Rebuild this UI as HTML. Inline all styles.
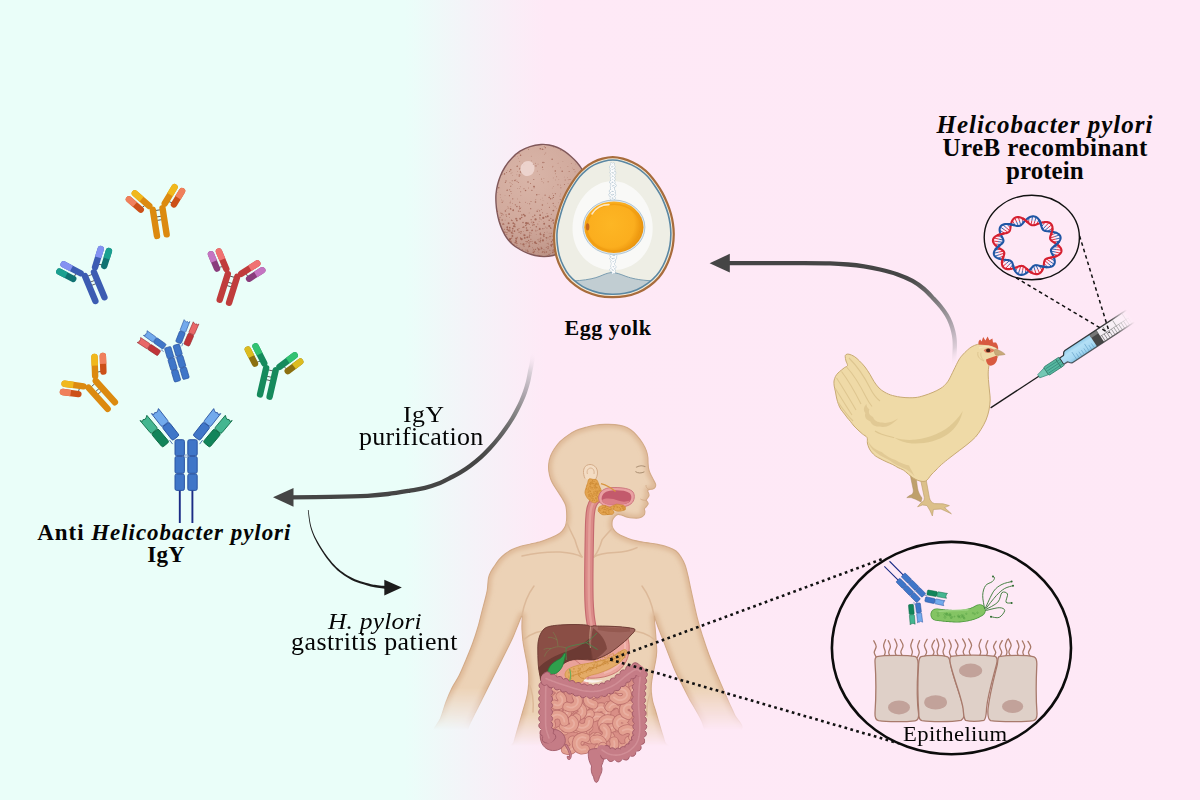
<!DOCTYPE html>
<html><head><meta charset="utf-8"><title>IgY diagram</title>
<style>
html,body{margin:0;padding:0;}
body{width:1200px;height:800px;overflow:hidden;position:relative;font-family:"Liberation Serif",serif;color:#050505;
background:linear-gradient(90deg,#eafef9 0px,#eafef9 405px,#f4f3f8 470px,#fee9f6 545px,#fee8f6 1200px);}
.t{position:absolute;white-space:nowrap;line-height:1;transform-origin:0 0;}
.b{font-weight:bold;}
.i{font-style:italic;}
svg{position:absolute;left:0;top:0;}
</style></head><body>
<svg id="art" width="1200" height="800" viewBox="0 0 1200 800">
<!-- arrows -->
<defs>
<linearGradient id="ga1" gradientUnits="userSpaceOnUse" x1="900" y1="275" x2="955" y2="365">
<stop offset="0" stop-color="#454545"/><stop offset="0.11" stop-color="#4c4c4c"/><stop offset="0.36" stop-color="#787678"/><stop offset="0.55" stop-color="#9a959a"/><stop offset="0.72" stop-color="#bcb1bb"/><stop offset="0.86" stop-color="#dccdd8"/><stop offset="1" stop-color="#fee8f6" stop-opacity="0"/></linearGradient>
<linearGradient id="ga2" gradientUnits="userSpaceOnUse" x1="533" y1="352" x2="480" y2="460">
<stop offset="0" stop-color="#fee8f6" stop-opacity="0"/><stop offset="0.16" stop-color="#d9d0d8"/><stop offset="0.33" stop-color="#b1a9b1"/><stop offset="0.49" stop-color="#8b8a8b"/><stop offset="0.67" stop-color="#6a6a6a"/><stop offset="0.87" stop-color="#505050"/><stop offset="1" stop-color="#454545"/></linearGradient>
</defs>
<path d="M727,263.1C733.33,263.1 752.83,263.1 765,263.1C777.17,263.1 789.17,263.05 800,263.1C810.83,263.15 822,263.17 830,263.4C838,263.63 842.33,264 848,264.5C853.67,265 858.67,265.57 864,266.4C869.33,267.23 874.5,268.2 880,269.5C885.5,270.8 891.58,272.3 897,274.2C902.42,276.1 908,278.43 912.5,280.9C917,283.37 920.47,286.02 924,289C927.53,291.98 930.87,295.8 933.7,298.8C936.53,301.8 938.83,304.3 941,307C943.17,309.7 945.1,312.33 946.7,315C948.3,317.67 949.52,320.28 950.6,323C951.68,325.72 952.53,328.55 953.2,331.3C953.87,334.05 954.33,336.78 954.6,339.5C954.87,342.22 954.83,344.85 954.8,347.6C954.77,350.35 954.53,353.1 954.4,356C954.27,358.9 954.07,363.5 954,365" fill="none" stroke="url(#ga1)" stroke-width="4.3"/>
<path d="M709.6,263.2 L729.8,253.8 L729.8,272.5 Z" fill="#454545"/>
<path d="M533.4,351C533.17,352.83 532.57,358.5 532,362C531.43,365.5 530.67,368.67 530,372C529.33,375.33 528.83,378.67 528,382C527.17,385.33 526.1,388.83 525,392C523.9,395.17 522.73,398 521.4,401C520.07,404 518.57,407 517,410C515.43,413 513.83,416 512,419C510.17,422 508.23,424.83 506,428C503.77,431.17 501.27,434.67 498.6,438C495.93,441.33 493,444.77 490,448C487,451.23 483.93,454.4 480.6,457.4C477.27,460.4 473.37,463.5 470,466C466.63,468.5 463.73,470.4 460.4,472.4C457.07,474.4 453.4,476.23 450,478C446.6,479.77 444.17,481.37 440,483C435.83,484.63 430,486.53 425,487.8C420,489.07 416.17,489.57 410,490.6C403.83,491.63 395.08,493.13 388,494C380.92,494.87 377.17,495.32 367.5,495.8C357.83,496.28 342.75,496.65 330,496.9C317.25,497.15 297.5,497.23 291,497.3" fill="none" stroke="url(#ga2)" stroke-width="4.3"/>
<path d="M273,497.3 L293.5,487.9 L293.5,506.7 Z" fill="#454545"/>
<path d="M307.85,510.04L308.06,511.81L308.32,514.28L308.65,517.19L309.06,520.3L309.55,523.36L310.13,526.12L310.79,528.54L311.51,530.85L312.32,533.09L313.23,535.33L314.27,537.64L315.46,540.08L316.82,542.7L318.36,545.45L320.02,548.27L321.78,551.09L323.58,553.84L325.4,556.44L327.23,558.92L329.1,561.34L331.02,563.7L333.01,565.96L335.08,568.12L337.22,570.15L339.45,572.06L341.77,573.86L344.15,575.54L346.58,577.11L349.05,578.56L351.56,579.9L354.19,581.13L356.97,582.22L359.78,583.19L362.49,584.06L364.99,584.82L367.18,585.49L368.99,586.04L370.51,586.47L371.84,586.8L373.1,587.06L374.37,587.3L375.81,587.55L377.53,587.82L379.45,588.07L381.4,588.3L383.22,588.49L384.76,588.66L385.86,588.79L386.14,586.01L385.03,585.92L383.48,585.79L381.66,585.64L379.74,585.46L377.86,585.26L376.19,585.05L374.78,584.84L373.53,584.65L372.34,584.44L371.08,584.18L369.62,583.81L367.82,583.31L365.62,582.68L363.12,581.96L360.44,581.16L357.69,580.25L354.99,579.23L352.44,578.1L350.01,576.84L347.58,575.46L345.19,573.97L342.85,572.37L340.57,570.66L338.38,568.85L336.27,566.9L334.23,564.83L332.25,562.64L330.32,560.35L328.44,557.99L326.6,555.56L324.77,553.02L322.95,550.33L321.18,547.56L319.49,544.79L317.94,542.09L316.54,539.52L315.33,537.13L314.27,534.88L313.33,532.69L312.5,530.5L311.75,528.25L311.07,525.88L310.45,523.19L309.92,520.17L309.47,517.08L309.1,514.18L308.8,511.72L308.55,509.96Z" fill="#1c1c1c"/>
<path d="M401.8,587.6 L384.3,579.8 L384.3,595.4 Z" fill="#1c1c1c"/>
<!-- antibodies -->
<g transform="translate(157.4,207.2) rotate(-9) scale(1)">
<g transform="translate(-6.4,-0.8) rotate(-40)">
<path d="M0,-5.5 L-8.4,-7" stroke="#555" stroke-width="0.9" fill="none"/>
<rect x="-11.6" y="-25" width="6.4" height="22" rx="3.2" fill="#cc5018"/>
<path d="M-11.6,-14 V-21.8 a3.2,3.2 0 0 1 6.4,0 V-14 Z" fill="#f0805c"/>
<rect x="-3.2" y="-24.5" width="6.4" height="25.5" rx="3.2" fill="#dc8a10"/>
<path d="M-3.2,-12.5 V-21.3 a3.2,3.2 0 0 1 6.4,0 V-12.5 Z" fill="#f0b81c"/>
</g>
<g transform="translate(6.4,-0.8) rotate(40)">
<path d="M0,-5.5 L8.4,-7" stroke="#555" stroke-width="0.9" fill="none"/>
<rect x="5.2" y="-25" width="6.4" height="22" rx="3.2" fill="#cc5018"/>
<path d="M5.2,-14 V-21.8 a3.2,3.2 0 0 1 6.4,0 V-14 Z" fill="#f0805c"/>
<rect x="-3.2" y="-24.5" width="6.4" height="25.5" rx="3.2" fill="#dc8a10"/>
<path d="M-3.2,-12.5 V-21.3 a3.2,3.2 0 0 1 6.4,0 V-12.5 Z" fill="#f0b81c"/>
</g>
<path d="M-2.4,3 H2.4 M-2.4,9.5 H2.4 M-2.4,13 H2.4" stroke="#555" stroke-width="0.9"/>
<rect x="-8.1" y="-1.5" width="6.4" height="33.0" rx="3.2" fill="#dc8a10"/>
<rect x="1.7" y="-1.5" width="6.4" height="33.0" rx="3.2" fill="#dc8a10"/>
</g>
<g transform="translate(88.8,272.5) rotate(-22.7) scale(1)">
<g transform="translate(-6.4,-0.8) rotate(-40)">
<path d="M0,-5.5 L-8.4,-7" stroke="#555" stroke-width="0.9" fill="none"/>
<rect x="-11.6" y="-25" width="6.4" height="22" rx="3.2" fill="#107272"/>
<path d="M-11.6,-14 V-21.8 a3.2,3.2 0 0 1 6.4,0 V-14 Z" fill="#1aa090"/>
<rect x="-3.2" y="-24.5" width="6.4" height="25.5" rx="3.2" fill="#3c5cb2"/>
<path d="M-3.2,-12.5 V-21.3 a3.2,3.2 0 0 1 6.4,0 V-12.5 Z" fill="#8492f2"/>
</g>
<g transform="translate(6.4,-0.8) rotate(40)">
<path d="M0,-5.5 L8.4,-7" stroke="#555" stroke-width="0.9" fill="none"/>
<rect x="5.2" y="-25" width="6.4" height="22" rx="3.2" fill="#107272"/>
<path d="M5.2,-14 V-21.8 a3.2,3.2 0 0 1 6.4,0 V-14 Z" fill="#1aa090"/>
<rect x="-3.2" y="-24.5" width="6.4" height="25.5" rx="3.2" fill="#3c5cb2"/>
<path d="M-3.2,-12.5 V-21.3 a3.2,3.2 0 0 1 6.4,0 V-12.5 Z" fill="#8492f2"/>
</g>
<path d="M-2.4,3 H2.4 M-2.4,9.5 H2.4 M-2.4,13 H2.4" stroke="#555" stroke-width="0.9"/>
<rect x="-8.1" y="-1.5" width="6.4" height="33.5" rx="3.2" fill="#3c5cb2"/>
<rect x="1.7" y="-1.5" width="6.4" height="33.5" rx="3.2" fill="#3c5cb2"/>
</g>
<g transform="translate(233,273.8) rotate(17.4) scale(1)">
<g transform="translate(-6.4,-0.8) rotate(-40)">
<path d="M0,-5.5 L-8.4,-7" stroke="#555" stroke-width="0.9" fill="none"/>
<rect x="-11.6" y="-25" width="6.4" height="22" rx="3.2" fill="#8a3c7c"/>
<path d="M-11.6,-14 V-21.8 a3.2,3.2 0 0 1 6.4,0 V-14 Z" fill="#c474c2"/>
<rect x="-3.2" y="-24.5" width="6.4" height="25.5" rx="3.2" fill="#c03c3c"/>
<path d="M-3.2,-12.5 V-21.3 a3.2,3.2 0 0 1 6.4,0 V-12.5 Z" fill="#f07272"/>
</g>
<g transform="translate(6.4,-0.8) rotate(40)">
<path d="M0,-5.5 L8.4,-7" stroke="#555" stroke-width="0.9" fill="none"/>
<rect x="5.2" y="-25" width="6.4" height="22" rx="3.2" fill="#8a3c7c"/>
<path d="M5.2,-14 V-21.8 a3.2,3.2 0 0 1 6.4,0 V-14 Z" fill="#c474c2"/>
<rect x="-3.2" y="-24.5" width="6.4" height="25.5" rx="3.2" fill="#c03c3c"/>
<path d="M-3.2,-12.5 V-21.3 a3.2,3.2 0 0 1 6.4,0 V-12.5 Z" fill="#f07272"/>
</g>
<path d="M-2.4,3 H2.4 M-2.4,9.5 H2.4 M-2.4,13 H2.4" stroke="#555" stroke-width="0.9"/>
<rect x="-8.1" y="-1.5" width="6.4" height="33.5" rx="3.2" fill="#c03c3c"/>
<rect x="1.7" y="-1.5" width="6.4" height="33.5" rx="3.2" fill="#c03c3c"/>
</g>
<g transform="translate(91,383) rotate(-42) scale(1)">
<g transform="translate(-6.4,-0.8) rotate(-40)">
<path d="M0,-5.5 L-8.4,-7" stroke="#555" stroke-width="0.9" fill="none"/>
<rect x="-11.6" y="-25" width="6.4" height="22" rx="3.2" fill="#cc5018"/>
<path d="M-11.6,-14 V-21.8 a3.2,3.2 0 0 1 6.4,0 V-14 Z" fill="#f0805c"/>
<rect x="-3.2" y="-24.5" width="6.4" height="25.5" rx="3.2" fill="#dc8a10"/>
<path d="M-3.2,-12.5 V-21.3 a3.2,3.2 0 0 1 6.4,0 V-12.5 Z" fill="#f0b81c"/>
</g>
<g transform="translate(6.4,-0.8) rotate(40)">
<path d="M0,-5.5 L8.4,-7" stroke="#555" stroke-width="0.9" fill="none"/>
<rect x="5.2" y="-25" width="6.4" height="22" rx="3.2" fill="#cc5018"/>
<path d="M5.2,-14 V-21.8 a3.2,3.2 0 0 1 6.4,0 V-14 Z" fill="#f0805c"/>
<rect x="-3.2" y="-24.5" width="6.4" height="25.5" rx="3.2" fill="#dc8a10"/>
<path d="M-3.2,-12.5 V-21.3 a3.2,3.2 0 0 1 6.4,0 V-12.5 Z" fill="#f0b81c"/>
</g>
<path d="M-2.4,3 H2.4 M-2.4,9.5 H2.4 M-2.4,13 H2.4" stroke="#555" stroke-width="0.9"/>
<rect x="-8.1" y="-1.5" width="6.4" height="35.0" rx="3.2" fill="#dc8a10"/>
<rect x="1.7" y="-1.5" width="6.4" height="35.0" rx="3.2" fill="#dc8a10"/>
</g>
<g transform="translate(271.3,367.5) rotate(13) scale(1)">
<g transform="translate(-6.4,-0.8) rotate(-40)">
<path d="M0,-5.5 L-8.4,-7" stroke="#555" stroke-width="0.9" fill="none"/>
<rect x="-11.6" y="-25" width="6.4" height="22" rx="3.2" fill="#8c7010"/>
<path d="M-11.6,-14 V-21.8 a3.2,3.2 0 0 1 6.4,0 V-14 Z" fill="#dcbc20"/>
<rect x="-3.2" y="-24.5" width="6.4" height="25.5" rx="3.2" fill="#158a5c"/>
<path d="M-3.2,-12.5 V-21.3 a3.2,3.2 0 0 1 6.4,0 V-12.5 Z" fill="#32c272"/>
</g>
<g transform="translate(6.4,-0.8) rotate(40)">
<path d="M0,-5.5 L8.4,-7" stroke="#555" stroke-width="0.9" fill="none"/>
<rect x="5.2" y="-25" width="6.4" height="22" rx="3.2" fill="#8c7010"/>
<path d="M5.2,-14 V-21.8 a3.2,3.2 0 0 1 6.4,0 V-14 Z" fill="#dcbc20"/>
<rect x="-3.2" y="-24.5" width="6.4" height="25.5" rx="3.2" fill="#158a5c"/>
<path d="M-3.2,-12.5 V-21.3 a3.2,3.2 0 0 1 6.4,0 V-12.5 Z" fill="#32c272"/>
</g>
<path d="M-2.4,3 H2.4 M-2.4,9.5 H2.4 M-2.4,13 H2.4" stroke="#555" stroke-width="0.9"/>
<rect x="-8.1" y="-1.5" width="6.4" height="33.5" rx="3.2" fill="#158a5c"/>
<rect x="1.7" y="-1.5" width="6.4" height="33.5" rx="3.2" fill="#158a5c"/>
</g>
<g transform="translate(171.7,345.6) rotate(-16.6) scale(0.7)">
<g transform="translate(-20.3,5.5) rotate(-40) scale(-1,1)">
<rect x="-4.3" y="-17.2" width="8.6" height="17.2" rx="1.7" fill="#c03438" stroke="#9a2c30" stroke-width="0.9"/>
<path d="M-4.3,-19.2 Q-4.3,-17.7 -2.8,-17.7 H2.8 Q4.3,-17.7 4.3,-19.2 V-35 L3.01,-32.8 L1.29,-33.8 L-0.43,-32.6 L-2.37,-33.4 L-4.3,-34.6 Z" fill="#e86868" stroke="#9a2c30" stroke-width="0.8"/>
</g>
<path d="M-16.5,1 L-13.5,5" stroke="#27509e" stroke-width="0.8"/>
<g transform="translate(-10.2,-1.2) rotate(-38) scale(-1,1)">
<rect x="-4.3" y="-16.8" width="8.6" height="16.8" rx="1.7" fill="#3f76c8" stroke="#27509e" stroke-width="0.9"/>
<path d="M-4.3,-18.8 Q-4.3,-17.3 -2.8,-17.3 H2.8 Q4.3,-17.3 4.3,-18.8 V-34.2 L3.01,-32 L1.29,-33 L-0.43,-31.8 L-2.37,-32.6 L-4.3,-33.8 Z" fill="#72aaec" stroke="#27509e" stroke-width="0.8"/>
</g>
<g transform="translate(20.3,5.5) rotate(40) scale(1,1)">
<rect x="-4.3" y="-17.2" width="8.6" height="17.2" rx="1.7" fill="#c03438" stroke="#9a2c30" stroke-width="0.9"/>
<path d="M-4.3,-19.2 Q-4.3,-17.7 -2.8,-17.7 H2.8 Q4.3,-17.7 4.3,-19.2 V-35 L3.01,-32.8 L1.29,-33.8 L-0.43,-32.6 L-2.37,-33.4 L-4.3,-34.6 Z" fill="#e86868" stroke="#9a2c30" stroke-width="0.8"/>
</g>
<path d="M16.5,1 L13.5,5" stroke="#27509e" stroke-width="0.8"/>
<g transform="translate(10.2,-1.2) rotate(38) scale(1,1)">
<rect x="-4.3" y="-16.8" width="8.6" height="16.8" rx="1.7" fill="#3f76c8" stroke="#27509e" stroke-width="0.9"/>
<path d="M-4.3,-18.8 Q-4.3,-17.3 -2.8,-17.3 H2.8 Q4.3,-17.3 4.3,-18.8 V-34.2 L3.01,-32 L1.29,-33 L-0.43,-31.8 L-2.37,-32.6 L-4.3,-33.8 Z" fill="#72aaec" stroke="#27509e" stroke-width="0.8"/>
</g>
<rect x="-11.1" y="0.6" width="9.4" height="16" rx="1.7" fill="#3f76c8" stroke="#27509e" stroke-width="0.95"/>
<rect x="-11.1" y="17.3" width="9.4" height="16.9" rx="1.7" fill="#3f76c8" stroke="#27509e" stroke-width="0.95"/>
<rect x="-11.1" y="34.9" width="9.4" height="16.4" rx="1.7" fill="#3f76c8" stroke="#27509e" stroke-width="0.95"/>
<rect x="1.7" y="0.6" width="9.4" height="16" rx="1.7" fill="#3f76c8" stroke="#27509e" stroke-width="0.95"/>
<rect x="1.7" y="17.3" width="9.4" height="16.9" rx="1.7" fill="#3f76c8" stroke="#27509e" stroke-width="0.95"/>
<rect x="1.7" y="34.9" width="9.4" height="16.4" rx="1.7" fill="#3f76c8" stroke="#27509e" stroke-width="0.95"/>
<ellipse cx="0" cy="17" rx="1.7" ry="1.2" fill="#f4fbfa" stroke="#27509e" stroke-width="0.5"/>
</g>
<g transform="translate(186.1,439.1) rotate(0) scale(1)">
<path d="M-6.3,50 V83.8 M6.3,50 V83.8" stroke="#1c2c86" stroke-width="1.9" fill="none"/>
<g transform="translate(-20.3,5.5) rotate(-40) scale(-1,1)">
<rect x="-4.3" y="-17.2" width="8.6" height="17.2" rx="1.7" fill="#12845a" stroke="#0c6a44" stroke-width="0.9"/>
<path d="M-4.3,-19.2 Q-4.3,-17.7 -2.8,-17.7 H2.8 Q4.3,-17.7 4.3,-19.2 V-35 L3.01,-32.8 L1.29,-33.8 L-0.43,-32.6 L-2.37,-33.4 L-4.3,-34.6 Z" fill="#44b690" stroke="#0c6a44" stroke-width="0.8"/>
</g>
<path d="M-16.5,1 L-13.5,5" stroke="#27509e" stroke-width="0.8"/>
<g transform="translate(-10.2,-1.2) rotate(-38) scale(-1,1)">
<rect x="-4.3" y="-16.8" width="8.6" height="16.8" rx="1.7" fill="#3f76c8" stroke="#27509e" stroke-width="0.9"/>
<path d="M-4.3,-18.8 Q-4.3,-17.3 -2.8,-17.3 H2.8 Q4.3,-17.3 4.3,-18.8 V-34.2 L3.01,-32 L1.29,-33 L-0.43,-31.8 L-2.37,-32.6 L-4.3,-33.8 Z" fill="#72aaec" stroke="#27509e" stroke-width="0.8"/>
</g>
<g transform="translate(20.3,5.5) rotate(40) scale(1,1)">
<rect x="-4.3" y="-17.2" width="8.6" height="17.2" rx="1.7" fill="#12845a" stroke="#0c6a44" stroke-width="0.9"/>
<path d="M-4.3,-19.2 Q-4.3,-17.7 -2.8,-17.7 H2.8 Q4.3,-17.7 4.3,-19.2 V-35 L3.01,-32.8 L1.29,-33.8 L-0.43,-32.6 L-2.37,-33.4 L-4.3,-34.6 Z" fill="#44b690" stroke="#0c6a44" stroke-width="0.8"/>
</g>
<path d="M16.5,1 L13.5,5" stroke="#27509e" stroke-width="0.8"/>
<g transform="translate(10.2,-1.2) rotate(38) scale(1,1)">
<rect x="-4.3" y="-16.8" width="8.6" height="16.8" rx="1.7" fill="#3f76c8" stroke="#27509e" stroke-width="0.9"/>
<path d="M-4.3,-18.8 Q-4.3,-17.3 -2.8,-17.3 H2.8 Q4.3,-17.3 4.3,-18.8 V-34.2 L3.01,-32 L1.29,-33 L-0.43,-31.8 L-2.37,-32.6 L-4.3,-33.8 Z" fill="#72aaec" stroke="#27509e" stroke-width="0.8"/>
</g>
<rect x="-11.1" y="0.6" width="9.4" height="16" rx="1.7" fill="#3f76c8" stroke="#27509e" stroke-width="0.95"/>
<rect x="-11.1" y="17.3" width="9.4" height="16.9" rx="1.7" fill="#3f76c8" stroke="#27509e" stroke-width="0.95"/>
<rect x="-11.1" y="34.9" width="9.4" height="16.4" rx="1.7" fill="#3f76c8" stroke="#27509e" stroke-width="0.95"/>
<rect x="1.7" y="0.6" width="9.4" height="16" rx="1.7" fill="#3f76c8" stroke="#27509e" stroke-width="0.95"/>
<rect x="1.7" y="17.3" width="9.4" height="16.9" rx="1.7" fill="#3f76c8" stroke="#27509e" stroke-width="0.95"/>
<rect x="1.7" y="34.9" width="9.4" height="16.4" rx="1.7" fill="#3f76c8" stroke="#27509e" stroke-width="0.95"/>
<ellipse cx="0" cy="17" rx="1.7" ry="1.2" fill="#f4fbfa" stroke="#27509e" stroke-width="0.5"/>
</g>
<!-- eggs -->
<defs>
<radialGradient id="gEggB" gradientUnits="userSpaceOnUse" cx="530" cy="176" r="88">
<stop offset="0" stop-color="#d9b5a8"/><stop offset="0.5" stop-color="#d2ab9e"/><stop offset="0.8" stop-color="#c59c8f"/><stop offset="1" stop-color="#b68c80"/></radialGradient>
<clipPath id="cEggB"><path d="M541,144.5C537.83,144.77 533.5,145.48 530,146.6C526.5,147.72 523.07,149.23 520,151.2C516.93,153.17 514.1,155.77 511.6,158.4C509.1,161.03 506.87,164.07 505,167C503.13,169.93 501.65,173 500.4,176C499.15,179 498.23,182 497.5,185C496.77,188 496.25,191 496,194C495.75,197 495.83,200 496,203C496.17,206 496.5,209 497,212C497.5,215 498.13,218.07 499,221C499.87,223.93 500.95,226.85 502.2,229.6C503.45,232.35 504.77,235.03 506.5,237.5C508.23,239.97 510.35,242.4 512.6,244.4C514.85,246.4 517.53,248.03 520,249.5C522.47,250.97 524.9,252.2 527.4,253.2C529.9,254.2 532.23,254.93 535,255.5C537.77,256.07 541,256.6 544,256.6C547,256.6 549.83,256.33 553,255.5C556.17,254.67 559.83,253.18 563,251.6C566.17,250.02 569.17,248.33 572,246C574.83,243.67 577.73,240.6 580,237.6C582.27,234.6 584.03,231.5 585.6,228C587.17,224.5 588.57,220.43 589.4,216.6C590.23,212.77 590.57,208.77 590.6,205C590.63,201.23 590.1,197.5 589.6,194C589.1,190.5 588.43,187.1 587.6,184C586.77,180.9 585.62,177.98 584.6,175.4C583.58,172.82 582.83,170.73 581.5,168.5C580.17,166.27 578.35,164 576.6,162C574.85,160 573,158.27 571,156.5C569,154.73 566.85,152.9 564.6,151.4C562.35,149.9 560.1,148.57 557.5,147.5C554.9,146.43 551.75,145.5 549,145C546.25,144.5 544.17,144.23 541,144.5Z"/></clipPath>
<radialGradient id="gYolk" gradientUnits="userSpaceOnUse" cx="611" cy="224" r="31">
<stop offset="0" stop-color="#fdb624"/><stop offset="0.75" stop-color="#fbae1e"/><stop offset="0.93" stop-color="#f09c12"/><stop offset="1" stop-color="#e89410"/></radialGradient>
</defs>
<path d="M541,144.5C537.83,144.77 533.5,145.48 530,146.6C526.5,147.72 523.07,149.23 520,151.2C516.93,153.17 514.1,155.77 511.6,158.4C509.1,161.03 506.87,164.07 505,167C503.13,169.93 501.65,173 500.4,176C499.15,179 498.23,182 497.5,185C496.77,188 496.25,191 496,194C495.75,197 495.83,200 496,203C496.17,206 496.5,209 497,212C497.5,215 498.13,218.07 499,221C499.87,223.93 500.95,226.85 502.2,229.6C503.45,232.35 504.77,235.03 506.5,237.5C508.23,239.97 510.35,242.4 512.6,244.4C514.85,246.4 517.53,248.03 520,249.5C522.47,250.97 524.9,252.2 527.4,253.2C529.9,254.2 532.23,254.93 535,255.5C537.77,256.07 541,256.6 544,256.6C547,256.6 549.83,256.33 553,255.5C556.17,254.67 559.83,253.18 563,251.6C566.17,250.02 569.17,248.33 572,246C574.83,243.67 577.73,240.6 580,237.6C582.27,234.6 584.03,231.5 585.6,228C587.17,224.5 588.57,220.43 589.4,216.6C590.23,212.77 590.57,208.77 590.6,205C590.63,201.23 590.1,197.5 589.6,194C589.1,190.5 588.43,187.1 587.6,184C586.77,180.9 585.62,177.98 584.6,175.4C583.58,172.82 582.83,170.73 581.5,168.5C580.17,166.27 578.35,164 576.6,162C574.85,160 573,158.27 571,156.5C569,154.73 566.85,152.9 564.6,151.4C562.35,149.9 560.1,148.57 557.5,147.5C554.9,146.43 551.75,145.5 549,145C546.25,144.5 544.17,144.23 541,144.5Z" fill="url(#gEggB)" stroke="#80585a" stroke-width="1.4"/>
<g clip-path="url(#cEggB)" fill="#9c5c4c" opacity="0.8"><circle cx="502.16" cy="202.33" r="0.6"/><circle cx="553.13" cy="210.71" r="0.6"/><circle cx="506.17" cy="209.4" r="0.35"/><circle cx="545.75" cy="152.97" r="0.45"/><circle cx="538.44" cy="248.5" r="0.45"/><circle cx="522.63" cy="254.8" r="0.95"/><circle cx="527.44" cy="249.59" r="0.35"/><circle cx="548" cy="243.18" r="0.55"/><circle cx="585.39" cy="237.23" r="0.6"/><circle cx="527.88" cy="250.41" r="0.35"/><circle cx="532.41" cy="247.77" r="0.4"/><circle cx="531.92" cy="190.29" r="0.6"/><circle cx="511.44" cy="183.75" r="0.3"/><circle cx="550.6" cy="198.63" r="0.75"/><circle cx="520.56" cy="238" r="0.65"/><circle cx="578.36" cy="230.15" r="0.35"/><circle cx="520.24" cy="186.7" r="0.45"/><circle cx="544.4" cy="232.48" r="0.45"/><circle cx="567.17" cy="230.17" r="0.45"/><circle cx="528.65" cy="149.22" r="0.5"/><circle cx="528.11" cy="254.17" r="0.7"/><circle cx="577.13" cy="239.29" r="0.55"/><circle cx="512.89" cy="233.59" r="0.6"/><circle cx="510.88" cy="206.86" r="0.35"/><circle cx="543.87" cy="249.63" r="0.45"/><circle cx="518.41" cy="211.09" r="0.6"/><circle cx="552.1" cy="159.36" r="0.75"/><circle cx="580.95" cy="239.24" r="0.35"/><circle cx="515.93" cy="179.61" r="0.4"/><circle cx="511.49" cy="220.13" r="0.6"/><circle cx="537.82" cy="224.05" r="0.5"/><circle cx="500.52" cy="232.47" r="0.4"/><circle cx="520.93" cy="147.87" r="0.5"/><circle cx="504.45" cy="241.04" r="0.35"/><circle cx="518.22" cy="158.15" r="0.3"/><circle cx="585.51" cy="150.1" r="0.45"/><circle cx="575.31" cy="193.81" r="0.6"/><circle cx="574.48" cy="220.43" r="0.45"/><circle cx="584.66" cy="181.91" r="0.5"/><circle cx="519.09" cy="232.16" r="0.7"/><circle cx="517.9" cy="229.96" r="0.75"/><circle cx="515.68" cy="250.96" r="0.7"/><circle cx="543.64" cy="251.75" r="0.5"/><circle cx="540.27" cy="148.76" r="0.75"/><circle cx="534.04" cy="187.75" r="0.55"/><circle cx="531.97" cy="256.87" r="0.55"/><circle cx="564.25" cy="240.82" r="0.3"/><circle cx="522.42" cy="249.85" r="0.5"/><circle cx="532.6" cy="243.21" r="0.45"/><circle cx="501.4" cy="227.29" r="0.4"/><circle cx="520.16" cy="218.82" r="0.95"/><circle cx="526.62" cy="230.28" r="0.8"/><circle cx="529.78" cy="235.84" r="0.3"/><circle cx="530.54" cy="183.54" r="0.5"/><circle cx="505.24" cy="245.54" r="0.75"/><circle cx="568.58" cy="253.48" r="0.35"/><circle cx="583.53" cy="173.58" r="0.4"/><circle cx="510.53" cy="253.88" r="1.1"/><circle cx="535.93" cy="230.79" r="0.5"/><circle cx="556.39" cy="248.69" r="0.3"/><circle cx="503" cy="201.02" r="0.45"/><circle cx="523.25" cy="251.66" r="0.4"/><circle cx="540.17" cy="247.05" r="0.4"/><circle cx="533.97" cy="224.79" r="0.75"/><circle cx="580.29" cy="228.84" r="0.6"/><circle cx="584.66" cy="195.11" r="0.35"/><circle cx="508.01" cy="253.03" r="0.55"/><circle cx="524.47" cy="235.24" r="1.1"/><circle cx="502.52" cy="167.64" r="0.55"/><circle cx="502.81" cy="237.69" r="0.75"/><circle cx="540.92" cy="249.02" r="0.5"/><circle cx="519.01" cy="153.19" r="0.55"/><circle cx="511.3" cy="193.35" r="0.35"/><circle cx="520.58" cy="155.33" r="0.75"/><circle cx="584.97" cy="253.9" r="0.4"/><circle cx="572.38" cy="219.75" r="0.85"/><circle cx="510.65" cy="244.14" r="0.9"/><circle cx="575.04" cy="171.85" r="0.45"/><circle cx="550.35" cy="218.33" r="0.3"/><circle cx="533.04" cy="250.56" r="0.4"/><circle cx="538.02" cy="164.04" r="0.4"/><circle cx="554.02" cy="246.99" r="0.55"/><circle cx="512.28" cy="184.62" r="0.4"/><circle cx="568.63" cy="253.32" r="0.4"/><circle cx="500.87" cy="247.32" r="0.95"/><circle cx="510.93" cy="185.87" r="0.45"/><circle cx="500.39" cy="239.04" r="0.75"/><circle cx="536.76" cy="194.66" r="0.75"/><circle cx="529.51" cy="235.05" r="0.65"/><circle cx="508.59" cy="248.36" r="0.7"/><circle cx="562.16" cy="236.46" r="1.1"/><circle cx="551.6" cy="246.46" r="0.5"/><circle cx="542.03" cy="181.42" r="0.4"/><circle cx="532.91" cy="216.66" r="0.55"/><circle cx="512.02" cy="233.12" r="0.3"/><circle cx="529.02" cy="242.9" r="0.7"/><circle cx="510.01" cy="182.72" r="0.45"/><circle cx="512.73" cy="228.54" r="0.85"/><circle cx="534.17" cy="186.41" r="0.75"/><circle cx="517.23" cy="218.5" r="0.3"/><circle cx="533.78" cy="179.43" r="0.55"/><circle cx="552.53" cy="198.71" r="0.45"/><circle cx="559.97" cy="196.04" r="0.4"/><circle cx="574.54" cy="232.82" r="0.5"/><circle cx="543.06" cy="200.71" r="0.3"/><circle cx="537.27" cy="171.08" r="0.45"/><circle cx="579.34" cy="250.66" r="0.65"/><circle cx="526.09" cy="243.7" r="0.45"/><circle cx="544.23" cy="146.71" r="0.45"/><circle cx="509.87" cy="148.99" r="0.4"/><circle cx="527.69" cy="161.74" r="0.3"/><circle cx="509.32" cy="217.43" r="0.35"/><circle cx="553.21" cy="177.9" r="0.35"/><circle cx="567.49" cy="217.74" r="0.55"/><circle cx="535.84" cy="231.81" r="0.3"/><circle cx="516.28" cy="241.71" r="0.85"/><circle cx="540.74" cy="234.44" r="0.75"/><circle cx="553.14" cy="250.78" r="0.65"/><circle cx="555.93" cy="228.36" r="0.75"/><circle cx="518.02" cy="252.09" r="0.7"/><circle cx="521.99" cy="244.26" r="0.3"/><circle cx="553.28" cy="197.42" r="0.6"/><circle cx="517.35" cy="166.15" r="0.6"/><circle cx="524.86" cy="215.74" r="0.95"/><circle cx="532.61" cy="225.1" r="0.6"/><circle cx="498.75" cy="241.3" r="0.4"/><circle cx="498.43" cy="233.97" r="0.55"/><circle cx="531.93" cy="230.66" r="0.55"/><circle cx="519.47" cy="188.38" r="0.35"/><circle cx="562.99" cy="250.33" r="0.45"/><circle cx="582.52" cy="197.29" r="0.35"/><circle cx="528.57" cy="240.42" r="0.6"/><circle cx="568.68" cy="234.68" r="0.85"/><circle cx="540.16" cy="215.19" r="0.9"/><circle cx="523.98" cy="188.75" r="0.55"/><circle cx="553.35" cy="147.66" r="0.35"/><circle cx="555.38" cy="173.75" r="0.4"/><circle cx="545.82" cy="216.66" r="0.75"/><circle cx="544.24" cy="228.35" r="0.35"/><circle cx="520.54" cy="171.99" r="0.75"/><circle cx="550.36" cy="227.54" r="0.55"/><circle cx="527.14" cy="241.65" r="0.75"/><circle cx="546.32" cy="247.27" r="0.55"/><circle cx="546.31" cy="237.77" r="0.75"/><circle cx="537.75" cy="230.66" r="0.4"/><circle cx="498.19" cy="242.78" r="0.5"/><circle cx="548.2" cy="247.97" r="0.3"/><circle cx="552.79" cy="193.4" r="0.35"/><circle cx="584.81" cy="241.29" r="0.7"/><circle cx="498.58" cy="225.85" r="0.4"/><circle cx="509.89" cy="230.29" r="0.75"/><circle cx="560.83" cy="147.27" r="0.35"/><circle cx="507.39" cy="251.88" r="0.6"/><circle cx="549.04" cy="254.38" r="0.6"/><circle cx="569.25" cy="242.26" r="0.5"/><circle cx="561.27" cy="255.03" r="0.3"/><circle cx="563.85" cy="233.87" r="0.35"/><circle cx="525.57" cy="202.18" r="0.45"/><circle cx="543.03" cy="162.54" r="0.75"/><circle cx="527.7" cy="203.66" r="0.3"/><circle cx="515.21" cy="242.66" r="0.8"/><circle cx="513.09" cy="155.29" r="0.55"/><circle cx="585.26" cy="170.61" r="0.5"/><circle cx="499.47" cy="248.02" r="1.1"/><circle cx="512" cy="172.47" r="0.3"/><circle cx="510.97" cy="238.44" r="0.55"/><circle cx="509.44" cy="195.64" r="0.6"/><circle cx="527.24" cy="237.36" r="0.9"/><circle cx="520.71" cy="191.71" r="0.5"/><circle cx="546.83" cy="238.72" r="0.45"/><circle cx="567.27" cy="250.74" r="0.55"/><circle cx="560.33" cy="167.83" r="0.35"/><circle cx="571.86" cy="247.7" r="0.9"/><circle cx="571.93" cy="241.96" r="0.3"/><circle cx="566.34" cy="242.36" r="0.65"/><circle cx="506.58" cy="227.13" r="0.3"/><circle cx="516.91" cy="166.25" r="0.5"/><circle cx="546.43" cy="252.04" r="0.8"/><circle cx="500.22" cy="253.72" r="0.9"/><circle cx="569.54" cy="240.09" r="0.4"/><circle cx="500.06" cy="217.21" r="0.5"/><circle cx="568.76" cy="149.97" r="0.35"/><circle cx="544.51" cy="162.47" r="0.4"/><circle cx="575.78" cy="247.63" r="0.85"/><circle cx="514.91" cy="224.85" r="0.5"/><circle cx="523.3" cy="231.71" r="0.35"/><circle cx="521.63" cy="239.13" r="1.1"/><circle cx="521.86" cy="214.98" r="0.75"/><circle cx="517.64" cy="237.2" r="0.45"/><circle cx="544.93" cy="256.81" r="0.6"/><circle cx="552.59" cy="256.57" r="0.7"/><circle cx="549.17" cy="220.16" r="0.75"/><circle cx="542.34" cy="149.22" r="0.75"/><circle cx="525.73" cy="225.42" r="0.75"/><circle cx="565" cy="150.88" r="0.45"/><circle cx="540.11" cy="234" r="0.75"/><circle cx="499.25" cy="235.34" r="0.75"/><circle cx="521" cy="238.69" r="0.75"/><circle cx="580.85" cy="256.77" r="0.75"/><circle cx="515.92" cy="242.84" r="0.35"/><circle cx="521.07" cy="231.66" r="0.75"/><circle cx="541.53" cy="178.96" r="0.5"/><circle cx="573.82" cy="249.98" r="0.55"/><circle cx="555.66" cy="223.62" r="0.6"/><circle cx="552.97" cy="166.16" r="0.45"/><circle cx="560.42" cy="150.49" r="0.4"/><circle cx="535.33" cy="230.02" r="0.3"/><circle cx="553.02" cy="250.51" r="0.45"/><circle cx="557.91" cy="184.74" r="0.5"/><circle cx="577.2" cy="243.14" r="0.3"/><circle cx="528.06" cy="251.41" r="0.55"/><circle cx="508.36" cy="230.57" r="0.85"/><circle cx="511.57" cy="232.68" r="0.85"/><circle cx="514.93" cy="180.47" r="0.75"/><circle cx="514.54" cy="223.88" r="0.7"/><circle cx="526.52" cy="228.03" r="0.75"/><circle cx="540.46" cy="233.01" r="0.55"/><circle cx="577.56" cy="250.89" r="0.75"/><circle cx="509.63" cy="171.25" r="0.6"/><circle cx="513.98" cy="226.25" r="0.95"/><circle cx="576.27" cy="152.96" r="0.4"/><circle cx="552.17" cy="236.04" r="0.55"/><circle cx="539.79" cy="217.86" r="0.55"/><circle cx="553.4" cy="240.14" r="0.75"/><circle cx="552.77" cy="252.6" r="0.75"/><circle cx="547.11" cy="232.02" r="0.3"/><circle cx="582.05" cy="197.03" r="0.4"/><circle cx="500.87" cy="213.02" r="0.55"/><circle cx="571.6" cy="210.53" r="0.3"/><circle cx="520.92" cy="195.29" r="0.4"/><circle cx="540.36" cy="199.72" r="0.3"/><circle cx="502.65" cy="256.04" r="0.4"/><circle cx="523.91" cy="164.75" r="0.5"/><circle cx="555.64" cy="253.21" r="0.45"/><circle cx="535.12" cy="242.38" r="1.1"/><circle cx="512.6" cy="245.65" r="0.4"/><circle cx="518.08" cy="148.23" r="0.75"/><circle cx="582.72" cy="212.71" r="0.55"/><circle cx="498.34" cy="181.84" r="0.55"/><circle cx="533.07" cy="221.36" r="0.3"/><circle cx="566.06" cy="255.65" r="0.75"/><circle cx="571.31" cy="163.39" r="0.45"/><circle cx="509.7" cy="231.16" r="0.55"/><circle cx="564.93" cy="232.14" r="0.75"/><circle cx="519.51" cy="207.95" r="0.55"/><circle cx="507.88" cy="206.3" r="0.4"/><circle cx="499.36" cy="219.26" r="0.6"/><circle cx="573.57" cy="149.41" r="0.6"/><circle cx="582.16" cy="169.54" r="0.45"/><circle cx="572.77" cy="227.64" r="1.1"/><circle cx="573.89" cy="256.43" r="0.3"/><circle cx="510.52" cy="247.31" r="0.85"/><circle cx="567.5" cy="222.53" r="0.45"/><circle cx="559.16" cy="226.86" r="0.9"/><circle cx="572.93" cy="253.9" r="0.7"/><circle cx="512.77" cy="175.38" r="0.3"/><circle cx="576.93" cy="216.48" r="0.5"/><circle cx="500" cy="225.52" r="0.55"/><circle cx="574.38" cy="185.43" r="0.5"/><circle cx="551.54" cy="221.17" r="0.45"/><circle cx="547.79" cy="256.93" r="0.55"/><circle cx="543.95" cy="236.28" r="0.75"/><circle cx="512.53" cy="203.42" r="0.4"/><circle cx="529.66" cy="203.8" r="0.55"/><circle cx="543.58" cy="234.97" r="0.8"/><circle cx="520.11" cy="211.56" r="0.5"/><circle cx="560.85" cy="187.71" r="0.5"/><circle cx="572.8" cy="210.4" r="0.45"/><circle cx="577.22" cy="230.03" r="0.75"/><circle cx="509.04" cy="229.56" r="0.45"/><circle cx="507.51" cy="170.5" r="0.3"/><circle cx="560.28" cy="199.59" r="0.6"/><circle cx="501.46" cy="215.54" r="0.45"/><circle cx="497.54" cy="255.74" r="0.85"/><circle cx="531.15" cy="219.7" r="0.6"/><circle cx="519.88" cy="168.42" r="0.55"/><circle cx="509.57" cy="249.28" r="0.75"/><circle cx="536.59" cy="243.46" r="0.6"/><circle cx="569.47" cy="201.18" r="0.4"/><circle cx="509.97" cy="247.88" r="0.35"/><circle cx="514.94" cy="156.16" r="0.45"/><circle cx="558.05" cy="163.19" r="0.4"/><circle cx="500.72" cy="238.81" r="0.45"/><circle cx="517.54" cy="254.13" r="0.4"/><circle cx="516.88" cy="206.57" r="0.75"/><circle cx="565.09" cy="246.37" r="0.85"/><circle cx="550.29" cy="253.38" r="0.4"/><circle cx="519.02" cy="228.4" r="0.5"/><circle cx="506.48" cy="172.5" r="0.5"/><circle cx="498.34" cy="250.71" r="0.45"/><circle cx="517.4" cy="229.25" r="0.5"/><circle cx="534.74" cy="215.29" r="0.7"/><circle cx="566.78" cy="224.9" r="0.8"/><circle cx="510.18" cy="202.77" r="0.55"/><circle cx="558.06" cy="224.65" r="0.3"/><circle cx="556.87" cy="228.76" r="0.5"/><circle cx="566.81" cy="242.66" r="0.7"/><circle cx="546.98" cy="243.41" r="0.3"/><circle cx="580.81" cy="237.66" r="0.7"/><circle cx="513.67" cy="244.74" r="0.8"/><circle cx="551.31" cy="245.22" r="1.1"/><circle cx="573.25" cy="253.48" r="0.65"/><circle cx="512.61" cy="250.9" r="0.5"/><circle cx="564.03" cy="219.94" r="0.5"/><circle cx="557.21" cy="246.7" r="0.55"/><circle cx="537.84" cy="251.25" r="0.3"/><circle cx="563.52" cy="217.21" r="0.8"/><circle cx="512.19" cy="180.63" r="0.5"/><circle cx="583.46" cy="232.26" r="0.75"/><circle cx="511.23" cy="245.06" r="0.5"/><circle cx="500.68" cy="237.76" r="0.55"/><circle cx="561.34" cy="228.4" r="0.6"/><circle cx="580.69" cy="228.41" r="0.6"/><circle cx="509.76" cy="227.66" r="0.85"/><circle cx="554.75" cy="243.53" r="0.6"/><circle cx="583.76" cy="235.03" r="0.7"/><circle cx="582.86" cy="204.91" r="0.45"/><circle cx="522.07" cy="254.1" r="0.65"/><circle cx="512.4" cy="236" r="0.9"/><circle cx="568.57" cy="252.71" r="0.85"/><circle cx="561.31" cy="225.87" r="0.45"/><circle cx="529.39" cy="244.15" r="0.35"/><circle cx="581.13" cy="254.84" r="0.95"/><circle cx="576.78" cy="194.47" r="0.35"/><circle cx="552.59" cy="244.27" r="0.8"/><circle cx="575.38" cy="213.25" r="0.75"/><circle cx="568.44" cy="150.23" r="0.45"/><circle cx="542.37" cy="252.2" r="0.65"/><circle cx="499.64" cy="217.96" r="0.35"/><circle cx="556.69" cy="208.15" r="0.4"/><circle cx="570.84" cy="236.08" r="0.35"/><circle cx="575.44" cy="255.19" r="0.85"/><circle cx="584.09" cy="231.34" r="0.7"/><circle cx="557.78" cy="231.18" r="0.6"/><circle cx="535.34" cy="243.47" r="0.5"/><circle cx="528.02" cy="182.01" r="0.75"/><circle cx="497.15" cy="231.58" r="0.55"/><circle cx="544.82" cy="253.19" r="0.3"/><circle cx="544.92" cy="250.11" r="0.35"/><circle cx="560.57" cy="193.88" r="0.4"/><circle cx="551.34" cy="214.18" r="0.5"/><circle cx="519.12" cy="174.54" r="0.45"/><circle cx="562.9" cy="161.76" r="0.35"/><circle cx="558.85" cy="179.73" r="0.35"/><circle cx="544.68" cy="154.15" r="0.35"/><circle cx="575.12" cy="248.2" r="0.7"/><circle cx="532.14" cy="223.34" r="0.35"/><circle cx="531.53" cy="233.08" r="0.45"/><circle cx="556.69" cy="176.82" r="0.45"/><circle cx="502.09" cy="174.19" r="0.45"/><circle cx="579.84" cy="249.9" r="0.75"/><circle cx="538.76" cy="249.96" r="0.35"/><circle cx="585.99" cy="249.05" r="0.3"/><circle cx="573.96" cy="169.57" r="0.5"/><circle cx="503.06" cy="224.09" r="0.85"/><circle cx="550.84" cy="218.28" r="0.55"/><circle cx="500.2" cy="194.73" r="0.45"/><circle cx="502.89" cy="148.78" r="0.55"/><circle cx="542.54" cy="251.26" r="0.45"/><circle cx="516.26" cy="238.57" r="1.1"/><circle cx="583.77" cy="229.89" r="0.75"/><circle cx="511.42" cy="237.91" r="0.5"/><circle cx="520.24" cy="208.39" r="0.6"/><circle cx="548.75" cy="244.4" r="0.45"/><circle cx="519.53" cy="209.29" r="0.4"/><circle cx="582.65" cy="167.39" r="0.5"/><circle cx="543.62" cy="221.19" r="0.3"/><circle cx="560.11" cy="217.87" r="0.55"/><circle cx="520.68" cy="149.96" r="0.6"/><circle cx="527.71" cy="230.18" r="0.75"/><circle cx="557.2" cy="232.7" r="0.35"/><circle cx="514.47" cy="231.05" r="0.85"/><circle cx="504.63" cy="173.63" r="0.4"/><circle cx="539.62" cy="174.7" r="0.35"/><circle cx="520.49" cy="175.48" r="0.3"/><circle cx="513.77" cy="249.12" r="0.3"/><circle cx="498.48" cy="180.56" r="0.75"/><circle cx="505.38" cy="211.07" r="0.75"/><circle cx="568.56" cy="233.83" r="0.35"/><circle cx="539" cy="194.34" r="0.45"/><circle cx="506.6" cy="216.37" r="0.5"/><circle cx="543.44" cy="182.84" r="0.45"/><circle cx="501.95" cy="213.62" r="0.65"/><circle cx="504.82" cy="248.39" r="0.75"/><circle cx="572.87" cy="219.32" r="0.7"/><circle cx="544.17" cy="223.72" r="0.95"/><circle cx="512.46" cy="230.91" r="0.55"/><circle cx="563.66" cy="247.62" r="0.55"/><circle cx="558.88" cy="254.36" r="0.9"/><circle cx="528.41" cy="187.98" r="0.45"/><circle cx="569.71" cy="217.51" r="0.4"/><circle cx="530.88" cy="239.21" r="0.55"/><circle cx="501.88" cy="245.44" r="0.55"/><circle cx="557.25" cy="218.42" r="0.75"/><circle cx="571.53" cy="226.97" r="0.7"/><circle cx="517.21" cy="153.84" r="0.3"/><circle cx="568.41" cy="251.9" r="1.1"/><circle cx="528.35" cy="247.51" r="0.35"/><circle cx="582.32" cy="223.25" r="0.3"/><circle cx="542.85" cy="228.69" r="0.65"/><circle cx="575.6" cy="256.16" r="0.6"/><circle cx="540.72" cy="229.49" r="0.4"/><circle cx="510.75" cy="169.69" r="0.75"/><circle cx="542.68" cy="197.98" r="0.3"/><circle cx="568.44" cy="246.26" r="0.45"/><circle cx="517.66" cy="237.23" r="0.4"/><circle cx="501.68" cy="250.8" r="0.35"/><circle cx="553.51" cy="195.45" r="0.55"/><circle cx="557.38" cy="251.68" r="0.4"/><circle cx="527.27" cy="250.88" r="0.6"/><circle cx="525.93" cy="250.11" r="0.5"/><circle cx="551.21" cy="233.24" r="0.55"/><circle cx="498.07" cy="244.93" r="1.1"/><circle cx="502.29" cy="235.42" r="0.8"/><circle cx="510.22" cy="238.97" r="0.75"/><circle cx="500.39" cy="152.21" r="0.3"/><circle cx="526.18" cy="223.08" r="1.1"/><circle cx="531.12" cy="222.66" r="0.3"/><circle cx="529.21" cy="224.32" r="0.6"/><circle cx="585.18" cy="222.37" r="0.5"/><circle cx="540.79" cy="237.98" r="0.6"/><circle cx="548.03" cy="246.7" r="0.6"/><circle cx="497.39" cy="211.38" r="0.6"/><circle cx="536.32" cy="226.63" r="0.75"/><circle cx="516.09" cy="218.63" r="0.9"/><circle cx="521.71" cy="217.38" r="0.75"/><circle cx="562.59" cy="250.07" r="0.6"/><circle cx="516.92" cy="174.81" r="0.4"/><circle cx="573.08" cy="195.23" r="0.75"/><circle cx="582.62" cy="248.48" r="0.35"/><circle cx="533.06" cy="164.62" r="0.75"/><circle cx="538.79" cy="249.59" r="0.35"/><circle cx="564.81" cy="211.42" r="0.35"/><circle cx="499.55" cy="168.71" r="0.5"/><circle cx="555.97" cy="229.61" r="0.35"/><circle cx="560.47" cy="146.2" r="0.6"/><circle cx="560.2" cy="205.14" r="0.45"/><circle cx="584.95" cy="246.58" r="0.45"/><circle cx="520.8" cy="243.73" r="0.55"/><circle cx="531.19" cy="256.18" r="0.95"/><circle cx="519.7" cy="161.72" r="0.4"/><circle cx="506.83" cy="234.45" r="0.5"/><circle cx="545.38" cy="147.68" r="0.6"/><circle cx="509.5" cy="248.76" r="0.9"/><circle cx="526.86" cy="230.93" r="0.3"/><circle cx="541.78" cy="248.52" r="0.75"/><circle cx="503.6" cy="232.47" r="0.75"/><circle cx="535.44" cy="249.4" r="0.6"/><circle cx="567.33" cy="177.62" r="0.3"/><circle cx="535.56" cy="219.4" r="1.1"/><circle cx="535.33" cy="163.29" r="0.45"/><circle cx="585.16" cy="248.11" r="1.1"/><circle cx="505.83" cy="248.67" r="1.1"/><circle cx="580.12" cy="236.41" r="0.75"/><circle cx="535.92" cy="219.26" r="0.4"/><circle cx="527.97" cy="223.2" r="0.85"/><circle cx="535.96" cy="165.94" r="0.6"/><circle cx="573.96" cy="216.68" r="0.5"/><circle cx="574.84" cy="256.6" r="0.75"/><circle cx="554.33" cy="251.21" r="0.8"/><circle cx="515.17" cy="226.75" r="0.55"/><circle cx="553.54" cy="222.98" r="0.65"/><circle cx="576.21" cy="242.38" r="0.8"/><circle cx="522.68" cy="163.25" r="0.4"/><circle cx="560.44" cy="185.1" r="0.45"/><circle cx="552.59" cy="166.91" r="0.45"/><circle cx="548.14" cy="181.74" r="0.55"/><circle cx="542.93" cy="240.39" r="1.1"/><circle cx="529.33" cy="246.16" r="0.95"/><circle cx="539.64" cy="255.56" r="0.6"/><circle cx="538.79" cy="252.14" r="0.35"/><circle cx="537.55" cy="248.02" r="0.55"/><circle cx="530.09" cy="241.59" r="0.6"/><circle cx="530.37" cy="227.42" r="0.45"/><circle cx="525.55" cy="190.57" r="0.75"/><circle cx="568.28" cy="206.11" r="0.4"/><circle cx="509.12" cy="214.05" r="0.9"/><circle cx="558.31" cy="202.85" r="0.35"/><circle cx="512.77" cy="237.89" r="0.3"/><circle cx="499" cy="225.87" r="0.5"/><circle cx="523.76" cy="227.53" r="0.45"/><circle cx="536.18" cy="234.33" r="0.3"/><circle cx="562.16" cy="171.27" r="0.75"/><circle cx="551.5" cy="241.68" r="0.75"/><circle cx="567.92" cy="224.58" r="0.75"/><circle cx="514.61" cy="226.2" r="0.7"/><circle cx="549.8" cy="239.43" r="0.3"/><circle cx="523.94" cy="234.04" r="0.4"/><circle cx="512.12" cy="220.62" r="0.6"/><circle cx="513.28" cy="210.1" r="0.75"/><circle cx="549.91" cy="250.28" r="0.55"/><circle cx="504.48" cy="174.05" r="0.75"/><circle cx="507.19" cy="229.21" r="0.75"/><circle cx="585.63" cy="169.2" r="0.6"/><circle cx="533.65" cy="249.35" r="0.5"/><circle cx="577.6" cy="237.11" r="0.3"/><circle cx="538.06" cy="209.81" r="0.35"/><circle cx="553.25" cy="239.58" r="0.4"/><circle cx="509.7" cy="189.63" r="0.5"/><circle cx="507.29" cy="227.16" r="0.85"/><circle cx="517.3" cy="253.54" r="0.6"/><circle cx="564.22" cy="176.94" r="0.3"/><circle cx="529.16" cy="212.97" r="0.4"/><circle cx="498.72" cy="187.68" r="0.75"/><circle cx="524.84" cy="253.04" r="0.35"/><circle cx="555.41" cy="179.89" r="0.35"/><circle cx="549.3" cy="226.03" r="1.1"/><circle cx="519.02" cy="247.43" r="0.45"/><circle cx="504.08" cy="241.83" r="0.5"/><circle cx="531.89" cy="222.05" r="0.5"/><circle cx="547.69" cy="203.21" r="0.4"/><circle cx="538.44" cy="239.14" r="0.35"/><circle cx="520.82" cy="233.41" r="0.5"/><circle cx="584.57" cy="244.82" r="0.75"/><circle cx="510.85" cy="209.05" r="0.55"/><circle cx="573.97" cy="204.23" r="0.45"/><circle cx="578.79" cy="251.36" r="1.1"/><circle cx="573.68" cy="187.64" r="0.45"/><circle cx="505.03" cy="195.77" r="0.3"/><circle cx="508.09" cy="240.14" r="0.75"/><circle cx="579.58" cy="187.19" r="0.55"/><circle cx="557.3" cy="224.39" r="0.45"/><circle cx="512.44" cy="253.87" r="0.7"/><circle cx="502.1" cy="243.92" r="0.3"/><circle cx="498.07" cy="156.41" r="0.6"/><circle cx="533.43" cy="252.42" r="0.95"/><circle cx="535.47" cy="202.01" r="0.75"/><circle cx="547.38" cy="256.14" r="0.75"/><circle cx="553.47" cy="210.41" r="0.75"/><circle cx="524.05" cy="246.18" r="0.5"/><circle cx="502.31" cy="233.72" r="0.4"/><circle cx="566.35" cy="251.64" r="0.6"/><circle cx="543.98" cy="234.37" r="0.7"/><circle cx="559.37" cy="210.43" r="0.75"/><circle cx="569.12" cy="171.43" r="0.5"/><circle cx="519.4" cy="206.25" r="0.55"/><circle cx="565.2" cy="180" r="0.5"/><circle cx="545.09" cy="195.14" r="0.6"/><circle cx="575.31" cy="163.97" r="0.3"/><circle cx="505.13" cy="220.12" r="0.45"/><circle cx="507.39" cy="190.05" r="0.6"/><circle cx="519.82" cy="174.71" r="0.4"/><circle cx="542.49" cy="167.18" r="0.6"/><circle cx="571.39" cy="253.03" r="0.35"/><circle cx="510.89" cy="191.53" r="0.55"/><circle cx="577.63" cy="248.82" r="0.75"/><circle cx="519.6" cy="201.53" r="0.3"/><circle cx="574.99" cy="243.01" r="0.3"/><circle cx="553.36" cy="186.58" r="0.35"/><circle cx="547.76" cy="216.23" r="0.95"/><circle cx="555.88" cy="236.27" r="0.5"/><circle cx="569.98" cy="179.52" r="0.55"/><circle cx="555.24" cy="170.91" r="0.75"/><circle cx="525.92" cy="241.6" r="0.5"/><circle cx="577.18" cy="230.26" r="0.6"/><circle cx="541.42" cy="209.57" r="0.45"/><circle cx="530.7" cy="255.5" r="0.3"/><circle cx="538.79" cy="244.66" r="0.3"/><circle cx="523" cy="222.4" r="0.75"/><circle cx="552.55" cy="239.91" r="0.75"/><circle cx="561.93" cy="210.11" r="0.5"/><circle cx="507.39" cy="229.39" r="0.7"/><circle cx="557.4" cy="248.19" r="0.65"/><circle cx="541.4" cy="247.25" r="0.5"/><circle cx="499.99" cy="223.76" r="0.75"/><circle cx="541.35" cy="219.85" r="0.45"/><circle cx="500.67" cy="176.43" r="0.4"/><circle cx="553.19" cy="203.38" r="0.6"/><circle cx="538.85" cy="249.47" r="0.95"/><circle cx="569.54" cy="238.21" r="0.75"/><circle cx="521.08" cy="150.57" r="0.45"/><circle cx="497.29" cy="192.52" r="0.35"/><circle cx="574.69" cy="190.98" r="0.75"/><circle cx="512.57" cy="232.31" r="0.4"/><circle cx="579.87" cy="176.86" r="0.35"/><circle cx="585.01" cy="169.89" r="0.55"/><circle cx="517.59" cy="171.37" r="0.4"/><circle cx="500.08" cy="248.21" r="0.45"/><circle cx="523.84" cy="226.93" r="0.75"/><circle cx="568.61" cy="254.55" r="0.45"/><circle cx="507.44" cy="228.99" r="0.4"/><circle cx="583.5" cy="156.03" r="0.35"/><circle cx="529.66" cy="172.55" r="0.3"/><circle cx="559.14" cy="234.44" r="0.95"/><circle cx="508.6" cy="223.25" r="0.95"/><circle cx="579.65" cy="227.06" r="0.45"/><circle cx="516.35" cy="245.16" r="0.4"/><circle cx="502.81" cy="242.8" r="0.5"/><circle cx="532.16" cy="230.32" r="0.75"/><circle cx="510.77" cy="186.53" r="0.5"/><circle cx="512.69" cy="247.71" r="0.45"/><circle cx="497.21" cy="224.9" r="0.35"/><circle cx="576.71" cy="207.36" r="0.55"/><circle cx="561.7" cy="245.24" r="0.3"/><circle cx="499.28" cy="152.66" r="0.5"/><circle cx="505.67" cy="243.14" r="0.95"/><circle cx="534.51" cy="251.16" r="0.65"/><circle cx="564.78" cy="222.94" r="0.55"/><circle cx="506.01" cy="180.92" r="0.6"/><circle cx="549.58" cy="195.88" r="0.35"/><circle cx="568.28" cy="179.87" r="0.45"/><circle cx="555.46" cy="193.79" r="0.5"/><circle cx="579.83" cy="151.74" r="0.45"/><circle cx="564.11" cy="249.05" r="0.75"/><circle cx="540.56" cy="240.34" r="0.55"/><circle cx="548.8" cy="247.57" r="0.35"/><circle cx="538.09" cy="255.12" r="0.45"/><circle cx="544.6" cy="252.22" r="0.65"/><circle cx="564.41" cy="184.44" r="0.5"/><circle cx="505.46" cy="248.13" r="0.85"/><circle cx="583.31" cy="248.83" r="0.5"/><circle cx="527.27" cy="236.98" r="0.5"/><circle cx="546.74" cy="240.21" r="0.3"/><circle cx="579.95" cy="216.98" r="0.8"/><circle cx="536.09" cy="255.45" r="0.55"/><circle cx="580.17" cy="234.27" r="0.75"/><circle cx="567.88" cy="166.46" r="0.35"/><circle cx="537.31" cy="247.91" r="0.45"/><circle cx="576.79" cy="256.42" r="0.55"/><circle cx="550.05" cy="236.44" r="0.75"/><circle cx="556.6" cy="146.17" r="0.3"/><circle cx="502.15" cy="219.93" r="0.7"/><circle cx="537.18" cy="211.25" r="0.75"/><circle cx="577.36" cy="236.44" r="0.6"/><circle cx="505.12" cy="244.1" r="0.95"/><circle cx="571.97" cy="238.04" r="0.45"/><circle cx="583.05" cy="209.04" r="0.3"/><circle cx="504.31" cy="229.32" r="0.55"/><circle cx="531.84" cy="241.48" r="0.4"/><circle cx="531.26" cy="156.13" r="0.35"/><circle cx="540.28" cy="241.89" r="0.65"/><circle cx="553.28" cy="249.53" r="0.5"/><circle cx="538.51" cy="241.03" r="0.45"/><circle cx="549.08" cy="233.17" r="0.3"/><circle cx="545.25" cy="227.07" r="0.45"/><circle cx="553.98" cy="239.83" r="0.75"/><circle cx="562.7" cy="200.71" r="0.45"/><circle cx="571.11" cy="199.74" r="0.75"/><circle cx="552.2" cy="187.95" r="0.3"/><circle cx="523.47" cy="244.39" r="1.1"/><circle cx="517.8" cy="188.37" r="0.4"/><circle cx="511.49" cy="241.89" r="0.4"/><circle cx="572.96" cy="229.52" r="0.75"/><circle cx="582.33" cy="229.79" r="0.9"/><circle cx="531.58" cy="160.82" r="0.35"/><circle cx="531.3" cy="253.19" r="0.3"/><circle cx="549.93" cy="237.94" r="0.3"/><circle cx="509.72" cy="256.98" r="0.5"/><circle cx="507.44" cy="244.78" r="0.45"/><circle cx="510.41" cy="201.11" r="0.4"/><circle cx="578.39" cy="251.87" r="0.65"/><circle cx="583.11" cy="244.65" r="0.7"/><circle cx="510.64" cy="251.95" r="1.1"/><circle cx="516.88" cy="243.4" r="0.65"/><circle cx="505.34" cy="182.36" r="0.6"/><circle cx="573.34" cy="147.14" r="0.4"/><circle cx="547.04" cy="213.54" r="0.45"/><circle cx="565.62" cy="203.41" r="0.45"/><circle cx="522.7" cy="227.27" r="0.6"/><circle cx="582.78" cy="210.49" r="0.75"/><circle cx="513.12" cy="210.61" r="0.75"/><circle cx="574.02" cy="247.23" r="0.7"/><circle cx="542.39" cy="205.11" r="0.75"/><circle cx="518.33" cy="182.57" r="0.5"/><circle cx="577.28" cy="250.14" r="0.35"/><circle cx="523.69" cy="214.49" r="0.85"/><circle cx="547.98" cy="248.59" r="0.6"/><circle cx="580.38" cy="200.14" r="0.55"/><circle cx="582.47" cy="155.59" r="0.75"/><circle cx="506.07" cy="214.87" r="0.6"/><circle cx="571.36" cy="212.81" r="0.35"/><circle cx="504.93" cy="232.09" r="0.7"/><circle cx="576.76" cy="240.33" r="0.4"/><circle cx="503.72" cy="242.45" r="0.55"/><circle cx="504.23" cy="224.15" r="0.4"/><circle cx="540.07" cy="219.04" r="0.5"/><circle cx="506.46" cy="156.54" r="0.55"/><circle cx="513.29" cy="223.2" r="0.85"/><circle cx="519.83" cy="202.48" r="0.55"/><circle cx="511.08" cy="240.92" r="0.35"/><circle cx="550.84" cy="228.3" r="0.8"/><circle cx="533.55" cy="186.14" r="0.5"/><circle cx="516.85" cy="220.4" r="0.9"/><circle cx="576.67" cy="182.25" r="0.35"/><circle cx="541.53" cy="256.67" r="0.8"/><circle cx="546.94" cy="228" r="0.55"/><circle cx="552.99" cy="220.25" r="0.9"/><circle cx="539.84" cy="228.45" r="0.75"/><circle cx="503.87" cy="251.45" r="0.6"/><circle cx="515.32" cy="204.78" r="0.6"/><circle cx="509.24" cy="244.16" r="0.4"/><circle cx="507.72" cy="245.42" r="0.9"/><circle cx="555.07" cy="193.63" r="0.35"/><circle cx="575.88" cy="229.67" r="0.45"/><circle cx="563.41" cy="229.89" r="0.35"/><circle cx="519.46" cy="169.3" r="0.45"/><circle cx="581.06" cy="239.04" r="0.75"/><circle cx="510.88" cy="231.47" r="0.4"/><circle cx="543.55" cy="236.81" r="0.4"/><circle cx="516.82" cy="253.29" r="0.6"/><circle cx="498.17" cy="252.34" r="0.65"/><circle cx="581.23" cy="155.19" r="0.35"/><circle cx="549.18" cy="197.49" r="0.75"/><circle cx="560.35" cy="251.5" r="0.3"/><circle cx="583.22" cy="251.44" r="0.3"/><circle cx="571.74" cy="235.04" r="0.95"/><circle cx="516.27" cy="254.5" r="0.35"/><circle cx="579.39" cy="233.65" r="0.55"/><circle cx="533.65" cy="222.59" r="0.75"/><circle cx="575.33" cy="242.14" r="0.75"/><circle cx="539.72" cy="241.27" r="0.55"/><circle cx="570.77" cy="201.25" r="0.6"/><circle cx="498.06" cy="252.82" r="0.5"/><circle cx="510.61" cy="240.49" r="0.3"/><circle cx="513.74" cy="256.82" r="0.7"/><circle cx="543.28" cy="217.91" r="1.1"/><circle cx="559.63" cy="235.95" r="0.95"/><circle cx="503.09" cy="235.58" r="0.35"/><circle cx="500.33" cy="252.04" r="0.3"/><circle cx="506.92" cy="232.59" r="0.7"/><circle cx="578.64" cy="245.32" r="0.75"/><circle cx="548.01" cy="237.83" r="0.5"/><circle cx="539.44" cy="229.16" r="0.75"/><circle cx="517.61" cy="245.33" r="0.3"/><circle cx="520.93" cy="207.49" r="0.35"/><circle cx="559.58" cy="252.65" r="0.5"/><circle cx="506.89" cy="190.3" r="0.5"/><circle cx="585.5" cy="252.42" r="0.6"/><circle cx="584.42" cy="184.38" r="0.35"/><circle cx="497.42" cy="175.37" r="0.45"/><circle cx="577.3" cy="226.62" r="0.35"/><circle cx="508.91" cy="244.67" r="0.55"/><circle cx="542.54" cy="212.87" r="0.5"/><circle cx="506.43" cy="243.71" r="0.95"/><circle cx="553.65" cy="205.86" r="0.45"/><circle cx="539.09" cy="221.67" r="0.35"/><circle cx="574.55" cy="244.76" r="0.75"/><circle cx="517.6" cy="198.9" r="0.4"/><circle cx="542.95" cy="169.72" r="0.4"/><circle cx="558.26" cy="243.81" r="0.3"/><circle cx="585.81" cy="227.48" r="0.9"/><circle cx="553" cy="252.42" r="0.35"/><circle cx="512.77" cy="198.86" r="0.6"/><circle cx="517.07" cy="181.32" r="0.5"/><circle cx="555.14" cy="206.87" r="0.5"/><circle cx="511.03" cy="173.71" r="0.35"/><circle cx="515.89" cy="240.57" r="0.7"/><circle cx="530.93" cy="235.42" r="0.3"/><circle cx="568.06" cy="183.35" r="0.35"/><circle cx="568.44" cy="224.04" r="0.4"/><circle cx="500.45" cy="197.78" r="0.3"/><circle cx="537.62" cy="239.86" r="0.45"/><circle cx="508.92" cy="256.59" r="0.75"/><circle cx="504.95" cy="232.02" r="0.55"/><circle cx="559.93" cy="249.99" r="0.6"/><circle cx="543.75" cy="149.38" r="0.45"/><circle cx="530.15" cy="256.95" r="0.75"/><circle cx="549.46" cy="207.24" r="0.6"/><circle cx="530.7" cy="208.63" r="0.6"/><circle cx="578.11" cy="242.14" r="0.3"/><circle cx="524.74" cy="237.96" r="0.9"/><circle cx="510.03" cy="239.18" r="1.1"/><circle cx="529.22" cy="237.05" r="0.8"/><circle cx="526.63" cy="223.56" r="1.1"/><circle cx="569.14" cy="234.19" r="0.75"/><circle cx="503.41" cy="223.34" r="0.4"/><circle cx="526.28" cy="255.3" r="0.9"/><circle cx="562.42" cy="209.83" r="0.5"/><circle cx="572.76" cy="168" r="0.3"/><circle cx="501.44" cy="199.96" r="0.4"/><circle cx="583.72" cy="235.14" r="0.7"/><circle cx="510.5" cy="208.83" r="0.75"/><circle cx="508.1" cy="208.06" r="0.5"/><circle cx="561.24" cy="251.98" r="0.4"/><circle cx="543.92" cy="178.67" r="0.35"/><circle cx="532.29" cy="241.21" r="0.4"/><circle cx="519.24" cy="176.09" r="0.75"/><circle cx="583" cy="229.84" r="0.45"/><circle cx="540.07" cy="239.09" r="0.5"/><circle cx="517.51" cy="156.45" r="0.3"/><circle cx="509.11" cy="247.94" r="0.55"/><circle cx="563.77" cy="215.13" r="0.75"/><circle cx="561.25" cy="256.2" r="0.75"/><circle cx="557.02" cy="244.29" r="0.65"/><circle cx="535.8" cy="199.68" r="0.45"/><circle cx="502.99" cy="214.65" r="0.5"/><circle cx="561.51" cy="255.06" r="0.35"/><circle cx="578.81" cy="251.82" r="0.95"/><circle cx="497.78" cy="234.15" r="0.7"/><circle cx="539.59" cy="210.87" r="0.6"/><circle cx="510.87" cy="242.05" r="0.75"/><circle cx="529.9" cy="232.85" r="0.7"/><circle cx="497.43" cy="245.41" r="0.45"/><circle cx="546.79" cy="217.29" r="0.4"/><circle cx="530.99" cy="201.42" r="0.5"/></g>
<ellipse cx="527.5" cy="168.5" rx="7" ry="7.6" fill="#f0d8d4" opacity="0.85" transform="rotate(20 527.5 168.5)"/>
<clipPath id="cEggI"><path d="M612.82,159.99C609.62,159.99 606.24,160.61 603.11,161.42C599.99,162.24 596.86,163.44 594.07,164.87C591.27,166.31 588.74,168.1 586.36,170.05C583.98,171.99 581.91,174.04 579.79,176.56C577.66,179.08 575.53,182.2 573.6,185.18C571.66,188.17 569.85,191.12 568.17,194.48C566.49,197.83 564.84,201.71 563.51,205.3C562.17,208.89 561.1,212.74 560.18,216.03C559.26,219.32 558.53,222.03 557.99,225.04C557.45,228.04 557.03,230.69 556.94,234.04C556.84,237.39 557.02,241.56 557.42,245.15C557.81,248.75 558.34,252.15 559.32,255.6C560.3,259.05 561.68,262.56 563.32,265.85C564.95,269.14 566.81,272.49 569.12,275.33C571.44,278.17 574.25,280.65 577.22,282.9C580.18,285.15 583.28,287.18 586.93,288.84C590.58,290.5 594.94,291.97 599.11,292.86C603.29,293.76 607.68,294.14 611.96,294.2C616.25,294.27 620.66,294 624.82,293.25C628.97,292.5 633.1,291.33 636.91,289.7C640.72,288.07 644.38,285.87 647.66,283.47C650.95,281.08 654.07,278.27 656.61,275.33C659.15,272.39 661.12,269.14 662.9,265.85C664.67,262.56 666.1,259.05 667.28,255.6C668.45,252.15 669.35,248.75 669.94,245.15C670.54,241.56 670.81,237.55 670.85,234.04C670.88,230.53 670.58,227.38 670.13,224.08C669.68,220.78 669.05,217.58 668.13,214.26C667.21,210.94 665.94,207.45 664.61,204.15C663.28,200.85 661.85,197.64 660.14,194.48C658.42,191.31 656.41,188.17 654.33,185.18C652.25,182.2 650.04,179.12 647.66,176.56C645.28,174.01 642.73,171.8 640.05,169.86C637.37,167.91 634.53,166.28 631.58,164.87C628.62,163.47 625.47,162.24 622.34,161.42C619.22,160.61 616.03,159.99 612.82,159.99Z"/></clipPath>
<path d="M612.8,157.1C609.43,157.1 605.88,157.75 602.6,158.6C599.32,159.45 596.03,160.7 593.1,162.2C590.17,163.7 587.5,165.57 585,167.6C582.5,169.63 580.33,171.77 578.1,174.4C575.87,177.03 573.63,180.28 571.6,183.4C569.57,186.52 567.67,189.6 565.9,193.1C564.13,196.6 562.4,200.65 561,204.4C559.6,208.15 558.47,212.17 557.5,215.6C556.53,219.03 555.77,221.87 555.2,225C554.63,228.13 554.2,230.9 554.1,234.4C554,237.9 554.18,242.25 554.6,246C555.02,249.75 555.57,253.3 556.6,256.9C557.63,260.5 559.08,264.17 560.8,267.6C562.52,271.03 564.47,274.53 566.9,277.5C569.33,280.47 572.28,283.05 575.4,285.4C578.52,287.75 581.77,289.87 585.6,291.6C589.43,293.33 594.02,294.87 598.4,295.8C602.78,296.73 607.4,297.13 611.9,297.2C616.4,297.27 621.03,296.98 625.4,296.2C629.77,295.42 634.1,294.2 638.1,292.5C642.1,290.8 645.95,288.5 649.4,286C652.85,283.5 656.13,280.57 658.8,277.5C661.47,274.43 663.53,271.03 665.4,267.6C667.27,264.17 668.77,260.5 670,256.9C671.23,253.3 672.17,249.75 672.8,246C673.42,242.25 673.72,238.07 673.75,234.4C673.78,230.73 673.48,227.44 673,224C672.52,220.56 671.87,217.22 670.9,213.75C669.93,210.28 668.6,206.64 667.2,203.2C665.8,199.76 664.3,196.4 662.5,193.1C660.7,189.8 658.58,186.52 656.4,183.4C654.22,180.28 651.9,177.07 649.4,174.4C646.9,171.73 644.22,169.43 641.4,167.4C638.58,165.37 635.6,163.67 632.5,162.2C629.4,160.73 626.08,159.45 622.8,158.6C619.52,157.75 616.17,157.1 612.8,157.1Z" fill="#f3ead6" stroke="#a86c3c" stroke-width="2.2"/>
<path d="M612.82,159.99C609.62,159.99 606.24,160.61 603.11,161.42C599.99,162.24 596.86,163.44 594.07,164.87C591.27,166.31 588.74,168.1 586.36,170.05C583.98,171.99 581.91,174.04 579.79,176.56C577.66,179.08 575.53,182.2 573.6,185.18C571.66,188.17 569.85,191.12 568.17,194.48C566.49,197.83 564.84,201.71 563.51,205.3C562.17,208.89 561.1,212.74 560.18,216.03C559.26,219.32 558.53,222.03 557.99,225.04C557.45,228.04 557.03,230.69 556.94,234.04C556.84,237.39 557.02,241.56 557.42,245.15C557.81,248.75 558.34,252.15 559.32,255.6C560.3,259.05 561.68,262.56 563.32,265.85C564.95,269.14 566.81,272.49 569.12,275.33C571.44,278.17 574.25,280.65 577.22,282.9C580.18,285.15 583.28,287.18 586.93,288.84C590.58,290.5 594.94,291.97 599.11,292.86C603.29,293.76 607.68,294.14 611.96,294.2C616.25,294.27 620.66,294 624.82,293.25C628.97,292.5 633.1,291.33 636.91,289.7C640.72,288.07 644.38,285.87 647.66,283.47C650.95,281.08 654.07,278.27 656.61,275.33C659.15,272.39 661.12,269.14 662.9,265.85C664.67,262.56 666.1,259.05 667.28,255.6C668.45,252.15 669.35,248.75 669.94,245.15C670.54,241.56 670.81,237.55 670.85,234.04C670.88,230.53 670.58,227.38 670.13,224.08C669.68,220.78 669.05,217.58 668.13,214.26C667.21,210.94 665.94,207.45 664.61,204.15C663.28,200.85 661.85,197.64 660.14,194.48C658.42,191.31 656.41,188.17 654.33,185.18C652.25,182.2 650.04,179.12 647.66,176.56C645.28,174.01 642.73,171.8 640.05,169.86C637.37,167.91 634.53,166.28 631.58,164.87C628.62,163.47 625.47,162.24 622.34,161.42C619.22,160.61 616.03,159.99 612.82,159.99Z" fill="#eeeee5"/>
<path d="M652.6,225.6C652.7,227.54 652.7,229.5 652.57,231.42C652.44,233.35 652.2,235.27 651.84,237.14C651.48,239.02 651,240.87 650.4,242.67C649.81,244.46 649.1,246.22 648.28,247.9C647.46,249.58 646.53,251.21 645.49,252.75C644.46,254.29 643.31,255.76 642.08,257.14C640.85,258.51 639.52,259.8 638.11,260.98C636.7,262.16 635.2,263.25 633.64,264.22C632.08,265.19 630.44,266.06 628.76,266.81C627.07,267.55 625.32,268.18 623.55,268.68C621.78,269.18 619.96,269.57 618.13,269.82C616.31,270.07 614.44,270.2 612.6,270.2C610.76,270.2 608.89,270.07 607.07,269.82C605.24,269.57 603.42,269.18 601.65,268.68C599.88,268.18 598.13,267.55 596.44,266.81C594.76,266.06 593.12,265.19 591.56,264.22C590,263.25 588.5,262.16 587.09,260.98C585.68,259.8 584.35,258.51 583.12,257.14C581.89,255.76 580.74,254.29 579.71,252.75C578.67,251.21 577.74,249.58 576.92,247.9C576.1,246.22 575.39,244.46 574.8,242.67C574.2,240.87 573.72,239.02 573.36,237.14C573,235.27 572.76,233.35 572.63,231.42C572.5,229.5 572.5,227.54 572.6,225.6C572.7,223.66 572.93,221.7 573.25,219.78C573.58,217.85 574.02,215.93 574.56,214.06C575.1,212.18 575.75,210.33 576.49,208.53C577.23,206.74 578.08,204.98 579,203.3C579.92,201.62 580.94,199.99 582.02,198.45C583.11,196.91 584.29,195.44 585.52,194.06C586.75,192.69 588.05,191.4 589.41,190.22C590.76,189.04 592.18,187.95 593.64,186.98C595.09,186.01 596.61,185.14 598.14,184.39C599.68,183.65 601.26,183.02 602.85,182.52C604.44,182.02 606.06,181.63 607.69,181.38C609.31,181.13 610.96,181 612.6,181C614.24,181 615.89,181.13 617.51,181.38C619.14,181.63 620.76,182.02 622.35,182.52C623.94,183.02 625.52,183.65 627.06,184.39C628.59,185.14 630.11,186.01 631.56,186.98C633.02,187.95 634.44,189.04 635.79,190.22C637.15,191.4 638.45,192.69 639.68,194.06C640.91,195.44 642.09,196.91 643.18,198.45C644.26,199.99 645.28,201.62 646.2,203.3C647.12,204.98 647.97,206.74 648.71,208.53C649.45,210.33 650.1,212.18 650.64,214.06C651.18,215.93 651.62,217.85 651.95,219.78C652.27,221.7 652.5,223.66 652.6,225.6Z" fill="#f9f9f7"/>
<g clip-path="url(#cEggI)"><path d="M550,281.4 C572,281.8 590,280.4 600,276.2 C606,273.6 609,272.6 612,272.6 C616,272.6 620,274 626,276.4 C638,280.6 652,281.6 680,281 V300 H550 Z" fill="#c1cdd2" stroke="#7a9cb0" stroke-width="1"/></g>
<path d="M612.82,159.99C609.62,159.99 606.24,160.61 603.11,161.42C599.99,162.24 596.86,163.44 594.07,164.87C591.27,166.31 588.74,168.1 586.36,170.05C583.98,171.99 581.91,174.04 579.79,176.56C577.66,179.08 575.53,182.2 573.6,185.18C571.66,188.17 569.85,191.12 568.17,194.48C566.49,197.83 564.84,201.71 563.51,205.3C562.17,208.89 561.1,212.74 560.18,216.03C559.26,219.32 558.53,222.03 557.99,225.04C557.45,228.04 557.03,230.69 556.94,234.04C556.84,237.39 557.02,241.56 557.42,245.15C557.81,248.75 558.34,252.15 559.32,255.6C560.3,259.05 561.68,262.56 563.32,265.85C564.95,269.14 566.81,272.49 569.12,275.33C571.44,278.17 574.25,280.65 577.22,282.9C580.18,285.15 583.28,287.18 586.93,288.84C590.58,290.5 594.94,291.97 599.11,292.86C603.29,293.76 607.68,294.14 611.96,294.2C616.25,294.27 620.66,294 624.82,293.25C628.97,292.5 633.1,291.33 636.91,289.7C640.72,288.07 644.38,285.87 647.66,283.47C650.95,281.08 654.07,278.27 656.61,275.33C659.15,272.39 661.12,269.14 662.9,265.85C664.67,262.56 666.1,259.05 667.28,255.6C668.45,252.15 669.35,248.75 669.94,245.15C670.54,241.56 670.81,237.55 670.85,234.04C670.88,230.53 670.58,227.38 670.13,224.08C669.68,220.78 669.05,217.58 668.13,214.26C667.21,210.94 665.94,207.45 664.61,204.15C663.28,200.85 661.85,197.64 660.14,194.48C658.42,191.31 656.41,188.17 654.33,185.18C652.25,182.2 650.04,179.12 647.66,176.56C645.28,174.01 642.73,171.8 640.05,169.86C637.37,167.91 634.53,166.28 631.58,164.87C628.62,163.47 625.47,162.24 622.34,161.42C619.22,160.61 616.03,159.99 612.82,159.99Z" fill="none" stroke="#5a87a3" stroke-width="1.6"/>
<path d="M611.18,163.5C611.7,164.02 614.4,165.58 614.33,166.62C614.26,167.67 610.61,168.71 610.76,169.75C610.91,170.79 615.24,171.83 615.24,172.88C615.25,173.92 610.91,174.96 610.77,176C610.63,177.04 614.48,178.08 614.42,179.12C614.36,180.17 610.26,181.21 610.43,182.25C610.61,183.29 615.37,184.33 615.49,185.38C615.61,186.42 611.27,187.46 611.17,188.5C611.07,189.54 615.14,190.58 614.87,191.62C614.61,192.67 609.66,193.71 609.59,194.75C609.53,195.79 614.26,196.83 614.48,197.88C614.7,198.92 611.51,200.48 610.92,201" fill="none" stroke="#b4c7d4" stroke-width="2.4" stroke-linecap="round"/><path d="M613.62,163.67C613.06,164.25 610.08,166.16 610.21,167.16C610.35,168.17 614.34,168.84 614.41,169.7C614.48,170.56 610.62,171.2 610.63,172.32C610.63,173.43 614.38,175.23 614.44,176.39C614.51,177.55 611.06,178.3 611.04,179.27C611.02,180.24 614.34,181.08 614.32,182.21C614.3,183.34 610.97,184.88 610.91,186.05C610.85,187.21 614.12,188.34 613.97,189.2C613.81,190.05 609.77,190.3 609.96,191.17C610.15,192.04 614.95,193.29 615.1,194.43C615.24,195.57 610.9,196.8 610.81,198.01C610.72,199.22 613.93,201.07 614.55,201.69" fill="none" stroke="#b4c7d4" stroke-width="2.4" stroke-linecap="round"/><path d="M611.18,163.5C611.7,164.02 614.4,165.58 614.33,166.62C614.26,167.67 610.61,168.71 610.76,169.75C610.91,170.79 615.24,171.83 615.24,172.88C615.25,173.92 610.91,174.96 610.77,176C610.63,177.04 614.48,178.08 614.42,179.12C614.36,180.17 610.26,181.21 610.43,182.25C610.61,183.29 615.37,184.33 615.49,185.38C615.61,186.42 611.27,187.46 611.17,188.5C611.07,189.54 615.14,190.58 614.87,191.62C614.61,192.67 609.66,193.71 609.59,194.75C609.53,195.79 614.26,196.83 614.48,197.88C614.7,198.92 611.51,200.48 610.92,201" fill="none" stroke="#fdfdfd" stroke-width="1.4" stroke-linecap="round"/><path d="M613.62,163.67C613.06,164.25 610.08,166.16 610.21,167.16C610.35,168.17 614.34,168.84 614.41,169.7C614.48,170.56 610.62,171.2 610.63,172.32C610.63,173.43 614.38,175.23 614.44,176.39C614.51,177.55 611.06,178.3 611.04,179.27C611.02,180.24 614.34,181.08 614.32,182.21C614.3,183.34 610.97,184.88 610.91,186.05C610.85,187.21 614.12,188.34 613.97,189.2C613.81,190.05 609.77,190.3 609.96,191.17C610.15,192.04 614.95,193.29 615.1,194.43C615.24,195.57 610.9,196.8 610.81,198.01C610.72,199.22 613.93,201.07 614.55,201.69" fill="none" stroke="#fdfdfd" stroke-width="1.4" stroke-linecap="round"/>
<path d="M611.24,253C612.07,253.46 616.31,254.86 616.19,255.79C616.06,256.71 610.72,257.64 610.49,258.57C610.27,259.5 614.61,260.43 614.83,261.36C615.06,262.29 611.75,263.21 611.83,264.14C611.92,265.07 615.54,266 615.32,266.93C615.1,267.86 610.69,268.79 610.52,269.71C610.34,270.64 613.65,272.04 614.28,272.5" fill="none" stroke="#b4c7d4" stroke-width="2.4" stroke-linecap="round"/><path d="M615.35,253.71C614.57,254.05 610.54,255.02 610.65,255.73C610.76,256.44 615.82,257 615.99,257.95C616.17,258.91 612.07,260.33 611.7,261.48C611.33,262.62 613.78,264 613.76,264.81C613.73,265.62 611.43,265.43 611.53,266.35C611.64,267.27 614.2,269.18 614.39,270.31C614.58,271.43 612.93,272.63 612.64,273.1" fill="none" stroke="#b4c7d4" stroke-width="2.4" stroke-linecap="round"/><path d="M611.24,253C612.07,253.46 616.31,254.86 616.19,255.79C616.06,256.71 610.72,257.64 610.49,258.57C610.27,259.5 614.61,260.43 614.83,261.36C615.06,262.29 611.75,263.21 611.83,264.14C611.92,265.07 615.54,266 615.32,266.93C615.1,267.86 610.69,268.79 610.52,269.71C610.34,270.64 613.65,272.04 614.28,272.5" fill="none" stroke="#fdfdfd" stroke-width="1.4" stroke-linecap="round"/><path d="M615.35,253.71C614.57,254.05 610.54,255.02 610.65,255.73C610.76,256.44 615.82,257 615.99,257.95C616.17,258.91 612.07,260.33 611.7,261.48C611.33,262.62 613.78,264 613.76,264.81C613.73,265.62 611.43,265.43 611.53,266.35C611.64,267.27 614.2,269.18 614.39,270.31C614.58,271.43 612.93,272.63 612.64,273.1" fill="none" stroke="#fdfdfd" stroke-width="1.4" stroke-linecap="round"/>
<ellipse cx="613.9" cy="227.2" rx="31" ry="27.2" fill="#dfe7ec" stroke="#a9c2d2" stroke-width="0.9"/>
<ellipse cx="613.9" cy="227.2" rx="29.6" ry="25.8" fill="url(#gYolk)"/>
<ellipse cx="613.9" cy="227.6" rx="27.2" ry="23.4" fill="none" stroke="#ef9c12" stroke-width="1.6" opacity="0.75"/>
<path d="M592,214 C596,207.5 603,204.5 609,204.6" fill="none" stroke="#fff" stroke-opacity="0.75" stroke-width="1.6" stroke-linecap="round"/>
<ellipse cx="587.6" cy="226.8" rx="1.8" ry="3.6" fill="#c9691a"/>
<!-- chicken -->
<path d="M910,474 L913.3,490 C913.6,493 912.5,494.6 909.5,495.6 L906.8,497.6 L911,497.6 L915.5,499.2 L921,502 L922,498 C920,495.5 918.2,492 917.5,488 L915.6,474 Z" fill="#bfa06c" stroke="#a88c5c" stroke-width="0.5"/>
<path d="M920.2,478 L924.3,497.5 C924.5,500 923.5,501.6 921,502.8 L917.6,506.8 L922.5,505 L927,505.6 L930.2,511 L932.4,516 L933.4,509.5 L941,509 L951.4,513.8 L944.6,507.6 L949.4,505.6 L943,503.8 L934.5,503.6 C931.5,502.6 930,500.5 929.4,497.5 L925.8,478 Z" fill="#dcc08a" stroke="#b89c66" stroke-width="0.6" stroke-linejoin="round"/>
<path d="M977.5,344.4C975.67,344.9 973.67,345.67 972,346.6C970.33,347.53 969.08,348.6 967.5,350C965.92,351.4 963.95,353.33 962.5,355C961.05,356.67 960.25,357.5 958.8,360C957.35,362.5 955.47,366.67 953.8,370C952.13,373.33 950.35,377.43 948.8,380C947.25,382.57 945.97,383.93 944.5,385.4C943.03,386.87 941.92,387.65 940,388.8C938.08,389.95 935.67,391.17 933,392.3C930.33,393.43 927,394.72 924,395.6C921,396.48 918.5,397.3 915,397.6C911.5,397.9 906.75,397.75 903,397.4C899.25,397.05 895.5,396.33 892.5,395.5C889.5,394.67 887.25,393.65 885,392.4C882.75,391.15 880.83,389.82 879,388C877.17,386.18 875.5,383.75 874,381.5C872.5,379.25 871.5,376.92 870,374.5C868.5,372.08 866.75,369.25 865,367C863.25,364.75 861.25,362.73 859.5,361C857.75,359.27 856.25,357.73 854.5,356.6C852.75,355.47 850.42,354.53 849,354.2C847.58,353.87 846.63,354.22 846,354.6C845.37,354.98 845.2,355.43 845.2,356.5C845.2,357.57 845.62,359.5 846,361C846.38,362.5 847.75,364.4 847.5,365.5C847.25,366.6 845.5,366.85 844.5,367.6C843.5,368.35 842.58,369.1 841.5,370C840.42,370.9 839,371.93 838,373C837,374.07 836.17,375.07 835.5,376.4C834.83,377.73 834.22,379.4 834,381C833.78,382.6 833.95,384.17 834.2,386C834.45,387.83 835.1,390 835.5,392C835.9,394 836.1,395.92 836.6,398C837.1,400.08 837.77,402.58 838.5,404.5C839.23,406.42 840,407.92 841,409.5C842,411.08 843.42,412.58 844.5,414C845.58,415.42 846.5,416.75 847.5,418C848.5,419.25 849.42,420.17 850.5,421.5C851.58,422.83 852.75,424.58 854,426C855.25,427.42 856.58,428.67 858,430C859.42,431.33 861,432.75 862.5,434C864,435.25 866.18,436 867,437.5C867.82,439 867.07,441.25 867.4,443C867.73,444.75 868.32,446.5 869,448C869.68,449.5 870.42,450.67 871.5,452C872.58,453.33 874.08,454.9 875.5,456C876.92,457.1 878.25,457.67 880,458.6C881.75,459.53 883.87,460.6 886,461.6C888.13,462.6 890.8,463.6 892.8,464.6C894.8,465.6 896.25,466.7 898,467.6C899.75,468.5 901.8,469.1 903.3,470C904.8,470.9 905.88,472.07 907,473C908.12,473.93 908.83,474.68 910,475.6C911.17,476.52 912.67,477.7 914,478.5C915.33,479.3 916.67,479.92 918,480.4C919.33,480.88 920.7,481.3 922,481.4C923.3,481.5 924.72,481.5 925.8,481C926.88,480.5 927.63,479.4 928.5,478.4C929.37,477.4 929.75,476.4 931,475C932.25,473.6 934.27,471.73 936,470C937.73,468.27 939.07,466.67 941.4,464.6C943.73,462.53 946.95,460 950,457.6C953.05,455.2 956.7,452.5 959.7,450.2C962.7,447.9 965.37,446 968,443.8C970.63,441.6 973.33,439.4 975.5,437C977.67,434.6 979.25,432.23 981,429.4C982.75,426.57 984.67,423.23 986,420C987.33,416.77 988.3,413.33 989,410C989.7,406.67 990.1,403 990.2,400C990.3,397 989.83,394.67 989.6,392C989.37,389.33 989.03,386.83 988.8,384C988.57,381.17 988.23,377.67 988.2,375C988.17,372.33 988.37,369.83 988.6,368C988.83,366.17 988.87,365 989.6,364C990.33,363 991.83,362.93 993,362C994.17,361.07 995.7,359.65 996.6,358.4C997.5,357.15 998.17,355.8 998.4,354.5C998.63,353.2 998.63,351.85 998,350.6C997.37,349.35 996.02,348 994.6,347C993.18,346 991.43,345.17 989.5,344.6C987.57,344.03 985,343.63 983,343.6C981,343.57 979.33,343.9 977.5,344.4Z" fill="#efdaa7" stroke="#c8aa74" stroke-width="1" stroke-linejoin="round"/>
<path d="M849,358 C855,364 863,374 870,388 C873,394 876,398 880,401" fill="none" stroke="#dec690" stroke-width="1.1"/>
<path d="M846.6,367 C853,374 860,385 866,397 C868,401 870,404 872,406.5" fill="none" stroke="#dec690" stroke-width="1.1"/>
<path d="M841.5,371.5 C848,380 855,392 861,404" fill="none" stroke="#dec690" stroke-width="1.1"/>
<path d="M836.5,378 C842,386 849,398 856,410" fill="none" stroke="#dec690" stroke-width="1.1"/>
<path d="M835,388 C840,396 846,406 852,415" fill="none" stroke="#dec690" stroke-width="1.1"/>
<path d="M838,402 C842,408 847,415 853,421" fill="none" stroke="#dec690" stroke-width="1.1"/>
<path d="M962.7,411 C961,420 956,428 948,434 C938,441 925,444 912,443.4 C905,443 899,441 894,437.6 C900,439.6 908,440.4 916,439.6 C930,438 944,432 953,423 C957.6,418.6 960.6,414.6 962.7,411 Z" fill="#dec690" opacity="0.9"/>
<path d="M866.5,404 C863.6,407 863,410 865.4,413 C864,417 866.4,420 870.4,421.4 C871.4,425 875.6,426.6 880,426.6 C886,428 892,425 898,418.5 C893,422 887,423.6 882,422.6 C877.6,422.4 874,420.4 873,417 C869.4,415.6 868,412.6 869.4,409.6 C867.4,408 866.4,406 866.5,404 Z" fill="#dec690" opacity="0.85"/>
<path d="M867.9,440.5 C871,447 876,450 881.6,452 C886,456 891,458.6 895.4,460 C900,463 905,464.6 909,465.6 C911,469.6 913,473 914.6,476.25 C911,472 907,469.6 903,468 C898,466 893,463 889,460 C883,457 877,454 873,450 C870,446.6 868.6,443.6 867.9,440.5 Z" fill="#dec690" opacity="0.85"/>
<path d="M875,431 C880,434.6 887,436 894,437.6" fill="none" stroke="#dec690" stroke-width="1.1"/>
<path d="M978,352 C977,356 979,359 984,361 C981,357.5 980.4,355 981,352.6" fill="none" stroke="#dec690" stroke-width="1"/>
<path d="M978.6,344.6 C978,341.5 979,340 980.2,339.4 L981.6,341.4 L983.2,337 L985.4,340.6 L987.6,336.4 L989.4,340.2 L992.4,338.6 L993,342.4 L996,342.6 C997.6,344.6 998.4,347 998.2,349.4 C995,346.6 990,345 985,345 C982.6,345 980.4,345 978.6,344.6 Z" fill="#d85a40"/>
<path d="M986,359.6 C989,358.4 993.5,357 997,355.6 C998,359 996.6,362.6 994,364.6 C991.6,366.4 988.6,366 987.2,363.6 C986.4,362.4 986,361 986,359.6 Z" fill="#d85a40"/>
<path d="M983.6,350.6 C985.6,347.8 990.4,347.6 994.8,350 C993,352.6 989,353.4 985.6,352.4 Z" fill="#e07a5a"/>
<ellipse cx="988.2" cy="350.4" rx="2.1" ry="1.9" fill="#4a2418"/>
<path d="M979,348 C984,345.6 991,346 996,349" fill="none" stroke="#f4e6c0" stroke-width="1.1"/>
<path d="M994.8,349.4 C998.4,349.6 1002.4,351.6 1005.2,354.4 C1001.6,355.4 998,355.4 995.4,354.8 C994.4,353 994.2,351 994.8,349.4 Z" fill="#c9aa7a" stroke="#a88a5c" stroke-width="0.5"/>
<!-- syringe -->
<ellipse cx="1031.8" cy="237.5" rx="47.6" ry="42.3" fill="#fee9f6" stroke="#111" stroke-width="1.4"/>
<g stroke-width="0.9" fill="none"><path d="M1059.75,247.06L1056.76,246.92" stroke="#d62030"/><path d="M1056.76,246.92L1053.77,246.79" stroke="#1f56a4"/><path d="M1061.05,250.18L1056.44,249.56" stroke="#d62030"/><path d="M1056.44,249.56L1051.82,248.93" stroke="#1f56a4"/><path d="M1060.2,253.16L1055.79,252.15" stroke="#d62030"/><path d="M1055.79,252.15L1051.38,251.14" stroke="#1f56a4"/><path d="M1057.37,255.5L1054.83,254.67" stroke="#d62030"/><path d="M1054.83,254.67L1052.3,253.84" stroke="#1f56a4"/><path d="M1049.51,257.98L1052.02,259.38" stroke="#d62030"/><path d="M1052.02,259.38L1054.54,260.77" stroke="#1f56a4"/><path d="M1046.57,259.01L1050.2,261.52" stroke="#d62030"/><path d="M1050.2,261.52L1053.84,264.04" stroke="#1f56a4"/><path d="M1044.9,260.73L1048.13,263.49" stroke="#d62030"/><path d="M1048.13,263.49L1051.36,266.25" stroke="#1f56a4"/><path d="M1044.12,263.46L1045.83,265.26" stroke="#d62030"/><path d="M1045.83,265.26L1047.54,267.06" stroke="#1f56a4"/><path d="M1042,270.42L1040.64,268.14" stroke="#d62030"/><path d="M1040.64,268.14L1039.28,265.86" stroke="#1f56a4"/><path d="M1039.48,272.95L1037.81,269.22" stroke="#d62030"/><path d="M1037.81,269.22L1036.13,265.49" stroke="#1f56a4"/><path d="M1036.04,273.81L1034.86,270.04" stroke="#d62030"/><path d="M1034.86,270.04L1033.68,266.27" stroke="#1f56a4"/><path d="M1032.26,272.88L1031.83,270.59" stroke="#d62030"/><path d="M1031.83,270.59L1031.41,268.3" stroke="#1f56a4"/><path d="M1025.81,268.31L1025.65,270.87" stroke="#d62030"/><path d="M1025.65,270.87L1025.49,273.42" stroke="#1f56a4"/><path d="M1023.3,266.64L1022.57,270.59" stroke="#d62030"/><path d="M1022.57,270.59L1021.84,274.53" stroke="#1f56a4"/><path d="M1020.72,266.27L1019.54,270.04" stroke="#d62030"/><path d="M1019.54,270.04L1018.36,273.81" stroke="#1f56a4"/><path d="M1017.57,267.05L1016.59,269.22" stroke="#d62030"/><path d="M1016.59,269.22L1015.62,271.39" stroke="#1f56a4"/><path d="M1009.45,268.97L1011.08,266.82" stroke="#d62030"/><path d="M1011.08,266.82L1012.71,264.67" stroke="#1f56a4"/><path d="M1005.63,268.37L1008.57,265.26" stroke="#d62030"/><path d="M1008.57,265.26L1011.51,262.16" stroke="#1f56a4"/><path d="M1003.04,266.25L1006.27,263.49" stroke="#d62030"/><path d="M1006.27,263.49L1009.5,260.73" stroke="#1f56a4"/><path d="M1002.09,262.98L1004.2,261.52" stroke="#d62030"/><path d="M1004.2,261.52L1006.31,260.06" stroke="#1f56a4"/><path d="M1003.5,255.92L1000.83,257.09" stroke="#d62030"/><path d="M1000.83,257.09L998.16,258.25" stroke="#1f56a4"/><path d="M1003.93,253.24L999.57,254.67" stroke="#d62030"/><path d="M999.57,254.67L995.2,256.1" stroke="#1f56a4"/><path d="M1003.02,251.14L998.61,252.15" stroke="#d62030"/><path d="M998.61,252.15L994.2,253.16" stroke="#1f56a4"/><path d="M1000.65,249.19L997.96,249.56" stroke="#d62030"/><path d="M997.96,249.56L995.28,249.92" stroke="#1f56a4"/><path d="M994.65,244.14L997.64,244.28" stroke="#d62030"/><path d="M997.64,244.28L1000.63,244.41" stroke="#1f56a4"/><path d="M993.35,241.02L997.96,241.64" stroke="#d62030"/><path d="M997.96,241.64L1002.58,242.27" stroke="#1f56a4"/><path d="M994.2,238.04L998.61,239.05" stroke="#d62030"/><path d="M998.61,239.05L1003.02,240.06" stroke="#1f56a4"/><path d="M997.03,235.7L999.57,236.53" stroke="#d62030"/><path d="M999.57,236.53L1002.1,237.36" stroke="#1f56a4"/><path d="M1004.89,233.22L1002.38,231.82" stroke="#d62030"/><path d="M1002.38,231.82L999.86,230.43" stroke="#1f56a4"/><path d="M1007.83,232.19L1004.2,229.68" stroke="#d62030"/><path d="M1004.2,229.68L1000.56,227.16" stroke="#1f56a4"/><path d="M1009.5,230.47L1006.27,227.71" stroke="#d62030"/><path d="M1006.27,227.71L1003.04,224.95" stroke="#1f56a4"/><path d="M1010.28,227.74L1008.57,225.94" stroke="#d62030"/><path d="M1008.57,225.94L1006.86,224.14" stroke="#1f56a4"/><path d="M1012.4,220.78L1013.76,223.06" stroke="#d62030"/><path d="M1013.76,223.06L1015.12,225.34" stroke="#1f56a4"/><path d="M1014.92,218.25L1016.59,221.98" stroke="#d62030"/><path d="M1016.59,221.98L1018.27,225.71" stroke="#1f56a4"/><path d="M1018.36,217.39L1019.54,221.16" stroke="#d62030"/><path d="M1019.54,221.16L1020.72,224.93" stroke="#1f56a4"/><path d="M1022.14,218.32L1022.57,220.61" stroke="#d62030"/><path d="M1022.57,220.61L1022.99,222.9" stroke="#1f56a4"/><path d="M1028.59,222.89L1028.75,220.33" stroke="#d62030"/><path d="M1028.75,220.33L1028.91,217.78" stroke="#1f56a4"/><path d="M1031.1,224.56L1031.83,220.61" stroke="#d62030"/><path d="M1031.83,220.61L1032.56,216.67" stroke="#1f56a4"/><path d="M1033.68,224.93L1034.86,221.16" stroke="#d62030"/><path d="M1034.86,221.16L1036.04,217.39" stroke="#1f56a4"/><path d="M1036.83,224.15L1037.81,221.98" stroke="#d62030"/><path d="M1037.81,221.98L1038.78,219.81" stroke="#1f56a4"/><path d="M1044.95,222.23L1043.32,224.38" stroke="#d62030"/><path d="M1043.32,224.38L1041.69,226.53" stroke="#1f56a4"/><path d="M1048.77,222.83L1045.83,225.94" stroke="#d62030"/><path d="M1045.83,225.94L1042.89,229.04" stroke="#1f56a4"/><path d="M1051.36,224.95L1048.13,227.71" stroke="#d62030"/><path d="M1048.13,227.71L1044.9,230.47" stroke="#1f56a4"/><path d="M1052.31,228.22L1050.2,229.68" stroke="#d62030"/><path d="M1050.2,229.68L1048.09,231.14" stroke="#1f56a4"/><path d="M1050.9,235.28L1053.57,234.11" stroke="#d62030"/><path d="M1053.57,234.11L1056.24,232.95" stroke="#1f56a4"/><path d="M1050.47,237.96L1054.83,236.53" stroke="#d62030"/><path d="M1054.83,236.53L1059.2,235.1" stroke="#1f56a4"/><path d="M1051.38,240.06L1055.79,239.05" stroke="#d62030"/><path d="M1055.79,239.05L1060.2,238.04" stroke="#1f56a4"/><path d="M1053.75,242.01L1056.44,241.64" stroke="#d62030"/><path d="M1056.44,241.64L1059.12,241.28" stroke="#1f56a4"/></g>
<path d="M1058.61,245.6L1059.35,246.32L1060.01,247.07L1060.56,247.84L1061,248.64L1061.3,249.44L1061.45,250.24L1061.46,251.03L1061.32,251.8L1061.02,252.54L1060.59,253.25L1060.01,253.91L1059.31,254.52L1058.5,255.07L1057.59,255.57L1056.61,256.01L1055.57,256.4L1054.49,256.73L1053.41,257.01L1052.32,257.26L1051.27,257.48L1050.25,257.67L1049.29,257.86L1048.41,258.06L1047.6,258.27L1046.88,258.51L1046.26,258.79L1045.72,259.12L1045.27,259.51L1044.91,259.96L1044.62,260.49L1044.4,261.09L1044.22,261.76L1044.09,262.5L1043.97,263.3L1043.86,264.16L1043.75,265.06L1043.6,266L1043.42,266.95L1043.2,267.91L1042.91,268.85L1042.55,269.76L1042.12,270.62L1041.61,271.42L1041.02,272.14L1040.36,272.76L1039.63,273.27L1038.83,273.67L1037.98,273.95L1037.08,274.11L1036.15,274.14L1035.19,274.04L1034.22,273.83L1033.25,273.5L1032.29,273.08L1031.35,272.57L1030.45,272L1029.57,271.37L1028.74,270.7L1027.95,270.03L1027.2,269.35L1026.49,268.7L1025.82,268.09L1025.18,267.53L1024.56,267.04L1023.96,266.62L1023.36,266.3L1022.76,266.07L1022.14,265.93L1021.5,265.89L1020.82,265.94L1020.1,266.07L1019.34,266.28L1018.52,266.55L1017.65,266.87L1016.73,267.21L1015.75,267.58L1014.73,267.94L1013.68,268.29L1012.59,268.6L1011.49,268.85L1010.39,269.04L1009.3,269.15L1008.24,269.17L1007.23,269.1L1006.26,268.92L1005.37,268.64L1004.57,268.25L1003.86,267.76L1003.26,267.17L1002.76,266.49L1002.38,265.73L1002.11,264.91L1001.95,264.03L1001.9,263.11L1001.95,262.16L1002.08,261.2L1002.28,260.24L1002.53,259.29L1002.83,258.37L1003.13,257.48L1003.44,256.63L1003.73,255.82L1003.97,255.07L1004.16,254.37L1004.28,253.71L1004.31,253.11L1004.24,252.55L1004.07,252.02L1003.79,251.53L1003.4,251.05L1002.91,250.58L1002.32,250.12L1001.64,249.65L1000.88,249.16L1000.06,248.65L999.21,248.11L998.33,247.54L997.45,246.93L996.6,246.28L995.79,245.6L995.05,244.88L994.39,244.13L993.84,243.36L993.4,242.56L993.1,241.76L992.95,240.96L992.94,240.17L993.08,239.4L993.38,238.66L993.81,237.95L994.39,237.29L995.09,236.68L995.9,236.13L996.81,235.63L997.79,235.19L998.83,234.8L999.91,234.47L1000.99,234.19L1002.08,233.94L1003.13,233.72L1004.15,233.53L1005.11,233.34L1005.99,233.14L1006.8,232.93L1007.52,232.69L1008.14,232.41L1008.68,232.08L1009.13,231.69L1009.49,231.24L1009.78,230.71L1010,230.11L1010.18,229.44L1010.31,228.7L1010.43,227.9L1010.54,227.04L1010.65,226.14L1010.8,225.2L1010.98,224.25L1011.2,223.29L1011.49,222.35L1011.85,221.44L1012.28,220.58L1012.79,219.78L1013.38,219.06L1014.04,218.44L1014.77,217.93L1015.57,217.53L1016.42,217.25L1017.32,217.09L1018.25,217.06L1019.21,217.16L1020.18,217.37L1021.15,217.7L1022.11,218.12L1023.05,218.63L1023.95,219.2L1024.83,219.83L1025.66,220.5L1026.45,221.17L1027.2,221.85L1027.91,222.5L1028.58,223.11L1029.22,223.67L1029.84,224.16L1030.44,224.58L1031.04,224.9L1031.64,225.13L1032.26,225.27L1032.9,225.31L1033.58,225.26L1034.3,225.13L1035.06,224.92L1035.88,224.65L1036.75,224.33L1037.67,223.99L1038.65,223.62L1039.67,223.26L1040.72,222.91L1041.81,222.6L1042.91,222.35L1044.01,222.16L1045.1,222.05L1046.16,222.03L1047.17,222.1L1048.14,222.28L1049.03,222.56L1049.83,222.95L1050.54,223.44L1051.14,224.03L1051.64,224.71L1052.02,225.47L1052.29,226.29L1052.45,227.17L1052.5,228.09L1052.45,229.04L1052.32,230L1052.12,230.96L1051.87,231.91L1051.57,232.83L1051.27,233.72L1050.96,234.57L1050.67,235.38L1050.43,236.13L1050.24,236.83L1050.12,237.49L1050.09,238.09L1050.16,238.65L1050.33,239.18L1050.61,239.67L1051,240.15L1051.49,240.62L1052.08,241.08L1052.76,241.55L1053.52,242.04L1054.34,242.55L1055.19,243.09L1056.07,243.66L1056.95,244.27L1057.8,244.92L1058.61,245.6Z" fill="none" stroke="#d62030" stroke-width="2.1" stroke-linejoin="round"/>
<path d="M1054.99,245.6L1054.22,246.2L1053.51,246.78L1052.85,247.33L1052.28,247.85L1051.8,248.37L1051.42,248.88L1051.15,249.39L1050.99,249.92L1050.94,250.47L1051,251.05L1051.15,251.66L1051.39,252.32L1051.71,253.02L1052.08,253.76L1052.49,254.55L1052.91,255.39L1053.34,256.26L1053.74,257.16L1054.1,258.09L1054.4,259.02L1054.63,259.97L1054.76,260.9L1054.78,261.8L1054.69,262.67L1054.48,263.49L1054.15,264.25L1053.7,264.94L1053.12,265.55L1052.43,266.07L1051.64,266.49L1050.75,266.82L1049.79,267.04L1048.76,267.18L1047.68,267.22L1046.58,267.18L1045.45,267.07L1044.33,266.9L1043.22,266.68L1042.14,266.43L1041.09,266.17L1040.1,265.91L1039.16,265.66L1038.28,265.45L1037.46,265.29L1036.69,265.19L1035.99,265.17L1035.33,265.22L1034.72,265.37L1034.13,265.61L1033.58,265.94L1033.03,266.36L1032.49,266.87L1031.94,267.45L1031.37,268.1L1030.77,268.8L1030.14,269.53L1029.47,270.28L1028.76,271.03L1028,271.76L1027.2,272.45L1026.36,273.08L1025.48,273.65L1024.57,274.12L1023.65,274.49L1022.71,274.74L1021.77,274.88L1020.85,274.88L1019.95,274.76L1019.08,274.51L1018.25,274.14L1017.48,273.64L1016.77,273.04L1016.12,272.35L1015.53,271.57L1015.02,270.73L1014.57,269.85L1014.18,268.93L1013.85,268L1013.56,267.07L1013.31,266.17L1013.07,265.3L1012.85,264.48L1012.63,263.73L1012.38,263.04L1012.1,262.42L1011.77,261.89L1011.38,261.43L1010.93,261.05L1010.39,260.74L1009.78,260.49L1009.08,260.3L1008.29,260.15L1007.43,260.03L1006.49,259.93L1005.48,259.84L1004.43,259.74L1003.33,259.62L1002.22,259.47L1001.1,259.27L1000,259.02L998.93,258.72L997.92,258.35L996.99,257.92L996.15,257.41L995.43,256.85L994.82,256.22L994.35,255.54L994.03,254.81L993.85,254.04L993.81,253.25L993.93,252.43L994.18,251.6L994.56,250.77L995.05,249.95L995.64,249.15L996.32,248.37L997.05,247.63L997.83,246.92L998.62,246.24L999.41,245.6L1000.18,245L1000.89,244.42L1001.55,243.87L1002.12,243.35L1002.6,242.83L1002.98,242.32L1003.25,241.81L1003.41,241.28L1003.46,240.73L1003.4,240.15L1003.25,239.54L1003.01,238.88L1002.69,238.18L1002.32,237.44L1001.91,236.65L1001.49,235.81L1001.06,234.94L1000.66,234.04L1000.3,233.11L1000,232.18L999.77,231.23L999.64,230.3L999.62,229.4L999.71,228.53L999.92,227.71L1000.25,226.95L1000.7,226.26L1001.28,225.65L1001.97,225.13L1002.76,224.71L1003.65,224.38L1004.61,224.16L1005.64,224.02L1006.72,223.98L1007.82,224.02L1008.95,224.13L1010.07,224.3L1011.18,224.52L1012.26,224.77L1013.31,225.03L1014.3,225.29L1015.24,225.54L1016.12,225.75L1016.94,225.91L1017.71,226.01L1018.41,226.03L1019.07,225.98L1019.68,225.83L1020.27,225.59L1020.82,225.26L1021.37,224.84L1021.91,224.33L1022.46,223.75L1023.03,223.1L1023.63,222.4L1024.26,221.67L1024.93,220.92L1025.64,220.17L1026.4,219.44L1027.2,218.75L1028.04,218.12L1028.92,217.55L1029.83,217.08L1030.75,216.71L1031.69,216.46L1032.63,216.32L1033.55,216.32L1034.45,216.44L1035.32,216.69L1036.15,217.06L1036.92,217.56L1037.63,218.16L1038.28,218.85L1038.87,219.63L1039.38,220.47L1039.83,221.35L1040.22,222.27L1040.55,223.2L1040.84,224.13L1041.09,225.03L1041.33,225.9L1041.55,226.72L1041.77,227.47L1042.02,228.16L1042.3,228.78L1042.63,229.31L1043.02,229.77L1043.47,230.15L1044.01,230.46L1044.62,230.71L1045.32,230.9L1046.11,231.05L1046.97,231.17L1047.91,231.27L1048.92,231.36L1049.97,231.46L1051.07,231.58L1052.18,231.73L1053.3,231.93L1054.4,232.18L1055.47,232.48L1056.48,232.85L1057.41,233.28L1058.25,233.79L1058.97,234.35L1059.58,234.98L1060.05,235.66L1060.37,236.39L1060.55,237.16L1060.59,237.95L1060.47,238.77L1060.22,239.6L1059.84,240.43L1059.35,241.25L1058.76,242.05L1058.08,242.83L1057.35,243.57L1056.57,244.28L1055.78,244.96L1054.99,245.6Z" fill="none" stroke="#1f56a4" stroke-width="2.1" stroke-linejoin="round"/>
<path d="M1057.27,255.72L1056.89,255.89L1056.51,256.05L1056.11,256.2L1055.71,256.35L1055.31,256.48L1054.9,256.61L1054.48,256.73L1054.07,256.84L1053.65,256.95L1053.24,257.05L1052.82,257.15L1052.41,257.24L1052,257.33L1051.6,257.41L1051.2,257.49L1050.81,257.57L1050.42,257.64L1050.04,257.71" fill="none" stroke="#d62030" stroke-width="2.1"/>
<path d="M1031.98,272.92L1031.62,272.72L1031.26,272.52L1030.91,272.3L1030.57,272.08L1030.23,271.85L1029.89,271.61L1029.57,271.36L1029.24,271.11L1028.93,270.86L1028.61,270.6L1028.31,270.34L1028.01,270.08L1027.72,269.82L1027.43,269.56L1027.15,269.31L1026.88,269.06L1026.61,268.81L1026.35,268.57" fill="none" stroke="#d62030" stroke-width="2.1"/>
<path d="M1001.91,262.79L1001.93,262.43L1001.96,262.07L1002,261.7L1002.06,261.33L1002.12,260.97L1002.2,260.6L1002.28,260.23L1002.37,259.87L1002.47,259.51L1002.58,259.15L1002.69,258.79L1002.8,258.44L1002.92,258.1L1003.04,257.76L1003.15,257.42L1003.27,257.09L1003.39,256.77L1003.5,256.45" fill="none" stroke="#d62030" stroke-width="2.1"/>
<path d="M997.13,235.48L997.51,235.31L997.89,235.15L998.29,235L998.69,234.85L999.09,234.72L999.5,234.59L999.92,234.47L1000.33,234.36L1000.75,234.25L1001.16,234.15L1001.58,234.05L1001.99,233.96L1002.4,233.87L1002.8,233.79L1003.2,233.71L1003.59,233.63L1003.98,233.56L1004.36,233.49" fill="none" stroke="#d62030" stroke-width="2.1"/>
<path d="M1022.42,218.28L1022.78,218.48L1023.14,218.68L1023.49,218.9L1023.83,219.12L1024.17,219.35L1024.51,219.59L1024.83,219.84L1025.16,220.09L1025.47,220.34L1025.79,220.6L1026.09,220.86L1026.39,221.12L1026.68,221.38L1026.97,221.64L1027.25,221.89L1027.52,222.14L1027.79,222.39L1028.05,222.63" fill="none" stroke="#d62030" stroke-width="2.1"/>
<path d="M1052.49,228.41L1052.47,228.77L1052.44,229.13L1052.4,229.5L1052.34,229.87L1052.28,230.23L1052.2,230.6L1052.12,230.97L1052.03,231.33L1051.93,231.69L1051.82,232.05L1051.71,232.41L1051.6,232.76L1051.48,233.1L1051.36,233.44L1051.25,233.78L1051.13,234.11L1051.01,234.43L1050.9,234.75" fill="none" stroke="#d62030" stroke-width="2.1"/>
<path d="M1059.16,241.52L1058.93,241.82L1058.69,242.13L1058.44,242.43L1058.18,242.72L1057.91,243.01L1057.63,243.3L1057.34,243.58L1057.05,243.85L1056.75,244.13L1056.45,244.39L1056.15,244.65L1055.84,244.91L1055.54,245.16L1055.24,245.4L1054.94,245.64L1054.64,245.87L1054.35,246.1L1054.07,246.33" fill="none" stroke="#1f56a4" stroke-width="2.1"/>
<path d="M1047.32,267.22L1046.89,267.2L1046.47,267.18L1046.04,267.14L1045.61,267.09L1045.18,267.04L1044.75,266.97L1044.32,266.9L1043.89,266.82L1043.47,266.74L1043.05,266.65L1042.63,266.55L1042.22,266.45L1041.82,266.36L1041.42,266.25L1041.03,266.15L1040.64,266.05L1040.27,265.95L1039.9,265.85" fill="none" stroke="#1f56a4" stroke-width="2.1"/>
<path d="M1015.36,271.3L1015.16,270.98L1014.97,270.65L1014.8,270.31L1014.63,269.97L1014.47,269.62L1014.32,269.27L1014.18,268.92L1014.05,268.57L1013.92,268.21L1013.8,267.86L1013.69,267.5L1013.58,267.15L1013.48,266.8L1013.38,266.45L1013.29,266.11L1013.2,265.78L1013.11,265.45L1013.03,265.13" fill="none" stroke="#1f56a4" stroke-width="2.1"/>
<path d="M995.24,249.68L995.47,249.38L995.71,249.07L995.96,248.77L996.22,248.48L996.49,248.19L996.77,247.9L997.06,247.62L997.35,247.35L997.65,247.07L997.95,246.81L998.25,246.55L998.56,246.29L998.86,246.04L999.16,245.8L999.46,245.56L999.76,245.33L1000.05,245.1L1000.33,244.87" fill="none" stroke="#1f56a4" stroke-width="2.1"/>
<path d="M1007.08,223.98L1007.51,224L1007.93,224.02L1008.36,224.06L1008.79,224.11L1009.22,224.16L1009.65,224.23L1010.08,224.3L1010.51,224.38L1010.93,224.46L1011.35,224.55L1011.77,224.65L1012.18,224.75L1012.58,224.84L1012.98,224.95L1013.37,225.05L1013.76,225.15L1014.13,225.25L1014.5,225.35" fill="none" stroke="#1f56a4" stroke-width="2.1"/>
<path d="M1039.04,219.9L1039.24,220.22L1039.43,220.55L1039.6,220.89L1039.77,221.23L1039.93,221.58L1040.08,221.93L1040.22,222.28L1040.35,222.63L1040.48,222.99L1040.6,223.34L1040.71,223.7L1040.82,224.05L1040.92,224.4L1041.02,224.75L1041.11,225.09L1041.2,225.42L1041.29,225.75L1041.37,226.07" fill="none" stroke="#1f56a4" stroke-width="2.1"/>
<defs>
<linearGradient id="gSyF" gradientUnits="userSpaceOnUse" x1="73" y1="0" x2="110" y2="0"><stop offset="0" stop-color="#f2eef2" stop-opacity="0.95"/><stop offset="0.55" stop-color="#f6f2f6" stop-opacity="0.8"/><stop offset="1" stop-color="#fff" stop-opacity="0"/></linearGradient>
<linearGradient id="gSyL" gradientUnits="userSpaceOnUse" x1="36" y1="0" x2="110" y2="0"><stop offset="0" stop-color="#30383c"/><stop offset="0.72" stop-color="#3a3a3a"/><stop offset="1" stop-color="#555" stop-opacity="0"/></linearGradient>
<linearGradient id="gSyT" gradientUnits="userSpaceOnUse" x1="73" y1="0" x2="108" y2="0"><stop offset="0" stop-color="#666"/><stop offset="0.6" stop-color="#999"/><stop offset="1" stop-color="#aaa" stop-opacity="0"/></linearGradient>
<linearGradient id="gSyLiq" gradientUnits="userSpaceOnUse" x1="0" y1="-7" x2="0" y2="7"><stop offset="0" stop-color="#8fcbea"/><stop offset="0.3" stop-color="#b4e0f6"/><stop offset="0.75" stop-color="#a6d8f2"/><stop offset="1" stop-color="#86c2e2"/></linearGradient>
</defs>
<g transform="translate(1038.75,376.25) rotate(-33.3)">
<path d="M-57.6,0 H1" stroke="#1a1a1a" stroke-width="1.3"/>
<path d="M0,-1.9 L9,-4 L9,4 L0,1.9 Z" fill="#74c8b4" stroke="#3c8a7c" stroke-width="0.7"/>
<rect x="9" y="-4.9" width="18.5" height="9.8" rx="1.2" fill="#56b6a0" stroke="#36806e" stroke-width="0.8"/>
<path d="M10,-2.4 H27 M10,0.2 H27 M10,2.8 H27" stroke="#3a9482" stroke-width="0.9"/>
<path d="M23.5,-4.9 V4.9" stroke="#36806e" stroke-width="0.9"/>
<path d="M27.5,-3.8 H32 C33,-3.8 33,-7.2 36,-7.2 H66 V7.2 H36 C33,7.2 33,3.8 32,3.8 H27.5 Z" fill="url(#gSyLiq)"/>
<path d="M41,-2 V6.6 M44,1.5 V6.6 M47,1.5 V6.6 M50,1.5 V6.6 M53,1.5 V6.6 M56,-2 V6.6 M59,1.5 V6.6 M62,1.5 V6.6" stroke="#6fa8cc" stroke-width="0.7" fill="none"/>
<rect x="73" y="-7.2" width="37" height="14.4" fill="url(#gSyF)"/>
<rect x="65" y="-7.2" width="8.5" height="14.4" fill="#474747"/>
<rect x="65" y="-7.2" width="8.5" height="4" fill="#777"/>
<path d="M75,0.5 V6.8 M77.9,0.5 V6.8 M80.8,-6 V6.8 M83.7,0.5 V6.8 M86.6,0.5 V6.8 M89.5,0.5 V6.8 M92.4,-6 V6.8 M95.3,0.5 V6.8 M98.2,0.5 V6.8 M101.1,0.5 V6.8 M104,-6 V6.8 M106.9,0.5 V6.8" stroke="url(#gSyT)" stroke-width="0.7" fill="none"/>
<path d="M73,0.5 H108" stroke="url(#gSyT)" stroke-width="0.6"/>
<path d="M27.5,-3.8 H32 C33,-3.8 33,-7.2 36,-7.2 H110" fill="none" stroke="url(#gSyL)" stroke-width="1.3"/>
<path d="M27.5,3.8 H32 C33,3.8 33,7.2 36,7.2 H110" fill="none" stroke="url(#gSyL)" stroke-width="1.3" opacity="0.8"/>
<path d="M27.5,-3.8 V3.8" stroke="#30383c" stroke-width="0.9"/>
</g>
<path d="M1079.6,236 L1109.4,332.6 M1016,277.8 L1108.4,332.8" stroke="#111" stroke-width="1.5" stroke-dasharray="3.6 3.1" fill="none"/>
<!-- human -->
<defs>
<linearGradient id="gArmFade" gradientUnits="userSpaceOnUse" x1="0" y1="688" x2="0" y2="730"><stop offset="0" stop-color="#fff"/><stop offset="1" stop-color="#000"/></linearGradient>
<linearGradient id="gTorFade" gradientUnits="userSpaceOnUse" x1="0" y1="714" x2="0" y2="746"><stop offset="0" stop-color="#fff"/><stop offset="1" stop-color="#000"/></linearGradient>
<mask id="mBody" maskUnits="userSpaceOnUse" x="400" y="400" width="400" height="400">
<rect x="400" y="400" width="108" height="400" fill="url(#gArmFade)"/>
<rect x="508" y="400" width="164" height="400" fill="url(#gTorFade)"/>
<rect x="672" y="400" width="128" height="400" fill="url(#gArmFade)"/>
</mask></defs>
<clipPath id="cBody"><path d="M605,424.4C608.25,424.3 611.37,424.28 614.5,424.6C617.63,424.92 621.05,425.4 623.8,426.3C626.55,427.2 628.82,428.45 631,430C633.18,431.55 634.98,433.43 636.9,435.6C638.82,437.77 640.93,440.5 642.5,443C644.07,445.5 645.42,448.27 646.3,450.6C647.18,452.93 647.5,454.8 647.8,457C648.1,459.2 647.97,461.87 648.1,463.8C648.23,465.73 648.28,467.07 648.6,468.6C648.92,470.13 649.27,471.27 650,473C650.73,474.73 652.07,477.1 653,479C653.93,480.9 655.27,483 655.6,484.4C655.93,485.8 655.47,486.63 655,487.4C654.53,488.17 653.7,488.67 652.8,489C651.9,489.33 650.47,489.13 649.6,489.4C648.73,489.67 647.77,489.97 647.6,490.6C647.43,491.23 648.37,492.37 648.6,493.2C648.83,494.03 649.17,494.8 649,495.6C648.83,496.4 648.05,497.22 647.6,498C647.15,498.78 646.3,499.6 646.3,500.3C646.3,501 647.3,501.58 647.6,502.2C647.9,502.82 648.33,503.27 648.1,504C647.87,504.73 646.82,505.8 646.2,506.6C645.58,507.4 644.62,507.97 644.4,508.8C644.18,509.63 644.9,510.67 644.9,511.6C644.9,512.53 644.88,513.53 644.4,514.4C643.92,515.27 642.93,516.2 642,516.8C641.07,517.4 640.3,517.8 638.8,518C637.3,518.2 634.88,518.13 633,518C631.12,517.87 629.25,517.63 627.5,517.2C625.75,516.77 624.08,515.87 622.5,515.4C620.92,514.93 619.28,514.2 618,514.4C616.72,514.6 615.72,515.67 614.8,516.6C613.88,517.53 612.97,518.77 612.5,520C612.03,521.23 612,522.75 612,524C612,525.25 611.93,526.23 612.5,527.5C613.07,528.77 614.15,530.35 615.4,531.6C616.65,532.85 618.07,533.93 620,535C621.93,536.07 624.5,537.07 627,538C629.5,538.93 631.83,539.83 635,540.6C638.17,541.37 642.25,541.97 646,542.6C649.75,543.23 653.67,543.6 657.5,544.4C661.33,545.2 665.92,546.3 669,547.4C672.08,548.5 674,549.4 676,551C678,552.6 679.5,554.67 681,557C682.5,559.33 683.83,561.83 685,565C686.17,568.17 687,571.83 688,576C689,580.17 689.42,582.83 691,590C692.58,597.17 695.5,611.08 697.5,619C699.5,626.92 701.08,631.5 703,637.5C704.92,643.5 706.83,649.18 709,655C711.17,660.82 713.62,666.67 716,672.4C718.38,678.13 721.13,684.37 723.3,689.4C725.47,694.43 727.08,698.28 729,702.6C730.92,706.92 732.8,710.73 734.8,715.3C736.8,719.87 744.8,725.05 741,730C737.2,734.95 718.53,746.5 712,745C705.47,743.5 705.65,728.83 701.8,721C697.95,713.17 692.27,704.23 688.9,698C685.53,691.77 684,688.38 681.6,683.6C679.2,678.82 677.37,676 674.5,669.3C671.63,662.6 667.08,650.28 664.4,643.4C661.72,636.52 659.87,631.9 658.4,628C656.93,624.1 656.3,622.07 655.6,620C654.9,617.93 654.37,615.27 654.2,615.6C654.03,615.93 654.42,619.6 654.6,622C654.78,624.4 654.95,625.12 655.3,630C655.65,634.88 656.75,645.63 656.7,651.3C656.65,656.97 655.67,660 655,664C654.33,668 653.3,671.97 652.7,675.3C652.1,678.63 651.63,681.33 651.4,684C651.17,686.67 651.1,688.47 651.3,691.3C651.5,694.13 651.93,697.88 652.6,701C653.27,704.12 653.95,705.38 655.3,710C656.65,714.62 659.13,723.37 660.7,728.7C662.27,734.03 663.15,735.95 664.7,742C666.25,748.05 696.12,761.17 670,765C643.88,768.83 534,768.83 508,765C482,761.17 512.12,748.95 514,742C515.88,735.05 517.52,729.52 519.3,723.3C521.08,717.08 523.35,709.58 524.7,704.7C526.05,699.82 526.73,697.57 527.4,694C528.07,690.43 528.5,686.63 528.7,683.3C528.9,679.97 528.83,677.1 528.6,674C528.37,670.9 528.18,669.82 527.3,664.7C526.42,659.58 524.18,649.08 523.3,643.3C522.42,637.52 522.22,633.55 522,630C521.78,626.45 522,624.45 522,622C522,619.55 522.67,614.85 522,615.3C521.33,615.75 519.5,621.08 518,624.7C516.5,628.32 514.78,633 513,637C511.22,641 510.47,642.32 507.3,648.7C504.13,655.08 498.43,666.42 494,675.3C489.57,684.18 484.7,694 480.7,702C476.7,710 473.78,715.63 470,723.3C466.22,730.97 464.33,745.55 458,748C451.67,750.45 434.88,743 432,738C429.12,733 438.37,724 440.7,718C443.03,712 444.12,707 446,702C447.88,697 449.78,692.45 452,688C454.22,683.55 456.97,679.97 459.3,675.3C461.63,670.63 463.77,665.33 466,660C468.23,654.67 470.7,648.8 472.7,643.3C474.7,637.8 476.45,632.33 478,627C479.55,621.67 480.83,615.8 482,611.3C483.17,606.8 484.12,603.55 485,600C485.88,596.45 486.72,593.67 487.3,590C487.88,586.33 487.88,581.08 488.5,578C489.12,574.92 490,573.5 491,571.5C492,569.5 493.17,567.98 494.5,566C495.83,564.02 497.25,561.6 499,559.6C500.75,557.6 502.83,555.67 505,554C507.17,552.33 509.5,550.85 512,549.6C514.5,548.35 517,547.4 520,546.5C523,545.6 526.5,545.03 530,544.2C533.5,543.37 537.83,542.43 541,541.5C544.17,540.57 546.5,539.58 549,538.6C551.5,537.62 553.85,536.82 556,535.6C558.15,534.38 560.33,532.9 561.9,531.3C563.47,529.7 564.62,527.88 565.4,526C566.18,524.12 566.4,522.33 566.6,520C566.8,517.67 566.77,514.5 566.6,512C566.43,509.5 566.37,507.33 565.6,505C564.83,502.67 563.25,500.18 562,498C560.75,495.82 559.5,494.07 558.1,491.9C556.7,489.73 554.85,487.18 553.6,485C552.35,482.82 551.4,481.13 550.6,478.8C549.8,476.47 549.11,473.5 548.8,471C548.49,468.5 548.45,466.3 548.75,463.8C549.05,461.3 549.66,458.5 550.6,456C551.54,453.5 552.83,451.2 554.4,448.8C555.97,446.4 557.82,443.8 560,441.6C562.18,439.4 564.83,437.43 567.5,435.6C570.17,433.77 572.87,432 576,430.6C579.13,429.2 583.13,428.1 586.3,427.2C589.47,426.3 591.88,425.67 595,425.2C598.12,424.73 601.75,424.5 605,424.4Z"/></clipPath><filter id="fBlur" x="-10%" y="-10%" width="120%" height="120%"><feGaussianBlur stdDeviation="2.2"/></filter>
<g mask="url(#mBody)">
<path d="M605,424.4C608.25,424.3 611.37,424.28 614.5,424.6C617.63,424.92 621.05,425.4 623.8,426.3C626.55,427.2 628.82,428.45 631,430C633.18,431.55 634.98,433.43 636.9,435.6C638.82,437.77 640.93,440.5 642.5,443C644.07,445.5 645.42,448.27 646.3,450.6C647.18,452.93 647.5,454.8 647.8,457C648.1,459.2 647.97,461.87 648.1,463.8C648.23,465.73 648.28,467.07 648.6,468.6C648.92,470.13 649.27,471.27 650,473C650.73,474.73 652.07,477.1 653,479C653.93,480.9 655.27,483 655.6,484.4C655.93,485.8 655.47,486.63 655,487.4C654.53,488.17 653.7,488.67 652.8,489C651.9,489.33 650.47,489.13 649.6,489.4C648.73,489.67 647.77,489.97 647.6,490.6C647.43,491.23 648.37,492.37 648.6,493.2C648.83,494.03 649.17,494.8 649,495.6C648.83,496.4 648.05,497.22 647.6,498C647.15,498.78 646.3,499.6 646.3,500.3C646.3,501 647.3,501.58 647.6,502.2C647.9,502.82 648.33,503.27 648.1,504C647.87,504.73 646.82,505.8 646.2,506.6C645.58,507.4 644.62,507.97 644.4,508.8C644.18,509.63 644.9,510.67 644.9,511.6C644.9,512.53 644.88,513.53 644.4,514.4C643.92,515.27 642.93,516.2 642,516.8C641.07,517.4 640.3,517.8 638.8,518C637.3,518.2 634.88,518.13 633,518C631.12,517.87 629.25,517.63 627.5,517.2C625.75,516.77 624.08,515.87 622.5,515.4C620.92,514.93 619.28,514.2 618,514.4C616.72,514.6 615.72,515.67 614.8,516.6C613.88,517.53 612.97,518.77 612.5,520C612.03,521.23 612,522.75 612,524C612,525.25 611.93,526.23 612.5,527.5C613.07,528.77 614.15,530.35 615.4,531.6C616.65,532.85 618.07,533.93 620,535C621.93,536.07 624.5,537.07 627,538C629.5,538.93 631.83,539.83 635,540.6C638.17,541.37 642.25,541.97 646,542.6C649.75,543.23 653.67,543.6 657.5,544.4C661.33,545.2 665.92,546.3 669,547.4C672.08,548.5 674,549.4 676,551C678,552.6 679.5,554.67 681,557C682.5,559.33 683.83,561.83 685,565C686.17,568.17 687,571.83 688,576C689,580.17 689.42,582.83 691,590C692.58,597.17 695.5,611.08 697.5,619C699.5,626.92 701.08,631.5 703,637.5C704.92,643.5 706.83,649.18 709,655C711.17,660.82 713.62,666.67 716,672.4C718.38,678.13 721.13,684.37 723.3,689.4C725.47,694.43 727.08,698.28 729,702.6C730.92,706.92 732.8,710.73 734.8,715.3C736.8,719.87 744.8,725.05 741,730C737.2,734.95 718.53,746.5 712,745C705.47,743.5 705.65,728.83 701.8,721C697.95,713.17 692.27,704.23 688.9,698C685.53,691.77 684,688.38 681.6,683.6C679.2,678.82 677.37,676 674.5,669.3C671.63,662.6 667.08,650.28 664.4,643.4C661.72,636.52 659.87,631.9 658.4,628C656.93,624.1 656.3,622.07 655.6,620C654.9,617.93 654.37,615.27 654.2,615.6C654.03,615.93 654.42,619.6 654.6,622C654.78,624.4 654.95,625.12 655.3,630C655.65,634.88 656.75,645.63 656.7,651.3C656.65,656.97 655.67,660 655,664C654.33,668 653.3,671.97 652.7,675.3C652.1,678.63 651.63,681.33 651.4,684C651.17,686.67 651.1,688.47 651.3,691.3C651.5,694.13 651.93,697.88 652.6,701C653.27,704.12 653.95,705.38 655.3,710C656.65,714.62 659.13,723.37 660.7,728.7C662.27,734.03 663.15,735.95 664.7,742C666.25,748.05 696.12,761.17 670,765C643.88,768.83 534,768.83 508,765C482,761.17 512.12,748.95 514,742C515.88,735.05 517.52,729.52 519.3,723.3C521.08,717.08 523.35,709.58 524.7,704.7C526.05,699.82 526.73,697.57 527.4,694C528.07,690.43 528.5,686.63 528.7,683.3C528.9,679.97 528.83,677.1 528.6,674C528.37,670.9 528.18,669.82 527.3,664.7C526.42,659.58 524.18,649.08 523.3,643.3C522.42,637.52 522.22,633.55 522,630C521.78,626.45 522,624.45 522,622C522,619.55 522.67,614.85 522,615.3C521.33,615.75 519.5,621.08 518,624.7C516.5,628.32 514.78,633 513,637C511.22,641 510.47,642.32 507.3,648.7C504.13,655.08 498.43,666.42 494,675.3C489.57,684.18 484.7,694 480.7,702C476.7,710 473.78,715.63 470,723.3C466.22,730.97 464.33,745.55 458,748C451.67,750.45 434.88,743 432,738C429.12,733 438.37,724 440.7,718C443.03,712 444.12,707 446,702C447.88,697 449.78,692.45 452,688C454.22,683.55 456.97,679.97 459.3,675.3C461.63,670.63 463.77,665.33 466,660C468.23,654.67 470.7,648.8 472.7,643.3C474.7,637.8 476.45,632.33 478,627C479.55,621.67 480.83,615.8 482,611.3C483.17,606.8 484.12,603.55 485,600C485.88,596.45 486.72,593.67 487.3,590C487.88,586.33 487.88,581.08 488.5,578C489.12,574.92 490,573.5 491,571.5C492,569.5 493.17,567.98 494.5,566C495.83,564.02 497.25,561.6 499,559.6C500.75,557.6 502.83,555.67 505,554C507.17,552.33 509.5,550.85 512,549.6C514.5,548.35 517,547.4 520,546.5C523,545.6 526.5,545.03 530,544.2C533.5,543.37 537.83,542.43 541,541.5C544.17,540.57 546.5,539.58 549,538.6C551.5,537.62 553.85,536.82 556,535.6C558.15,534.38 560.33,532.9 561.9,531.3C563.47,529.7 564.62,527.88 565.4,526C566.18,524.12 566.4,522.33 566.6,520C566.8,517.67 566.77,514.5 566.6,512C566.43,509.5 566.37,507.33 565.6,505C564.83,502.67 563.25,500.18 562,498C560.75,495.82 559.5,494.07 558.1,491.9C556.7,489.73 554.85,487.18 553.6,485C552.35,482.82 551.4,481.13 550.6,478.8C549.8,476.47 549.11,473.5 548.8,471C548.49,468.5 548.45,466.3 548.75,463.8C549.05,461.3 549.66,458.5 550.6,456C551.54,453.5 552.83,451.2 554.4,448.8C555.97,446.4 557.82,443.8 560,441.6C562.18,439.4 564.83,437.43 567.5,435.6C570.17,433.77 572.87,432 576,430.6C579.13,429.2 583.13,428.1 586.3,427.2C589.47,426.3 591.88,425.67 595,425.2C598.12,424.73 601.75,424.5 605,424.4Z" fill="#ecd2b6"/>
<g clip-path="url(#cBody)"><path d="M605,424.4C608.25,424.3 611.37,424.28 614.5,424.6C617.63,424.92 621.05,425.4 623.8,426.3C626.55,427.2 628.82,428.45 631,430C633.18,431.55 634.98,433.43 636.9,435.6C638.82,437.77 640.93,440.5 642.5,443C644.07,445.5 645.42,448.27 646.3,450.6C647.18,452.93 647.5,454.8 647.8,457C648.1,459.2 647.97,461.87 648.1,463.8C648.23,465.73 648.28,467.07 648.6,468.6C648.92,470.13 649.27,471.27 650,473C650.73,474.73 652.07,477.1 653,479C653.93,480.9 655.27,483 655.6,484.4C655.93,485.8 655.47,486.63 655,487.4C654.53,488.17 653.7,488.67 652.8,489C651.9,489.33 650.47,489.13 649.6,489.4C648.73,489.67 647.77,489.97 647.6,490.6C647.43,491.23 648.37,492.37 648.6,493.2C648.83,494.03 649.17,494.8 649,495.6C648.83,496.4 648.05,497.22 647.6,498C647.15,498.78 646.3,499.6 646.3,500.3C646.3,501 647.3,501.58 647.6,502.2C647.9,502.82 648.33,503.27 648.1,504C647.87,504.73 646.82,505.8 646.2,506.6C645.58,507.4 644.62,507.97 644.4,508.8C644.18,509.63 644.9,510.67 644.9,511.6C644.9,512.53 644.88,513.53 644.4,514.4C643.92,515.27 642.93,516.2 642,516.8C641.07,517.4 640.3,517.8 638.8,518C637.3,518.2 634.88,518.13 633,518C631.12,517.87 629.25,517.63 627.5,517.2C625.75,516.77 624.08,515.87 622.5,515.4C620.92,514.93 619.28,514.2 618,514.4C616.72,514.6 615.72,515.67 614.8,516.6C613.88,517.53 612.97,518.77 612.5,520C612.03,521.23 612,522.75 612,524C612,525.25 611.93,526.23 612.5,527.5C613.07,528.77 614.15,530.35 615.4,531.6C616.65,532.85 618.07,533.93 620,535C621.93,536.07 624.5,537.07 627,538C629.5,538.93 631.83,539.83 635,540.6C638.17,541.37 642.25,541.97 646,542.6C649.75,543.23 653.67,543.6 657.5,544.4C661.33,545.2 665.92,546.3 669,547.4C672.08,548.5 674,549.4 676,551C678,552.6 679.5,554.67 681,557C682.5,559.33 683.83,561.83 685,565C686.17,568.17 687,571.83 688,576C689,580.17 689.42,582.83 691,590C692.58,597.17 695.5,611.08 697.5,619C699.5,626.92 701.08,631.5 703,637.5C704.92,643.5 706.83,649.18 709,655C711.17,660.82 713.62,666.67 716,672.4C718.38,678.13 721.13,684.37 723.3,689.4C725.47,694.43 727.08,698.28 729,702.6C730.92,706.92 732.8,710.73 734.8,715.3C736.8,719.87 744.8,725.05 741,730C737.2,734.95 718.53,746.5 712,745C705.47,743.5 705.65,728.83 701.8,721C697.95,713.17 692.27,704.23 688.9,698C685.53,691.77 684,688.38 681.6,683.6C679.2,678.82 677.37,676 674.5,669.3C671.63,662.6 667.08,650.28 664.4,643.4C661.72,636.52 659.87,631.9 658.4,628C656.93,624.1 656.3,622.07 655.6,620C654.9,617.93 654.37,615.27 654.2,615.6C654.03,615.93 654.42,619.6 654.6,622C654.78,624.4 654.95,625.12 655.3,630C655.65,634.88 656.75,645.63 656.7,651.3C656.65,656.97 655.67,660 655,664C654.33,668 653.3,671.97 652.7,675.3C652.1,678.63 651.63,681.33 651.4,684C651.17,686.67 651.1,688.47 651.3,691.3C651.5,694.13 651.93,697.88 652.6,701C653.27,704.12 653.95,705.38 655.3,710C656.65,714.62 659.13,723.37 660.7,728.7C662.27,734.03 663.15,735.95 664.7,742C666.25,748.05 696.12,761.17 670,765C643.88,768.83 534,768.83 508,765C482,761.17 512.12,748.95 514,742C515.88,735.05 517.52,729.52 519.3,723.3C521.08,717.08 523.35,709.58 524.7,704.7C526.05,699.82 526.73,697.57 527.4,694C528.07,690.43 528.5,686.63 528.7,683.3C528.9,679.97 528.83,677.1 528.6,674C528.37,670.9 528.18,669.82 527.3,664.7C526.42,659.58 524.18,649.08 523.3,643.3C522.42,637.52 522.22,633.55 522,630C521.78,626.45 522,624.45 522,622C522,619.55 522.67,614.85 522,615.3C521.33,615.75 519.5,621.08 518,624.7C516.5,628.32 514.78,633 513,637C511.22,641 510.47,642.32 507.3,648.7C504.13,655.08 498.43,666.42 494,675.3C489.57,684.18 484.7,694 480.7,702C476.7,710 473.78,715.63 470,723.3C466.22,730.97 464.33,745.55 458,748C451.67,750.45 434.88,743 432,738C429.12,733 438.37,724 440.7,718C443.03,712 444.12,707 446,702C447.88,697 449.78,692.45 452,688C454.22,683.55 456.97,679.97 459.3,675.3C461.63,670.63 463.77,665.33 466,660C468.23,654.67 470.7,648.8 472.7,643.3C474.7,637.8 476.45,632.33 478,627C479.55,621.67 480.83,615.8 482,611.3C483.17,606.8 484.12,603.55 485,600C485.88,596.45 486.72,593.67 487.3,590C487.88,586.33 487.88,581.08 488.5,578C489.12,574.92 490,573.5 491,571.5C492,569.5 493.17,567.98 494.5,566C495.83,564.02 497.25,561.6 499,559.6C500.75,557.6 502.83,555.67 505,554C507.17,552.33 509.5,550.85 512,549.6C514.5,548.35 517,547.4 520,546.5C523,545.6 526.5,545.03 530,544.2C533.5,543.37 537.83,542.43 541,541.5C544.17,540.57 546.5,539.58 549,538.6C551.5,537.62 553.85,536.82 556,535.6C558.15,534.38 560.33,532.9 561.9,531.3C563.47,529.7 564.62,527.88 565.4,526C566.18,524.12 566.4,522.33 566.6,520C566.8,517.67 566.77,514.5 566.6,512C566.43,509.5 566.37,507.33 565.6,505C564.83,502.67 563.25,500.18 562,498C560.75,495.82 559.5,494.07 558.1,491.9C556.7,489.73 554.85,487.18 553.6,485C552.35,482.82 551.4,481.13 550.6,478.8C549.8,476.47 549.11,473.5 548.8,471C548.49,468.5 548.45,466.3 548.75,463.8C549.05,461.3 549.66,458.5 550.6,456C551.54,453.5 552.83,451.2 554.4,448.8C555.97,446.4 557.82,443.8 560,441.6C562.18,439.4 564.83,437.43 567.5,435.6C570.17,433.77 572.87,432 576,430.6C579.13,429.2 583.13,428.1 586.3,427.2C589.47,426.3 591.88,425.67 595,425.2C598.12,424.73 601.75,424.5 605,424.4Z" fill="none" stroke="#d3a680" stroke-opacity="0.55" stroke-width="7" filter="url(#fBlur)"/></g>
<path d="M605,424.4C608.25,424.3 611.37,424.28 614.5,424.6C617.63,424.92 621.05,425.4 623.8,426.3C626.55,427.2 628.82,428.45 631,430C633.18,431.55 634.98,433.43 636.9,435.6C638.82,437.77 640.93,440.5 642.5,443C644.07,445.5 645.42,448.27 646.3,450.6C647.18,452.93 647.5,454.8 647.8,457C648.1,459.2 647.97,461.87 648.1,463.8C648.23,465.73 648.28,467.07 648.6,468.6C648.92,470.13 649.27,471.27 650,473C650.73,474.73 652.07,477.1 653,479C653.93,480.9 655.27,483 655.6,484.4C655.93,485.8 655.47,486.63 655,487.4C654.53,488.17 653.7,488.67 652.8,489C651.9,489.33 650.47,489.13 649.6,489.4C648.73,489.67 647.77,489.97 647.6,490.6C647.43,491.23 648.37,492.37 648.6,493.2C648.83,494.03 649.17,494.8 649,495.6C648.83,496.4 648.05,497.22 647.6,498C647.15,498.78 646.3,499.6 646.3,500.3C646.3,501 647.3,501.58 647.6,502.2C647.9,502.82 648.33,503.27 648.1,504C647.87,504.73 646.82,505.8 646.2,506.6C645.58,507.4 644.62,507.97 644.4,508.8C644.18,509.63 644.9,510.67 644.9,511.6C644.9,512.53 644.88,513.53 644.4,514.4C643.92,515.27 642.93,516.2 642,516.8C641.07,517.4 640.3,517.8 638.8,518C637.3,518.2 634.88,518.13 633,518C631.12,517.87 629.25,517.63 627.5,517.2C625.75,516.77 624.08,515.87 622.5,515.4C620.92,514.93 619.28,514.2 618,514.4C616.72,514.6 615.72,515.67 614.8,516.6C613.88,517.53 612.97,518.77 612.5,520C612.03,521.23 612,522.75 612,524C612,525.25 611.93,526.23 612.5,527.5C613.07,528.77 614.15,530.35 615.4,531.6C616.65,532.85 618.07,533.93 620,535C621.93,536.07 624.5,537.07 627,538C629.5,538.93 631.83,539.83 635,540.6C638.17,541.37 642.25,541.97 646,542.6C649.75,543.23 653.67,543.6 657.5,544.4C661.33,545.2 665.92,546.3 669,547.4C672.08,548.5 674,549.4 676,551C678,552.6 679.5,554.67 681,557C682.5,559.33 683.83,561.83 685,565C686.17,568.17 687,571.83 688,576C689,580.17 689.42,582.83 691,590C692.58,597.17 695.5,611.08 697.5,619C699.5,626.92 701.08,631.5 703,637.5C704.92,643.5 706.83,649.18 709,655C711.17,660.82 713.62,666.67 716,672.4C718.38,678.13 721.13,684.37 723.3,689.4C725.47,694.43 727.08,698.28 729,702.6C730.92,706.92 732.8,710.73 734.8,715.3C736.8,719.87 744.8,725.05 741,730C737.2,734.95 718.53,746.5 712,745C705.47,743.5 705.65,728.83 701.8,721C697.95,713.17 692.27,704.23 688.9,698C685.53,691.77 684,688.38 681.6,683.6C679.2,678.82 677.37,676 674.5,669.3C671.63,662.6 667.08,650.28 664.4,643.4C661.72,636.52 659.87,631.9 658.4,628C656.93,624.1 656.3,622.07 655.6,620C654.9,617.93 654.37,615.27 654.2,615.6C654.03,615.93 654.42,619.6 654.6,622C654.78,624.4 654.95,625.12 655.3,630C655.65,634.88 656.75,645.63 656.7,651.3C656.65,656.97 655.67,660 655,664C654.33,668 653.3,671.97 652.7,675.3C652.1,678.63 651.63,681.33 651.4,684C651.17,686.67 651.1,688.47 651.3,691.3C651.5,694.13 651.93,697.88 652.6,701C653.27,704.12 653.95,705.38 655.3,710C656.65,714.62 659.13,723.37 660.7,728.7C662.27,734.03 663.15,735.95 664.7,742C666.25,748.05 696.12,761.17 670,765C643.88,768.83 534,768.83 508,765C482,761.17 512.12,748.95 514,742C515.88,735.05 517.52,729.52 519.3,723.3C521.08,717.08 523.35,709.58 524.7,704.7C526.05,699.82 526.73,697.57 527.4,694C528.07,690.43 528.5,686.63 528.7,683.3C528.9,679.97 528.83,677.1 528.6,674C528.37,670.9 528.18,669.82 527.3,664.7C526.42,659.58 524.18,649.08 523.3,643.3C522.42,637.52 522.22,633.55 522,630C521.78,626.45 522,624.45 522,622C522,619.55 522.67,614.85 522,615.3C521.33,615.75 519.5,621.08 518,624.7C516.5,628.32 514.78,633 513,637C511.22,641 510.47,642.32 507.3,648.7C504.13,655.08 498.43,666.42 494,675.3C489.57,684.18 484.7,694 480.7,702C476.7,710 473.78,715.63 470,723.3C466.22,730.97 464.33,745.55 458,748C451.67,750.45 434.88,743 432,738C429.12,733 438.37,724 440.7,718C443.03,712 444.12,707 446,702C447.88,697 449.78,692.45 452,688C454.22,683.55 456.97,679.97 459.3,675.3C461.63,670.63 463.77,665.33 466,660C468.23,654.67 470.7,648.8 472.7,643.3C474.7,637.8 476.45,632.33 478,627C479.55,621.67 480.83,615.8 482,611.3C483.17,606.8 484.12,603.55 485,600C485.88,596.45 486.72,593.67 487.3,590C487.88,586.33 487.88,581.08 488.5,578C489.12,574.92 490,573.5 491,571.5C492,569.5 493.17,567.98 494.5,566C495.83,564.02 497.25,561.6 499,559.6C500.75,557.6 502.83,555.67 505,554C507.17,552.33 509.5,550.85 512,549.6C514.5,548.35 517,547.4 520,546.5C523,545.6 526.5,545.03 530,544.2C533.5,543.37 537.83,542.43 541,541.5C544.17,540.57 546.5,539.58 549,538.6C551.5,537.62 553.85,536.82 556,535.6C558.15,534.38 560.33,532.9 561.9,531.3C563.47,529.7 564.62,527.88 565.4,526C566.18,524.12 566.4,522.33 566.6,520C566.8,517.67 566.77,514.5 566.6,512C566.43,509.5 566.37,507.33 565.6,505C564.83,502.67 563.25,500.18 562,498C560.75,495.82 559.5,494.07 558.1,491.9C556.7,489.73 554.85,487.18 553.6,485C552.35,482.82 551.4,481.13 550.6,478.8C549.8,476.47 549.11,473.5 548.8,471C548.49,468.5 548.45,466.3 548.75,463.8C549.05,461.3 549.66,458.5 550.6,456C551.54,453.5 552.83,451.2 554.4,448.8C555.97,446.4 557.82,443.8 560,441.6C562.18,439.4 564.83,437.43 567.5,435.6C570.17,433.77 572.87,432 576,430.6C579.13,429.2 583.13,428.1 586.3,427.2C589.47,426.3 591.88,425.67 595,425.2C598.12,424.73 601.75,424.5 605,424.4Z" fill="none" stroke="#d3ab88" stroke-width="1.1" stroke-linejoin="round"/>
<path d="M582,557 C576,553.6 570,552.6 560,552 C548,551.6 535,553 522,556" fill="none" stroke="#dcb999" stroke-width="1.5" stroke-linecap="round"/>
<path d="M594,557 C599,553.6 606,553 615,552.6 C625,552 632,550 637,547.6" fill="none" stroke="#dcb999" stroke-width="1.5" stroke-linecap="round"/>
<path d="M566.6,522 C570,530 573,536 575,540 C577,547 579,553 582,557" fill="none" stroke="#dcb999" stroke-width="1.5" stroke-linecap="round"/>
<path d="M612.5,528 C608,533 604,537 602,540 C600,547 597,553 594,557" fill="none" stroke="#dcb999" stroke-width="1.5" stroke-linecap="round"/>
<path d="M522,615.3 C524,604 528,594 534,586" fill="none" stroke="#dcb999" stroke-width="1.5" stroke-linecap="round"/>
<path d="M654,615.3 C652,604 648,594 642,586" fill="none" stroke="#dcb999" stroke-width="1.5" stroke-linecap="round"/>
<path d="M523,640 C530,634 540,630 552,630" fill="none" stroke="#dcb999" stroke-width="1.5" stroke-linecap="round"/>
<path d="M655,640 C648,634 640,631 630,631" fill="none" stroke="#dcb999" stroke-width="1.5" stroke-linecap="round"/>
<path d="M528.7,683 C532,690 534,700 533,712" fill="none" stroke="#dcb999" stroke-width="1.5" stroke-linecap="round"/>
<path d="M651.3,691 C648,698 646,706 647,716" fill="none" stroke="#dcb999" stroke-width="1.5" stroke-linecap="round"/>
</g>
<path d="M585,478.5 C582.6,473 583,467.6 586.6,465.4 C591,463 596.4,465.6 597.4,471 C598,475 596.4,478.6 594,481.6" fill="#f3dcc3" stroke="#d3ab88" stroke-width="1"/>
<path d="M587.4,474 C586.4,470.6 588,468 591,468 C593.6,468.4 594.6,471 594,474" fill="none" stroke="#d3ab88" stroke-width="0.8"/>
<path d="M635.4,471.6 C638,473.4 641.4,473.4 644.4,471.8" fill="none" stroke="#a08468" stroke-width="0.9"/>
<path d="M636,467.4 C639,465.4 642.6,465.4 645.4,466.8" fill="none" stroke="#b09478" stroke-width="1.1"/>
<path d="M646.3,500.3 C644,500.4 642,500 640.4,499" fill="none" stroke="#d3ab88" stroke-width="0.9"/>
<path d="M649,489.6 C647,488.6 645.8,487 646,485" fill="none" stroke="#d3ab88" stroke-width="0.8"/>
<path d="M599.4,497C598.57,497.67 595.77,499.17 594.4,501C593.03,502.83 591.97,504.83 591.2,508C590.43,511.17 590.13,513.83 589.8,520C589.47,526.17 589.37,535.83 589.2,545C589.03,554.17 588.83,565.83 588.8,575C588.77,584.17 588.8,593.33 589,600C589.2,606.67 589.5,610.33 590,615C590.5,619.67 591.67,625.83 592,628" fill="none" stroke="#c4686e" stroke-width="9.4" stroke-linecap="round"/>
<path d="M599.4,497C598.57,497.67 595.77,499.17 594.4,501C593.03,502.83 591.97,504.83 591.2,508C590.43,511.17 590.13,513.83 589.8,520C589.47,526.17 589.37,535.83 589.2,545C589.03,554.17 588.83,565.83 588.8,575C588.77,584.17 588.8,593.33 589,600C589.2,606.67 589.5,610.33 590,615C590.5,619.67 591.67,625.83 592,628" fill="none" stroke="#db8a88" stroke-width="7.2" stroke-linecap="round"/>
<path d="M599.4,497C598.57,497.67 595.77,499.17 594.4,501C593.03,502.83 591.97,504.83 591.2,508C590.43,511.17 590.13,513.83 589.8,520C589.47,526.17 589.37,535.83 589.2,545C589.03,554.17 588.83,565.83 588.8,575C588.77,584.17 588.8,593.33 589,600C589.2,606.67 589.5,610.33 590,615C590.5,619.67 591.67,625.83 592,628" fill="none" stroke="#e5a09a" stroke-width="2.4" stroke-linecap="round"/>
<g transform="translate(593.6,491) rotate(-12)"><path d="M7.48,0C7.73,1.7 8.34,3.98 8,5.64C7.66,7.3 6.48,9.08 5.44,9.98C4.39,10.87 2.93,10.73 1.72,11.01C0.51,11.3 -0.69,11.98 -1.82,11.69C-2.95,11.4 -4.08,10.32 -5.05,9.27C-6.02,8.22 -7.04,6.94 -7.66,5.4C-8.28,3.85 -8.93,1.68 -8.77,0C-8.6,-1.68 -7.37,-3.31 -6.67,-4.7C-5.96,-6.09 -5.32,-7 -4.53,-8.32C-3.75,-9.64 -3.03,-12.11 -1.97,-12.64C-0.92,-13.17 0.56,-11.96 1.8,-11.51C3.03,-11.07 4.65,-11.13 5.43,-9.97C6.22,-8.82 6.16,-6.25 6.51,-4.58C6.85,-2.92 7.23,-1.7 7.48,0Z" fill="#e3a450" stroke="#cf8c36" stroke-width="0.7"/><g fill="#c98630" opacity="0.75"><circle cx="-5.77" cy="3.02" r="0.43"/><circle cx="6.45" cy="-3.38" r="0.36"/><circle cx="5.24" cy="1.24" r="0.68"/><circle cx="-2.47" cy="3.34" r="0.5"/><circle cx="3.34" cy="0.9" r="0.5"/><circle cx="-3.48" cy="0.13" r="0.43"/><circle cx="0.95" cy="7.02" r="0.45"/><circle cx="6.54" cy="1.3" r="0.54"/><circle cx="-1.95" cy="-3.55" r="0.7"/><circle cx="1.6" cy="-2.83" r="0.47"/><circle cx="-1.08" cy="-8.76" r="0.68"/><circle cx="-5.8" cy="4.52" r="0.58"/><circle cx="-1.82" cy="7.64" r="0.66"/><circle cx="2.91" cy="-6.18" r="0.56"/><circle cx="3.47" cy="1.12" r="0.63"/><circle cx="-2.58" cy="2.25" r="0.54"/><circle cx="-1.72" cy="-8.3" r="0.48"/><circle cx="-4.77" cy="2.82" r="0.62"/><circle cx="-4.49" cy="-0.87" r="0.52"/><circle cx="1.48" cy="0.41" r="0.6"/><circle cx="5.53" cy="-0.86" r="0.49"/><circle cx="2.45" cy="6.57" r="0.69"/><circle cx="0.68" cy="-7.69" r="0.65"/><circle cx="0.58" cy="7.52" r="0.68"/><circle cx="-4.32" cy="-3.36" r="0.44"/><circle cx="-6.74" cy="-3.07" r="0.35"/><circle cx="1.37" cy="-9.35" r="0.66"/><circle cx="-0.39" cy="-9.48" r="0.53"/><circle cx="-4.36" cy="-2.59" r="0.37"/><circle cx="3.73" cy="-5.81" r="0.42"/><circle cx="-5.02" cy="-0.22" r="0.47"/><circle cx="-3.01" cy="6.38" r="0.57"/><circle cx="-3.71" cy="-4.64" r="0.36"/><circle cx="0.39" cy="4.41" r="0.55"/><circle cx="4.14" cy="-7.23" r="0.63"/><circle cx="1.48" cy="-4.88" r="0.64"/><circle cx="-0.97" cy="-2.7" r="0.36"/><circle cx="6.25" cy="0.84" r="0.44"/><circle cx="4.41" cy="5.3" r="0.47"/><circle cx="2.61" cy="1.78" r="0.53"/><circle cx="1.85" cy="4.8" r="0.6"/><circle cx="-3.93" cy="1.68" r="0.52"/><circle cx="4.44" cy="0.97" r="0.5"/><circle cx="0.9" cy="3.22" r="0.66"/><circle cx="-3.29" cy="-0.31" r="0.56"/><circle cx="0.43" cy="-1.39" r="0.36"/><circle cx="3.71" cy="7.12" r="0.41"/><circle cx="-1.67" cy="-8.34" r="0.54"/><circle cx="1.31" cy="10.25" r="0.63"/><circle cx="-3.39" cy="-0.52" r="0.58"/><circle cx="-4.32" cy="4.92" r="0.46"/><circle cx="-1.19" cy="-1.88" r="0.45"/><circle cx="6.62" cy="-1.98" r="0.46"/><circle cx="2.53" cy="-4.57" r="0.68"/><circle cx="-0.18" cy="-6.81" r="0.44"/><circle cx="6.75" cy="0.53" r="0.36"/><circle cx="2.99" cy="-9.39" r="0.55"/><circle cx="3.18" cy="8.67" r="0.69"/><circle cx="-1.47" cy="-7.22" r="0.48"/><circle cx="-1.87" cy="3.93" r="0.59"/><circle cx="-2.9" cy="1.9" r="0.39"/><circle cx="-1.98" cy="-4.96" r="0.52"/><circle cx="-3.07" cy="8.77" r="0.66"/><circle cx="3.21" cy="0.54" r="0.46"/><circle cx="6.36" cy="-0.76" r="0.47"/><circle cx="1.36" cy="8.44" r="0.64"/><circle cx="3.85" cy="-2.56" r="0.66"/><circle cx="-1.93" cy="-6.78" r="0.69"/><circle cx="0.59" cy="8.95" r="0.38"/><circle cx="3.33" cy="8.82" r="0.42"/><circle cx="0.32" cy="-8.17" r="0.64"/><circle cx="-2.84" cy="4.54" r="0.45"/><circle cx="3.77" cy="-6.07" r="0.68"/><circle cx="2.02" cy="-2.53" r="0.54"/><circle cx="1.13" cy="1.27" r="0.38"/><circle cx="4.27" cy="-6.99" r="0.64"/><circle cx="-3.06" cy="6.97" r="0.62"/><circle cx="-3.93" cy="5.53" r="0.43"/><circle cx="3.25" cy="2.68" r="0.66"/><circle cx="-6.38" cy="-4" r="0.51"/><circle cx="-1.09" cy="9.23" r="0.64"/><circle cx="5.89" cy="0.67" r="0.38"/><circle cx="5.09" cy="6.57" r="0.36"/><circle cx="0.47" cy="10.48" r="0.5"/><circle cx="2.21" cy="2.87" r="0.43"/><circle cx="-0.09" cy="-3.38" r="0.67"/><circle cx="-5.13" cy="7.2" r="0.67"/><circle cx="-0.99" cy="5.11" r="0.52"/><circle cx="4.71" cy="5.02" r="0.36"/><circle cx="7.14" cy="0.69" r="0.45"/><circle cx="-3.98" cy="-4.04" r="0.46"/><circle cx="6.36" cy="3.89" r="0.69"/><circle cx="2.36" cy="-0.66" r="0.43"/><circle cx="-5.27" cy="-7.05" r="0.54"/><circle cx="-2.22" cy="-7.95" r="0.44"/><circle cx="-3.86" cy="-1.51" r="0.44"/><circle cx="3.33" cy="2.74" r="0.69"/><circle cx="-5.52" cy="2.74" r="0.58"/><circle cx="4.2" cy="-2.4" r="0.46"/><circle cx="-1.89" cy="5.26" r="0.65"/><circle cx="3.11" cy="-3.6" r="0.47"/><circle cx="-5.28" cy="-2.2" r="0.56"/><circle cx="0.03" cy="1.51" r="0.44"/><circle cx="4.81" cy="3.44" r="0.37"/><circle cx="5.12" cy="3.83" r="0.45"/><circle cx="1.33" cy="-7.16" r="0.65"/><circle cx="2.89" cy="6.16" r="0.63"/><circle cx="6.22" cy="4.79" r="0.41"/><circle cx="1.17" cy="-10.34" r="0.64"/><circle cx="-1" cy="3.13" r="0.53"/><circle cx="3.42" cy="-2.78" r="0.66"/><circle cx="4.33" cy="7.83" r="0.36"/><circle cx="-2.77" cy="9.18" r="0.63"/><circle cx="5.52" cy="-5.33" r="0.61"/><circle cx="-1.13" cy="-4.14" r="0.5"/><circle cx="3.34" cy="7.47" r="0.58"/><circle cx="-0.03" cy="2.68" r="0.69"/><circle cx="1.91" cy="-7.31" r="0.54"/><circle cx="2.89" cy="-5.72" r="0.49"/><circle cx="-1.94" cy="4.55" r="0.36"/><circle cx="-2.82" cy="-5.42" r="0.55"/><circle cx="3.97" cy="2.4" r="0.4"/><circle cx="2.6" cy="3.8" r="0.64"/><circle cx="-3.66" cy="4.01" r="0.56"/><circle cx="0.06" cy="0.91" r="0.54"/><circle cx="-5.81" cy="-0.05" r="0.5"/><circle cx="-2.4" cy="-8.32" r="0.43"/><circle cx="-4.99" cy="0.23" r="0.43"/><circle cx="-4.6" cy="4.14" r="0.67"/><circle cx="3.29" cy="-2.74" r="0.58"/><circle cx="1.84" cy="0.84" r="0.53"/><circle cx="2.07" cy="-2.94" r="0.62"/><circle cx="2.99" cy="-3.95" r="0.59"/><circle cx="2.56" cy="-5.23" r="0.6"/><circle cx="-0.47" cy="-8.11" r="0.65"/><circle cx="5.63" cy="-6.26" r="0.55"/><circle cx="1.61" cy="4.73" r="0.43"/></g></g>
<path d="M598.6,498 C599,491.6 604,488 611,487.6 C619,487.2 628,488 632,491 C635,493.4 635,499 632.4,502.4 C629,506.6 622,507.4 614,507.4 C606,507.4 599,505 598.6,498 Z" fill="#e9a0a2" stroke="#c9727a" stroke-width="0.9"/>
<path d="M601.6,498.4 C602,493.4 606,490.6 612,490.4 C619,490 626,490.6 629.4,493 C632,495 632,499.4 629.4,502 C626.6,504.6 620,504.8 614,504.8 C607,504.8 601.6,503.4 601.6,498.4 Z" fill="#c35a6c"/>
<path d="M602,500 C606,497.6 613,498.6 618,500.6 C622,502.2 626.6,502 629.6,500.6 C628.6,503.6 624,504.8 614,504.8 C607,504.8 602.4,503.6 602,500 Z" fill="#dc8088"/>
<g transform="translate(605.6,510.4) rotate(12)"><path d="M8.43,0C8.58,0.69 8.28,1.67 7.58,2.21C6.88,2.75 5.24,2.91 4.23,3.21C3.22,3.52 2.53,3.77 1.52,4.04C0.51,4.31 -0.74,4.89 -1.83,4.85C-2.92,4.81 -4.12,4.26 -5.01,3.8C-5.89,3.34 -6.75,2.71 -7.13,2.08C-7.5,1.44 -7.27,0.69 -7.25,0C-7.23,-0.69 -7.42,-1.43 -7.02,-2.05C-6.62,-2.66 -5.74,-3.27 -4.86,-3.69C-3.98,-4.11 -2.79,-4.5 -1.72,-4.57C-0.66,-4.64 0.49,-4.29 1.55,-4.12C2.62,-3.94 3.81,-3.9 4.66,-3.54C5.51,-3.17 6.04,-2.53 6.67,-1.94C7.3,-1.36 8.28,-0.69 8.43,0Z" fill="#e3a450" stroke="#cf8c36" stroke-width="0.7"/><g fill="#c98630" opacity="0.75"><circle cx="-1.13" cy="-3.98" r="0.68"/><circle cx="-4.29" cy="-0.74" r="0.44"/><circle cx="1.08" cy="0.15" r="0.51"/><circle cx="-1.72" cy="2.27" r="0.66"/><circle cx="-4.94" cy="-0.49" r="0.43"/><circle cx="3.77" cy="0.34" r="0.4"/><circle cx="-6.67" cy="-0.26" r="0.59"/><circle cx="2.63" cy="3.48" r="0.63"/><circle cx="-0.62" cy="-3.84" r="0.62"/><circle cx="0.98" cy="-2.33" r="0.69"/><circle cx="2.61" cy="-0.39" r="0.61"/><circle cx="-0.99" cy="-2.68" r="0.54"/><circle cx="-6.42" cy="0.24" r="0.53"/><circle cx="1.95" cy="-2.1" r="0.66"/><circle cx="3.67" cy="-1.62" r="0.55"/><circle cx="4.99" cy="-1.65" r="0.52"/><circle cx="0.67" cy="2.27" r="0.59"/><circle cx="3.21" cy="3.33" r="0.44"/><circle cx="3.16" cy="-1.19" r="0.69"/><circle cx="-1.29" cy="-2.77" r="0.53"/><circle cx="-2.98" cy="-2.53" r="0.46"/><circle cx="1.25" cy="2.8" r="0.68"/><circle cx="-1.31" cy="-0.78" r="0.64"/><circle cx="-0.96" cy="-3.81" r="0.42"/><circle cx="-0.05" cy="-0.98" r="0.58"/><circle cx="-0.46" cy="1.91" r="0.66"/><circle cx="3.8" cy="1.81" r="0.65"/><circle cx="0.1" cy="1.86" r="0.66"/><circle cx="-5.01" cy="1.6" r="0.36"/><circle cx="-1.8" cy="1.28" r="0.59"/><circle cx="5.67" cy="1.97" r="0.36"/><circle cx="-0.13" cy="-0.58" r="0.44"/><circle cx="1.03" cy="-1.48" r="0.41"/><circle cx="-1.49" cy="-2.35" r="0.37"/><circle cx="2.6" cy="-0.1" r="0.36"/><circle cx="-2.93" cy="2.64" r="0.61"/><circle cx="2.94" cy="1.53" r="0.36"/><circle cx="-5.55" cy="1.12" r="0.61"/><circle cx="4.75" cy="-2.03" r="0.65"/><circle cx="-1.27" cy="-2.67" r="0.43"/><circle cx="-2" cy="-1.93" r="0.39"/><circle cx="-5.92" cy="1.22" r="0.39"/><circle cx="-3.61" cy="-1.29" r="0.53"/><circle cx="4.05" cy="3.12" r="0.44"/><circle cx="-3.41" cy="-1.62" r="0.36"/><circle cx="-2.34" cy="-0.54" r="0.37"/><circle cx="2.63" cy="0.34" r="0.38"/><circle cx="-3.15" cy="-2.17" r="0.69"/></g></g>
<g transform="translate(618.4,507.8) rotate(4)"><path d="M7.12,0C7.14,0.46 7.34,1 6.92,1.4C6.5,1.81 5.46,2.12 4.59,2.42C3.73,2.72 2.79,3.07 1.73,3.2C0.68,3.33 -0.75,3.37 -1.74,3.21C-2.74,3.05 -3.53,2.57 -4.24,2.24C-4.96,1.91 -5.39,1.6 -6.05,1.23C-6.71,0.85 -8.15,0.42 -8.22,0C-8.28,-0.42 -7.08,-0.92 -6.45,-1.31C-5.82,-1.7 -5.2,-1.98 -4.44,-2.34C-3.68,-2.71 -2.91,-3.37 -1.89,-3.49C-0.87,-3.62 0.51,-3.23 1.68,-3.1C2.85,-2.97 4.27,-2.99 5.12,-2.7C5.98,-2.42 6.48,-1.83 6.81,-1.38C7.14,-0.93 7.1,-0.46 7.12,0Z" fill="#e3a450" stroke="#cf8c36" stroke-width="0.7"/><g fill="#c98630" opacity="0.75"><circle cx="-1.67" cy="-0.84" r="0.57"/><circle cx="3.27" cy="-1.5" r="0.61"/><circle cx="-0.8" cy="-0.63" r="0.62"/><circle cx="-3.09" cy="-0.84" r="0.36"/><circle cx="3.05" cy="-1.45" r="0.6"/><circle cx="4.09" cy="-1.64" r="0.67"/><circle cx="-4.73" cy="1.55" r="0.51"/><circle cx="5.76" cy="-1.04" r="0.38"/><circle cx="2.05" cy="0.99" r="0.69"/><circle cx="-4.87" cy="0.87" r="0.46"/><circle cx="-4.15" cy="-0.08" r="0.47"/><circle cx="-4.4" cy="-1.1" r="0.67"/><circle cx="-2.67" cy="-2.47" r="0.65"/><circle cx="5.47" cy="-0.13" r="0.41"/><circle cx="4.21" cy="-2.12" r="0.67"/><circle cx="-5.13" cy="-1" r="0.42"/><circle cx="2.48" cy="-1.86" r="0.45"/><circle cx="5.7" cy="1.01" r="0.7"/><circle cx="5.08" cy="1.33" r="0.49"/><circle cx="2.12" cy="1.24" r="0.62"/><circle cx="0.98" cy="-0.42" r="0.57"/><circle cx="5.44" cy="0.67" r="0.47"/><circle cx="4.85" cy="-1.9" r="0.53"/><circle cx="3.72" cy="-0.01" r="0.38"/><circle cx="-0.96" cy="-0.29" r="0.42"/><circle cx="-4.38" cy="1.2" r="0.4"/><circle cx="6.01" cy="0.69" r="0.46"/><circle cx="6.12" cy="-0.68" r="0.48"/><circle cx="-4.67" cy="0.5" r="0.58"/><circle cx="-4.13" cy="-1.19" r="0.57"/><circle cx="4.43" cy="-0.73" r="0.5"/><circle cx="-0.6" cy="-1.35" r="0.46"/><circle cx="4.78" cy="-0.28" r="0.54"/><circle cx="4.3" cy="0.13" r="0.55"/></g></g>
<path d="M601,483.6 C606,485 611,487.6 615.6,491.6" fill="none" stroke="#d9953e" stroke-width="1.3"/>
<path d="M590,628C590.5,627.57 593.5,627.17 596,627C598.5,626.83 602,626.83 605,627C608,627.17 611.4,627.4 614,628C616.6,628.6 618.63,629.5 620.6,630.6C622.57,631.7 624.47,632.87 625.8,634.6C627.13,636.33 628.03,638.77 628.6,641C629.17,643.23 629.23,645.67 629.2,648C629.17,650.33 628.93,652.73 628.4,655C627.87,657.27 627.13,659.43 626,661.6C624.87,663.77 623.33,666.17 621.6,668C619.87,669.83 617.87,671.3 615.6,672.6C613.33,673.9 610.6,674.97 608,675.8C605.4,676.63 602.83,677.2 600,677.6C597.17,678 594,678.3 591,678.2C588,678.1 584.73,677.7 582,677C579.27,676.3 576.93,675.23 574.6,674C572.27,672.77 569.77,671.03 568,669.6C566.23,668.17 564.73,666.67 564,665.4C563.27,664.13 563.17,662.83 563.6,662C564.03,661.17 565.03,660.7 566.6,660.4C568.17,660.1 570.43,660.43 573,660.2C575.57,659.97 579,659.6 582,659C585,658.4 588.43,657.93 591,656.6C593.57,655.27 596.13,653.1 597.4,651C598.67,648.9 598.77,646.5 598.6,644C598.43,641.5 597.33,638.4 596.4,636C595.47,633.6 594.07,630.93 593,629.6C591.93,628.27 589.5,628.43 590,628Z" fill="#eba59d" stroke="#cb7672" stroke-width="1"/>
<path d="M622,634 C625.6,641 626,650 623,658 C620,665 613,670.6 604,673" fill="none" stroke="#f3bcb4" stroke-width="2" opacity="0.8"/>
<path d="M566,659 C560,661 556.6,666 556.6,673 C556.6,680 561,686 569,688 L588,688 L588,670 L575,660 Z" fill="#e9a29a" stroke="#cb7672" stroke-width="0.9"/>
<path d="M583,681 C590,683.6 598,683 603,680 C598,680.6 590,680.4 584,679 Z" fill="#faf2ec"/>
<path d="M566.6,670.6C567.52,669.42 569,668.67 570.5,667.9C572,667.13 573.92,666.55 575.6,666C577.28,665.45 578.7,665 580.6,664.6C582.5,664.2 584.93,664 587,663.6C589.07,663.2 590.83,662.67 593,662.2C595.17,661.73 597.75,661.35 600,660.8C602.25,660.25 604.43,659.63 606.5,658.9C608.57,658.17 610.53,657.35 612.4,656.4C614.27,655.45 616.2,654.1 617.7,653.2C619.2,652.3 620.22,651.6 621.4,651C622.58,650.4 623.87,649.5 624.8,649.6C625.73,649.7 626.87,650.7 627,651.6C627.13,652.5 626.27,653.77 625.6,655C624.93,656.23 623.93,657.77 623,659C622.07,660.23 621.4,661.23 620,662.4C618.6,663.57 616.48,664.87 614.6,666C612.72,667.13 610.63,668.27 608.7,669.2C606.77,670.13 604.87,670.87 603,671.6C601.13,672.33 599.4,673.03 597.5,673.6C595.6,674.17 593.42,674.43 591.6,675C589.78,675.57 587.87,676.23 586.6,677C585.33,677.77 584.83,678.77 584,679.6C583.17,680.43 582.77,681.4 581.6,682C580.43,682.6 578.6,683.17 577,683.2C575.4,683.23 573.6,682.83 572,682.2C570.4,681.57 568.57,680.6 567.4,679.4C566.23,678.2 565.13,676.47 565,675C564.87,673.53 565.68,671.78 566.6,670.6Z" fill="#e3ab63" fill-opacity="0.93" stroke="#cf9446" stroke-width="0.8"/>
<g fill="#cd8e3e" opacity="0.7"><circle cx="593.79" cy="665.73" r="0.82"/><circle cx="594.54" cy="664.95" r="0.66"/><circle cx="578.53" cy="671.34" r="0.68"/><circle cx="613.2" cy="653.74" r="0.54"/><circle cx="573.17" cy="676.2" r="0.71"/><circle cx="570.39" cy="678.89" r="0.83"/><circle cx="605.27" cy="661.68" r="0.47"/><circle cx="568.86" cy="675.32" r="0.43"/><circle cx="578.84" cy="668.73" r="0.41"/><circle cx="594.44" cy="664.37" r="0.78"/><circle cx="597.59" cy="664.96" r="0.62"/><circle cx="605.76" cy="660.04" r="0.53"/><circle cx="624.87" cy="657.41" r="0.78"/><circle cx="608.35" cy="657.7" r="0.5"/><circle cx="584.48" cy="664.91" r="0.74"/><circle cx="590.82" cy="669.54" r="0.57"/><circle cx="622.61" cy="656.94" r="0.4"/><circle cx="579.95" cy="674.43" r="0.61"/><circle cx="623.88" cy="652.3" r="0.43"/><circle cx="603.88" cy="663.74" r="0.52"/><circle cx="572.97" cy="671.89" r="0.83"/><circle cx="611.21" cy="654.75" r="0.51"/><circle cx="573.76" cy="669.07" r="0.76"/><circle cx="578.13" cy="671.93" r="0.6"/><circle cx="578.87" cy="673.22" r="0.46"/><circle cx="604.69" cy="657.32" r="0.59"/><circle cx="580.13" cy="668.47" r="0.84"/><circle cx="613.79" cy="655.44" r="0.8"/><circle cx="580.01" cy="669.67" r="0.78"/><circle cx="604.58" cy="657.22" r="0.85"/><circle cx="580.15" cy="668.36" r="0.75"/><circle cx="586.75" cy="666.09" r="0.43"/><circle cx="573.14" cy="674.12" r="0.51"/><circle cx="602.27" cy="660.63" r="0.6"/><circle cx="622.67" cy="653.57" r="0.66"/><circle cx="617.39" cy="652.9" r="0.47"/><circle cx="619.78" cy="657.79" r="0.51"/><circle cx="578.82" cy="673.31" r="0.82"/><circle cx="579.21" cy="675.1" r="0.8"/><circle cx="602.4" cy="661.04" r="0.45"/><circle cx="570.21" cy="678.78" r="0.51"/><circle cx="608.16" cy="657.24" r="0.77"/><circle cx="602" cy="660.02" r="0.48"/><circle cx="609.06" cy="655.15" r="0.5"/><circle cx="599.88" cy="666" r="0.68"/><circle cx="583.97" cy="672.91" r="0.49"/><circle cx="568.94" cy="672.9" r="0.6"/><circle cx="571.45" cy="671.06" r="0.57"/><circle cx="600.61" cy="659.08" r="0.56"/><circle cx="618.78" cy="659.69" r="0.7"/><circle cx="607.4" cy="660.56" r="0.46"/><circle cx="570" cy="670.17" r="0.81"/><circle cx="607.96" cy="663.82" r="0.41"/><circle cx="604.26" cy="660.86" r="0.73"/><circle cx="586.18" cy="672.79" r="0.43"/><circle cx="599.13" cy="665.24" r="0.81"/><circle cx="610.01" cy="660.62" r="0.76"/><circle cx="620.16" cy="653.36" r="0.71"/><circle cx="619.35" cy="658.46" r="0.59"/><circle cx="613.06" cy="660.88" r="0.66"/><circle cx="603.62" cy="660.19" r="0.66"/><circle cx="602.71" cy="657.78" r="0.69"/><circle cx="624.62" cy="656.45" r="0.73"/><circle cx="590.14" cy="668.78" r="0.66"/><circle cx="593.11" cy="668.56" r="0.44"/><circle cx="610.76" cy="654.12" r="0.67"/><circle cx="595.41" cy="662.05" r="0.71"/><circle cx="596.34" cy="665.22" r="0.81"/><circle cx="582.58" cy="665.12" r="0.54"/><circle cx="606.65" cy="657.34" r="0.48"/><circle cx="619.63" cy="656.4" r="0.6"/><circle cx="618.83" cy="653.66" r="0.7"/><circle cx="579.31" cy="670.28" r="0.76"/><circle cx="620.11" cy="658.24" r="0.57"/><circle cx="601.24" cy="660.53" r="0.46"/><circle cx="596.3" cy="667.28" r="0.78"/><circle cx="608.54" cy="663.47" r="0.52"/><circle cx="577.64" cy="671.12" r="0.52"/><circle cx="580.2" cy="669.77" r="0.68"/><circle cx="596.15" cy="662.54" r="0.78"/><circle cx="623.98" cy="652.77" r="0.43"/><circle cx="569.79" cy="678.12" r="0.42"/><circle cx="608.39" cy="660.03" r="0.54"/><circle cx="613.12" cy="653.09" r="0.46"/><circle cx="593.93" cy="660.75" r="0.77"/><circle cx="581.53" cy="666.73" r="0.42"/><circle cx="603.86" cy="660.69" r="0.68"/><circle cx="605.34" cy="663.42" r="0.83"/><circle cx="607.02" cy="657.16" r="0.61"/><circle cx="578.19" cy="666.86" r="0.61"/><circle cx="608.71" cy="656.31" r="0.52"/><circle cx="587.71" cy="669.4" r="0.63"/><circle cx="603.02" cy="663.87" r="0.58"/><circle cx="613.14" cy="661.24" r="0.44"/><circle cx="621.16" cy="656.37" r="0.46"/><circle cx="593.85" cy="666.31" r="0.81"/><circle cx="589.48" cy="667.52" r="0.8"/><circle cx="613.42" cy="661.48" r="0.61"/><circle cx="605.13" cy="657.97" r="0.72"/><circle cx="614.65" cy="658.21" r="0.72"/><circle cx="580.16" cy="674.26" r="0.84"/><circle cx="623.71" cy="653.65" r="0.76"/><circle cx="586.26" cy="671.93" r="0.79"/><circle cx="587.86" cy="663.69" r="0.6"/><circle cx="599.37" cy="665.43" r="0.62"/><circle cx="569.62" cy="677.6" r="0.43"/><circle cx="613.59" cy="654.31" r="0.55"/><circle cx="612.91" cy="654.29" r="0.47"/><circle cx="597.44" cy="665.78" r="0.78"/><circle cx="607.29" cy="663.92" r="0.62"/><circle cx="622.1" cy="650.14" r="0.5"/><circle cx="598.02" cy="661.57" r="0.73"/><circle cx="604.42" cy="661.17" r="0.78"/><circle cx="599.92" cy="661.01" r="0.57"/><circle cx="616.18" cy="659.98" r="0.49"/><circle cx="616.49" cy="660.48" r="0.64"/><circle cx="600.66" cy="659.7" r="0.64"/><circle cx="596.68" cy="665" r="0.41"/><circle cx="623.26" cy="653.64" r="0.58"/><circle cx="613.66" cy="657.87" r="0.62"/><circle cx="607.39" cy="655.79" r="0.64"/><circle cx="591.59" cy="670.25" r="0.82"/><circle cx="583.35" cy="669.07" r="0.46"/><circle cx="592.72" cy="668.5" r="0.81"/><circle cx="595.16" cy="662.95" r="0.49"/><circle cx="603.22" cy="665.35" r="0.46"/><circle cx="612.42" cy="653.4" r="0.49"/><circle cx="580.95" cy="671.98" r="0.54"/><circle cx="588.25" cy="668.47" r="0.45"/><circle cx="609.66" cy="655.41" r="0.63"/><circle cx="582.28" cy="666.96" r="0.64"/><circle cx="592.9" cy="664.39" r="0.59"/><circle cx="598.17" cy="660.31" r="0.49"/><circle cx="603.98" cy="662.41" r="0.64"/><circle cx="616.52" cy="657.19" r="0.79"/><circle cx="581.26" cy="672.36" r="0.76"/><circle cx="619.45" cy="653.31" r="0.54"/><circle cx="620.6" cy="651.95" r="0.85"/><circle cx="618.59" cy="651.97" r="0.51"/><circle cx="609.41" cy="656.77" r="0.44"/><circle cx="615.43" cy="655.87" r="0.76"/><circle cx="575.18" cy="671.66" r="0.71"/><circle cx="569.01" cy="672.25" r="0.71"/><circle cx="619.95" cy="659.11" r="0.45"/><circle cx="596.82" cy="666.35" r="0.63"/><circle cx="607.08" cy="657.04" r="0.43"/><circle cx="574.05" cy="668.74" r="0.65"/><circle cx="597.34" cy="664.4" r="0.47"/><circle cx="578.52" cy="668.51" r="0.78"/><circle cx="624.45" cy="656.95" r="0.44"/><circle cx="571.53" cy="678.15" r="0.61"/><circle cx="611.59" cy="656.52" r="0.61"/><circle cx="597.37" cy="663.11" r="0.67"/><circle cx="568.76" cy="676.95" r="0.78"/><circle cx="578.33" cy="670.88" r="0.73"/><circle cx="591.1" cy="663.44" r="0.47"/><circle cx="597.22" cy="659.36" r="0.8"/><circle cx="613.7" cy="659.16" r="0.79"/><circle cx="603.88" cy="660.3" r="0.67"/><circle cx="596.74" cy="668.44" r="0.76"/><circle cx="582.72" cy="673.35" r="0.73"/><circle cx="612.35" cy="660.71" r="0.58"/><circle cx="619.1" cy="658.63" r="0.71"/><circle cx="611.73" cy="660.5" r="0.58"/><circle cx="609.19" cy="655.12" r="0.55"/><circle cx="594.72" cy="660.3" r="0.56"/><circle cx="604.41" cy="662.11" r="0.5"/><circle cx="621.85" cy="655.58" r="0.55"/><circle cx="605.61" cy="661.13" r="0.64"/><circle cx="590.21" cy="671.19" r="0.69"/></g>
<path d="M570,676.6 C580,673 592,669 604,664 C612,660.6 619,656.4 624.6,651.6 M586,671 C588,668 591,667 594,667.6 M600,666 C602,662.6 605,661.4 608,661.6 M578,674 C579,677 581,678.6 584,678.4" fill="none" stroke="#c98838" stroke-width="0.8"/>
<path d="M569.6,669 C571,673 571,677 569.6,681" fill="none" stroke="#6fae5c" stroke-width="1.2"/>
<clipPath id="cLiv"><path d="M542.4,630.8C543.47,629.4 544.32,628.43 546,627.6C547.68,626.77 549.67,626.27 552.5,625.8C555.33,625.33 559.25,625.02 563,624.8C566.75,624.58 571.17,624.47 575,624.5C578.83,624.53 583.38,624.68 586,625C588.62,625.32 589.37,626.27 590.7,626.4C592.03,626.53 592.87,625.87 594,625.8C595.13,625.73 595.17,625.93 597.5,626C599.83,626.07 604.25,626.07 608,626.2C611.75,626.33 616.5,626.53 620,626.8C623.5,627.07 626.53,627.4 629,627.8C631.47,628.2 634.03,628.43 634.8,629.2C635.57,629.97 634.23,631.43 633.6,632.4C632.97,633.37 632.1,633.83 631,635C629.9,636.17 628.5,637.97 627,639.4C625.5,640.83 623.73,642.17 622,643.6C620.27,645.03 618.43,646.6 616.6,648C614.77,649.4 612.83,650.8 611,652C609.17,653.2 607.43,654.25 605.6,655.2C603.77,656.15 601.77,657 600,657.7C598.23,658.4 596.55,659.02 595,659.4C593.45,659.78 592.53,659.97 590.7,660C588.87,660.03 586.28,659.73 584,659.6C581.72,659.47 579.33,659.07 577,659.2C574.67,659.33 572.17,659.7 570,660.4C567.83,661.1 565.9,662.23 564,663.4C562.1,664.57 560.43,665.97 558.6,667.4C556.77,668.83 554.93,670.33 553,672C551.07,673.67 548.93,675.9 547,677.4C545.07,678.9 542.57,681.23 541.4,681C540.23,680.77 540.47,678.17 540,676C539.53,673.83 538.93,670.67 538.6,668C538.27,665.33 538.13,662.83 538,660C537.87,657.17 537.8,653.83 537.8,651C537.8,648.17 537.7,645.5 538,643C538.3,640.5 538.87,638.03 539.6,636C540.33,633.97 541.33,632.2 542.4,630.8Z"/></clipPath>
<path d="M542.4,630.8C543.47,629.4 544.32,628.43 546,627.6C547.68,626.77 549.67,626.27 552.5,625.8C555.33,625.33 559.25,625.02 563,624.8C566.75,624.58 571.17,624.47 575,624.5C578.83,624.53 583.38,624.68 586,625C588.62,625.32 589.37,626.27 590.7,626.4C592.03,626.53 592.87,625.87 594,625.8C595.13,625.73 595.17,625.93 597.5,626C599.83,626.07 604.25,626.07 608,626.2C611.75,626.33 616.5,626.53 620,626.8C623.5,627.07 626.53,627.4 629,627.8C631.47,628.2 634.03,628.43 634.8,629.2C635.57,629.97 634.23,631.43 633.6,632.4C632.97,633.37 632.1,633.83 631,635C629.9,636.17 628.5,637.97 627,639.4C625.5,640.83 623.73,642.17 622,643.6C620.27,645.03 618.43,646.6 616.6,648C614.77,649.4 612.83,650.8 611,652C609.17,653.2 607.43,654.25 605.6,655.2C603.77,656.15 601.77,657 600,657.7C598.23,658.4 596.55,659.02 595,659.4C593.45,659.78 592.53,659.97 590.7,660C588.87,660.03 586.28,659.73 584,659.6C581.72,659.47 579.33,659.07 577,659.2C574.67,659.33 572.17,659.7 570,660.4C567.83,661.1 565.9,662.23 564,663.4C562.1,664.57 560.43,665.97 558.6,667.4C556.77,668.83 554.93,670.33 553,672C551.07,673.67 548.93,675.9 547,677.4C545.07,678.9 542.57,681.23 541.4,681C540.23,680.77 540.47,678.17 540,676C539.53,673.83 538.93,670.67 538.6,668C538.27,665.33 538.13,662.83 538,660C537.87,657.17 537.8,653.83 537.8,651C537.8,648.17 537.7,645.5 538,643C538.3,640.5 538.87,638.03 539.6,636C540.33,633.97 541.33,632.2 542.4,630.8Z" fill="#8a4e45"/>
<g clip-path="url(#cLiv)"><path d="M538,684 L538,668 C546,660 556,655 568,651 C580,647 590,640 596,630 L600,660 L560,690 Z" fill="#6c3a33"/><path d="M590.7,620 C589,632 590,646 594,662 L640,662 L640,618 Z" fill="#a0665e"/><path d="M593,628 C600,633 606,640 607,649 C603,654 598,658 592,661 C590.6,650 590.6,638 593,628 Z" fill="#7a433b" opacity="0.85"/><path d="M598,628 C608,630 618,631 630,629.6" fill="none" stroke="#8a4e45" stroke-width="4" opacity="0.55"/></g>
<path d="M542.4,630.8C543.47,629.4 544.32,628.43 546,627.6C547.68,626.77 549.67,626.27 552.5,625.8C555.33,625.33 559.25,625.02 563,624.8C566.75,624.58 571.17,624.47 575,624.5C578.83,624.53 583.38,624.68 586,625C588.62,625.32 589.37,626.27 590.7,626.4C592.03,626.53 592.87,625.87 594,625.8C595.13,625.73 595.17,625.93 597.5,626C599.83,626.07 604.25,626.07 608,626.2C611.75,626.33 616.5,626.53 620,626.8C623.5,627.07 626.53,627.4 629,627.8C631.47,628.2 634.03,628.43 634.8,629.2C635.57,629.97 634.23,631.43 633.6,632.4C632.97,633.37 632.1,633.83 631,635C629.9,636.17 628.5,637.97 627,639.4C625.5,640.83 623.73,642.17 622,643.6C620.27,645.03 618.43,646.6 616.6,648C614.77,649.4 612.83,650.8 611,652C609.17,653.2 607.43,654.25 605.6,655.2C603.77,656.15 601.77,657 600,657.7C598.23,658.4 596.55,659.02 595,659.4C593.45,659.78 592.53,659.97 590.7,660C588.87,660.03 586.28,659.73 584,659.6C581.72,659.47 579.33,659.07 577,659.2C574.67,659.33 572.17,659.7 570,660.4C567.83,661.1 565.9,662.23 564,663.4C562.1,664.57 560.43,665.97 558.6,667.4C556.77,668.83 554.93,670.33 553,672C551.07,673.67 548.93,675.9 547,677.4C545.07,678.9 542.57,681.23 541.4,681C540.23,680.77 540.47,678.17 540,676C539.53,673.83 538.93,670.67 538.6,668C538.27,665.33 538.13,662.83 538,660C537.87,657.17 537.8,653.83 537.8,651C537.8,648.17 537.7,645.5 538,643C538.3,640.5 538.87,638.03 539.6,636C540.33,633.97 541.33,632.2 542.4,630.8Z" fill="none" stroke="#6a3830" stroke-width="0.9"/>
<path d="M590.7,626.4 C589.6,633 589.4,640 590.4,648" fill="none" stroke="#c8a48a" stroke-width="0.9" opacity="0.85"/>
<path d="M566.4,660 C566,654 565.6,650 566.6,647.6 C572,645 580,644.6 586,642.6 C590,640.6 593,636.4 597,633 M586,642.6 C590,645 594,647 597.6,649.6" fill="none" stroke="#4a8a4c" stroke-width="1.0" opacity="0.85"/>
<path d="M566,648 C561,646 556,646.4 551,648.6 C548,650 545.6,653 544.4,656.6 M558,646.4 C557.6,640 556,636 553,632 M551,648.6 C548,648 546,648.4 543.6,649.6 M557.4,640 C554,638 551,637 548,637.4" fill="none" stroke="#74894e" stroke-width="0.7" opacity="0.75"/>
<path d="M563.6,654 C562.6,657 560.6,658.6 557.6,660 C553,662.4 549.6,665.6 548.2,669.6 C547.2,672.6 549,674.6 552,674.4 C556.4,674 560,671 562,667 C564,663 564.6,658.6 565.6,655 C566,653.4 564.4,652.6 563.6,654 Z" fill="#2f9f4c" stroke="#1f7c3a" stroke-width="0.8"/>
<path d="M549,686 C560,688 580,696 600,694 C615,691 628,681 637,673 C640,700 638,735 629,746 C615,753 575,754 561,749 C551,738 548,710 549,686 Z" fill="#d98f86"/>
<path d="M596.5,714.32C596.46,713.72 595.93,711.79 596.28,710.72C596.64,709.65 597.61,708.47 598.62,707.9C599.63,707.32 601.18,707.06 602.33,707.27C603.49,707.48 604.83,708.27 605.54,709.16C606.26,710.05 606.71,711.49 606.63,712.61C606.54,713.73 605.3,715.33 605.04,715.88" fill="none" stroke="#be726e" stroke-width="9.6" stroke-linecap="round"/><path d="M596.5,714.32C596.46,713.72 595.93,711.79 596.28,710.72C596.64,709.65 597.61,708.47 598.62,707.9C599.63,707.32 601.18,707.06 602.33,707.27C603.49,707.48 604.83,708.27 605.54,709.16C606.26,710.05 606.71,711.49 606.63,712.61C606.54,713.73 605.3,715.33 605.04,715.88" fill="none" stroke="#e3a090" stroke-width="7.9" stroke-linecap="round"/><path d="M596.5,714.32C596.46,713.72 595.93,711.79 596.28,710.72C596.64,709.65 597.61,708.47 598.62,707.9C599.63,707.32 601.18,707.06 602.33,707.27C603.49,707.48 604.83,708.27 605.54,709.16C606.26,710.05 606.71,711.49 606.63,712.61C606.54,713.73 605.3,715.33 605.04,715.88" fill="none" stroke="#efbcae" stroke-width="1.8" stroke-linecap="round" opacity="0.55"/>
<path d="M610.39,737.06C610.13,736.69 609.19,735.67 608.88,734.85C608.56,734.04 608.42,733.04 608.5,732.17C608.58,731.29 608.89,730.34 609.34,729.6C609.79,728.86 610.48,728.16 611.21,727.72C611.94,727.28 612.86,727 613.69,726.96C614.53,726.92 615.81,727.4 616.23,727.48" fill="none" stroke="#be726e" stroke-width="9.6" stroke-linecap="round"/><path d="M610.39,737.06C610.13,736.69 609.19,735.67 608.88,734.85C608.56,734.04 608.42,733.04 608.5,732.17C608.58,731.29 608.89,730.34 609.34,729.6C609.79,728.86 610.48,728.16 611.21,727.72C611.94,727.28 612.86,727 613.69,726.96C614.53,726.92 615.81,727.4 616.23,727.48" fill="none" stroke="#e3a090" stroke-width="7.9" stroke-linecap="round"/><path d="M610.39,737.06C610.13,736.69 609.19,735.67 608.88,734.85C608.56,734.04 608.42,733.04 608.5,732.17C608.58,731.29 608.89,730.34 609.34,729.6C609.79,728.86 610.48,728.16 611.21,727.72C611.94,727.28 612.86,727 613.69,726.96C614.53,726.92 615.81,727.4 616.23,727.48" fill="none" stroke="#efbcae" stroke-width="1.8" stroke-linecap="round" opacity="0.55"/>
<path d="M594.82,736.72C594.36,737.12 593.13,738.69 592.1,739.11C591.06,739.52 589.68,739.58 588.62,739.23C587.56,738.89 586.42,738.02 585.76,737.06C585.1,736.09 584.65,734.65 584.65,733.44C584.64,732.23 585.07,730.77 585.72,729.8C586.37,728.82 588.08,727.95 588.55,727.58" fill="none" stroke="#be726e" stroke-width="9.6" stroke-linecap="round"/><path d="M594.82,736.72C594.36,737.12 593.13,738.69 592.1,739.11C591.06,739.52 589.68,739.58 588.62,739.23C587.56,738.89 586.42,738.02 585.76,737.06C585.1,736.09 584.65,734.65 584.65,733.44C584.64,732.23 585.07,730.77 585.72,729.8C586.37,728.82 588.08,727.95 588.55,727.58" fill="none" stroke="#e3a090" stroke-width="7.9" stroke-linecap="round"/><path d="M594.82,736.72C594.36,737.12 593.13,738.69 592.1,739.11C591.06,739.52 589.68,739.58 588.62,739.23C587.56,738.89 586.42,738.02 585.76,737.06C585.1,736.09 584.65,734.65 584.65,733.44C584.64,732.23 585.07,730.77 585.72,729.8C586.37,728.82 588.08,727.95 588.55,727.58" fill="none" stroke="#efbcae" stroke-width="1.8" stroke-linecap="round" opacity="0.55"/>
<path d="M579.85,697.03C580.38,696.79 581.92,695.72 583.03,695.59C584.14,695.46 585.53,695.72 586.5,696.25C587.47,696.78 588.4,697.78 588.83,698.75C589.26,699.73 589.37,701.06 589.08,702.08C588.8,703.1 588.03,704.22 587.15,704.87C586.27,705.52 584.37,705.8 583.82,705.99" fill="none" stroke="#be726e" stroke-width="9.6" stroke-linecap="round"/><path d="M579.85,697.03C580.38,696.79 581.92,695.72 583.03,695.59C584.14,695.46 585.53,695.72 586.5,696.25C587.47,696.78 588.4,697.78 588.83,698.75C589.26,699.73 589.37,701.06 589.08,702.08C588.8,703.1 588.03,704.22 587.15,704.87C586.27,705.52 584.37,705.8 583.82,705.99" fill="none" stroke="#e3a090" stroke-width="7.9" stroke-linecap="round"/><path d="M579.85,697.03C580.38,696.79 581.92,695.72 583.03,695.59C584.14,695.46 585.53,695.72 586.5,696.25C587.47,696.78 588.4,697.78 588.83,698.75C589.26,699.73 589.37,701.06 589.08,702.08C588.8,703.1 588.03,704.22 587.15,704.87C586.27,705.52 584.37,705.8 583.82,705.99" fill="none" stroke="#efbcae" stroke-width="1.8" stroke-linecap="round" opacity="0.55"/>
<path d="M575.41,728.28C575.88,728.3 577.35,728.13 578.24,728.41C579.12,728.7 580.04,729.27 580.72,729.98C581.41,730.69 582.01,731.68 582.36,732.67C582.7,733.66 582.86,734.86 582.8,735.92C582.73,736.99 582.42,738.14 581.96,739.06C581.49,739.98 580.34,741.05 580.01,741.45" fill="none" stroke="#be726e" stroke-width="9.6" stroke-linecap="round"/><path d="M575.41,728.28C575.88,728.3 577.35,728.13 578.24,728.41C579.12,728.7 580.04,729.27 580.72,729.98C581.41,730.69 582.01,731.68 582.36,732.67C582.7,733.66 582.86,734.86 582.8,735.92C582.73,736.99 582.42,738.14 581.96,739.06C581.49,739.98 580.34,741.05 580.01,741.45" fill="none" stroke="#e3a090" stroke-width="7.9" stroke-linecap="round"/><path d="M575.41,728.28C575.88,728.3 577.35,728.13 578.24,728.41C579.12,728.7 580.04,729.27 580.72,729.98C581.41,730.69 582.01,731.68 582.36,732.67C582.7,733.66 582.86,734.86 582.8,735.92C582.73,736.99 582.42,738.14 581.96,739.06C581.49,739.98 580.34,741.05 580.01,741.45" fill="none" stroke="#efbcae" stroke-width="1.8" stroke-linecap="round" opacity="0.55"/>
<path d="M632.51,689.92C632.21,690.35 631.55,691.89 630.69,692.5C629.83,693.12 628.48,693.58 627.34,693.63C626.2,693.69 624.79,693.37 623.84,692.84C622.9,692.31 622.02,691.35 621.66,690.46C621.3,689.56 621.31,688.36 621.69,687.47C622.07,686.58 623.55,685.51 623.92,685.12" fill="none" stroke="#be726e" stroke-width="9.6" stroke-linecap="round"/><path d="M632.51,689.92C632.21,690.35 631.55,691.89 630.69,692.5C629.83,693.12 628.48,693.58 627.34,693.63C626.2,693.69 624.79,693.37 623.84,692.84C622.9,692.31 622.02,691.35 621.66,690.46C621.3,689.56 621.31,688.36 621.69,687.47C622.07,686.58 623.55,685.51 623.92,685.12" fill="none" stroke="#e3a090" stroke-width="7.9" stroke-linecap="round"/><path d="M632.51,689.92C632.21,690.35 631.55,691.89 630.69,692.5C629.83,693.12 628.48,693.58 627.34,693.63C626.2,693.69 624.79,693.37 623.84,692.84C622.9,692.31 622.02,691.35 621.66,690.46C621.3,689.56 621.31,688.36 621.69,687.47C622.07,686.58 623.55,685.51 623.92,685.12" fill="none" stroke="#efbcae" stroke-width="1.8" stroke-linecap="round" opacity="0.55"/>
<path d="M593.28,717.7C593.8,717.48 595.33,716.57 596.41,716.41C597.5,716.25 598.74,716.36 599.78,716.73C600.81,717.09 601.86,717.78 602.62,718.59C603.38,719.39 604,720.5 604.31,721.57C604.62,722.64 604.67,723.91 604.47,725.01C604.26,726.1 603.29,727.62 603.06,728.14" fill="none" stroke="#be726e" stroke-width="9.6" stroke-linecap="round"/><path d="M593.28,717.7C593.8,717.48 595.33,716.57 596.41,716.41C597.5,716.25 598.74,716.36 599.78,716.73C600.81,717.09 601.86,717.78 602.62,718.59C603.38,719.39 604,720.5 604.31,721.57C604.62,722.64 604.67,723.91 604.47,725.01C604.26,726.1 603.29,727.62 603.06,728.14" fill="none" stroke="#e3a090" stroke-width="7.9" stroke-linecap="round"/><path d="M593.28,717.7C593.8,717.48 595.33,716.57 596.41,716.41C597.5,716.25 598.74,716.36 599.78,716.73C600.81,717.09 601.86,717.78 602.62,718.59C603.38,719.39 604,720.5 604.31,721.57C604.62,722.64 604.67,723.91 604.47,725.01C604.26,726.1 603.29,727.62 603.06,728.14" fill="none" stroke="#efbcae" stroke-width="1.8" stroke-linecap="round" opacity="0.55"/>
<path d="M612.02,693.97C612.41,694.28 613.75,695.01 614.34,695.82C614.93,696.63 615.38,697.77 615.54,698.82C615.7,699.88 615.61,701.13 615.3,702.14C614.99,703.14 614.37,704.17 613.67,704.84C612.97,705.52 612,706.03 611.12,706.18C610.23,706.34 608.81,705.86 608.34,705.79" fill="none" stroke="#be726e" stroke-width="9.6" stroke-linecap="round"/><path d="M612.02,693.97C612.41,694.28 613.75,695.01 614.34,695.82C614.93,696.63 615.38,697.77 615.54,698.82C615.7,699.88 615.61,701.13 615.3,702.14C614.99,703.14 614.37,704.17 613.67,704.84C612.97,705.52 612,706.03 611.12,706.18C610.23,706.34 608.81,705.86 608.34,705.79" fill="none" stroke="#e3a090" stroke-width="7.9" stroke-linecap="round"/><path d="M612.02,693.97C612.41,694.28 613.75,695.01 614.34,695.82C614.93,696.63 615.38,697.77 615.54,698.82C615.7,699.88 615.61,701.13 615.3,702.14C614.99,703.14 614.37,704.17 613.67,704.84C612.97,705.52 612,706.03 611.12,706.18C610.23,706.34 608.81,705.86 608.34,705.79" fill="none" stroke="#efbcae" stroke-width="1.8" stroke-linecap="round" opacity="0.55"/>
<path d="M609.4,707.51C609.72,707.11 610.53,705.75 611.34,705.14C612.16,704.52 613.24,704.04 614.27,703.83C615.3,703.62 616.5,703.63 617.52,703.87C618.55,704.11 619.61,704.62 620.4,705.26C621.19,705.89 621.88,706.79 622.27,707.68C622.66,708.57 622.64,710.12 622.71,710.61" fill="none" stroke="#be726e" stroke-width="9.6" stroke-linecap="round"/><path d="M609.4,707.51C609.72,707.11 610.53,705.75 611.34,705.14C612.16,704.52 613.24,704.04 614.27,703.83C615.3,703.62 616.5,703.63 617.52,703.87C618.55,704.11 619.61,704.62 620.4,705.26C621.19,705.89 621.88,706.79 622.27,707.68C622.66,708.57 622.64,710.12 622.71,710.61" fill="none" stroke="#e3a090" stroke-width="7.9" stroke-linecap="round"/><path d="M609.4,707.51C609.72,707.11 610.53,705.75 611.34,705.14C612.16,704.52 613.24,704.04 614.27,703.83C615.3,703.62 616.5,703.63 617.52,703.87C618.55,704.11 619.61,704.62 620.4,705.26C621.19,705.89 621.88,706.79 622.27,707.68C622.66,708.57 622.64,710.12 622.71,710.61" fill="none" stroke="#efbcae" stroke-width="1.8" stroke-linecap="round" opacity="0.55"/>
<path d="M589.95,714.08C589.52,714.17 588.22,714.67 587.37,714.65C586.51,714.62 585.54,714.34 584.83,713.91C584.12,713.49 583.45,712.79 583.08,712.09C582.71,711.39 582.54,710.47 582.62,709.7C582.71,708.93 583.08,708.07 583.59,707.44C584.11,706.82 585.35,706.22 585.71,705.97" fill="none" stroke="#be726e" stroke-width="9.6" stroke-linecap="round"/><path d="M589.95,714.08C589.52,714.17 588.22,714.67 587.37,714.65C586.51,714.62 585.54,714.34 584.83,713.91C584.12,713.49 583.45,712.79 583.08,712.09C582.71,711.39 582.54,710.47 582.62,709.7C582.71,708.93 583.08,708.07 583.59,707.44C584.11,706.82 585.35,706.22 585.71,705.97" fill="none" stroke="#e3a090" stroke-width="7.9" stroke-linecap="round"/><path d="M589.95,714.08C589.52,714.17 588.22,714.67 587.37,714.65C586.51,714.62 585.54,714.34 584.83,713.91C584.12,713.49 583.45,712.79 583.08,712.09C582.71,711.39 582.54,710.47 582.62,709.7C582.71,708.93 583.08,708.07 583.59,707.44C584.11,706.82 585.35,706.22 585.71,705.97" fill="none" stroke="#efbcae" stroke-width="1.8" stroke-linecap="round" opacity="0.55"/>
<path d="M612.34,727.71C611.65,727.89 609.57,728.85 608.2,728.82C606.84,728.79 605.16,728.26 604.14,727.54C603.13,726.82 602.3,725.56 602.13,724.5C601.96,723.43 602.37,722.05 603.13,721.16C603.88,720.26 605.34,719.43 606.66,719.14C607.97,718.84 610.29,719.36 611.01,719.41" fill="none" stroke="#be726e" stroke-width="9.6" stroke-linecap="round"/><path d="M612.34,727.71C611.65,727.89 609.57,728.85 608.2,728.82C606.84,728.79 605.16,728.26 604.14,727.54C603.13,726.82 602.3,725.56 602.13,724.5C601.96,723.43 602.37,722.05 603.13,721.16C603.88,720.26 605.34,719.43 606.66,719.14C607.97,718.84 610.29,719.36 611.01,719.41" fill="none" stroke="#e3a090" stroke-width="7.9" stroke-linecap="round"/><path d="M612.34,727.71C611.65,727.89 609.57,728.85 608.2,728.82C606.84,728.79 605.16,728.26 604.14,727.54C603.13,726.82 602.3,725.56 602.13,724.5C601.96,723.43 602.37,722.05 603.13,721.16C603.88,720.26 605.34,719.43 606.66,719.14C607.97,718.84 610.29,719.36 611.01,719.41" fill="none" stroke="#efbcae" stroke-width="1.8" stroke-linecap="round" opacity="0.55"/>
<path d="M569.74,710.45C570.1,709.88 570.85,707.81 571.92,707.02C573,706.22 574.78,705.67 576.2,705.68C577.63,705.69 579.39,706.29 580.45,707.1C581.5,707.92 582.38,709.36 582.54,710.58C582.71,711.79 582.25,713.37 581.44,714.37C580.63,715.38 578.32,716.23 577.69,716.6" fill="none" stroke="#be726e" stroke-width="9.6" stroke-linecap="round"/><path d="M569.74,710.45C570.1,709.88 570.85,707.81 571.92,707.02C573,706.22 574.78,705.67 576.2,705.68C577.63,705.69 579.39,706.29 580.45,707.1C581.5,707.92 582.38,709.36 582.54,710.58C582.71,711.79 582.25,713.37 581.44,714.37C580.63,715.38 578.32,716.23 577.69,716.6" fill="none" stroke="#e3a090" stroke-width="7.9" stroke-linecap="round"/><path d="M569.74,710.45C570.1,709.88 570.85,707.81 571.92,707.02C573,706.22 574.78,705.67 576.2,705.68C577.63,705.69 579.39,706.29 580.45,707.1C581.5,707.92 582.38,709.36 582.54,710.58C582.71,711.79 582.25,713.37 581.44,714.37C580.63,715.38 578.32,716.23 577.69,716.6" fill="none" stroke="#efbcae" stroke-width="1.8" stroke-linecap="round" opacity="0.55"/>
<path d="M593.54,704.6C592.94,704.39 590.91,703.97 589.97,703.34C589.02,702.71 588.21,701.73 587.88,700.81C587.54,699.89 587.56,698.73 587.94,697.82C588.32,696.91 589.17,695.95 590.14,695.35C591.11,694.74 592.51,694.28 593.76,694.17C595.01,694.05 597,694.58 597.65,694.67" fill="none" stroke="#be726e" stroke-width="9.6" stroke-linecap="round"/><path d="M593.54,704.6C592.94,704.39 590.91,703.97 589.97,703.34C589.02,702.71 588.21,701.73 587.88,700.81C587.54,699.89 587.56,698.73 587.94,697.82C588.32,696.91 589.17,695.95 590.14,695.35C591.11,694.74 592.51,694.28 593.76,694.17C595.01,694.05 597,694.58 597.65,694.67" fill="none" stroke="#e3a090" stroke-width="7.9" stroke-linecap="round"/><path d="M593.54,704.6C592.94,704.39 590.91,703.97 589.97,703.34C589.02,702.71 588.21,701.73 587.88,700.81C587.54,699.89 587.56,698.73 587.94,697.82C588.32,696.91 589.17,695.95 590.14,695.35C591.11,694.74 592.51,694.28 593.76,694.17C595.01,694.05 597,694.58 597.65,694.67" fill="none" stroke="#efbcae" stroke-width="1.8" stroke-linecap="round" opacity="0.55"/>
<path d="M603.87,727.5C604.24,727.91 605.62,728.95 606.11,729.93C606.6,730.92 606.87,732.28 606.8,733.41C606.74,734.55 606.31,735.85 605.71,736.75C605.12,737.65 604.14,738.45 603.22,738.8C602.29,739.16 601.1,739.19 600.16,738.88C599.22,738.57 598.02,737.27 597.59,736.95" fill="none" stroke="#be726e" stroke-width="9.6" stroke-linecap="round"/><path d="M603.87,727.5C604.24,727.91 605.62,728.95 606.11,729.93C606.6,730.92 606.87,732.28 606.8,733.41C606.74,734.55 606.31,735.85 605.71,736.75C605.12,737.65 604.14,738.45 603.22,738.8C602.29,739.16 601.1,739.19 600.16,738.88C599.22,738.57 598.02,737.27 597.59,736.95" fill="none" stroke="#e3a090" stroke-width="7.9" stroke-linecap="round"/><path d="M603.87,727.5C604.24,727.91 605.62,728.95 606.11,729.93C606.6,730.92 606.87,732.28 606.8,733.41C606.74,734.55 606.31,735.85 605.71,736.75C605.12,737.65 604.14,738.45 603.22,738.8C602.29,739.16 601.1,739.19 600.16,738.88C599.22,738.57 598.02,737.27 597.59,736.95" fill="none" stroke="#efbcae" stroke-width="1.8" stroke-linecap="round" opacity="0.55"/>
<path d="M572.54,740.31C572.81,740.69 573.83,741.76 574.14,742.61C574.46,743.45 574.56,744.47 574.43,745.36C574.29,746.24 573.89,747.19 573.34,747.91C572.79,748.64 571.96,749.3 571.12,749.69C570.28,750.08 569.23,750.29 568.3,750.26C567.37,750.23 565.99,749.62 565.52,749.5" fill="none" stroke="#be726e" stroke-width="9.6" stroke-linecap="round"/><path d="M572.54,740.31C572.81,740.69 573.83,741.76 574.14,742.61C574.46,743.45 574.56,744.47 574.43,745.36C574.29,746.24 573.89,747.19 573.34,747.91C572.79,748.64 571.96,749.3 571.12,749.69C570.28,750.08 569.23,750.29 568.3,750.26C567.37,750.23 565.99,749.62 565.52,749.5" fill="none" stroke="#e3a090" stroke-width="7.9" stroke-linecap="round"/><path d="M572.54,740.31C572.81,740.69 573.83,741.76 574.14,742.61C574.46,743.45 574.56,744.47 574.43,745.36C574.29,746.24 573.89,747.19 573.34,747.91C572.79,748.64 571.96,749.3 571.12,749.69C570.28,750.08 569.23,750.29 568.3,750.26C567.37,750.23 565.99,749.62 565.52,749.5" fill="none" stroke="#efbcae" stroke-width="1.8" stroke-linecap="round" opacity="0.55"/>
<path d="M558.18,708.62C558.45,708.19 559.07,706.66 559.78,706.03C560.48,705.4 561.51,704.93 562.41,704.83C563.32,704.73 564.41,704.96 565.21,705.43C566.02,705.89 566.81,706.75 567.25,707.62C567.68,708.5 567.92,709.69 567.84,710.68C567.77,711.68 566.97,713.11 566.8,713.6" fill="none" stroke="#be726e" stroke-width="9.6" stroke-linecap="round"/><path d="M558.18,708.62C558.45,708.19 559.07,706.66 559.78,706.03C560.48,705.4 561.51,704.93 562.41,704.83C563.32,704.73 564.41,704.96 565.21,705.43C566.02,705.89 566.81,706.75 567.25,707.62C567.68,708.5 567.92,709.69 567.84,710.68C567.77,711.68 566.97,713.11 566.8,713.6" fill="none" stroke="#e3a090" stroke-width="7.9" stroke-linecap="round"/><path d="M558.18,708.62C558.45,708.19 559.07,706.66 559.78,706.03C560.48,705.4 561.51,704.93 562.41,704.83C563.32,704.73 564.41,704.96 565.21,705.43C566.02,705.89 566.81,706.75 567.25,707.62C567.68,708.5 567.92,709.69 567.84,710.68C567.77,711.68 566.97,713.11 566.8,713.6" fill="none" stroke="#efbcae" stroke-width="1.8" stroke-linecap="round" opacity="0.55"/>
<path d="M620.19,701.62C619.92,701.28 618.81,700.32 618.53,699.56C618.26,698.8 618.27,697.82 618.56,697.06C618.84,696.3 619.51,695.5 620.25,695.02C621,694.54 622.08,694.21 623.01,694.18C623.94,694.15 625.05,694.41 625.84,694.83C626.62,695.26 627.4,696.43 627.72,696.75" fill="none" stroke="#be726e" stroke-width="9.6" stroke-linecap="round"/><path d="M620.19,701.62C619.92,701.28 618.81,700.32 618.53,699.56C618.26,698.8 618.27,697.82 618.56,697.06C618.84,696.3 619.51,695.5 620.25,695.02C621,694.54 622.08,694.21 623.01,694.18C623.94,694.15 625.05,694.41 625.84,694.83C626.62,695.26 627.4,696.43 627.72,696.75" fill="none" stroke="#e3a090" stroke-width="7.9" stroke-linecap="round"/><path d="M620.19,701.62C619.92,701.28 618.81,700.32 618.53,699.56C618.26,698.8 618.27,697.82 618.56,697.06C618.84,696.3 619.51,695.5 620.25,695.02C621,694.54 622.08,694.21 623.01,694.18C623.94,694.15 625.05,694.41 625.84,694.83C626.62,695.26 627.4,696.43 627.72,696.75" fill="none" stroke="#efbcae" stroke-width="1.8" stroke-linecap="round" opacity="0.55"/>
<path d="M546.66,690.94C547.11,690.48 548.23,688.81 549.36,688.21C550.5,687.62 552.13,687.27 553.47,687.35C554.81,687.43 556.38,687.96 557.4,688.68C558.43,689.4 559.31,690.6 559.62,691.69C559.93,692.78 559.79,694.18 559.27,695.21C558.74,696.24 556.94,697.42 556.48,697.87" fill="none" stroke="#be726e" stroke-width="9.6" stroke-linecap="round"/><path d="M546.66,690.94C547.11,690.48 548.23,688.81 549.36,688.21C550.5,687.62 552.13,687.27 553.47,687.35C554.81,687.43 556.38,687.96 557.4,688.68C558.43,689.4 559.31,690.6 559.62,691.69C559.93,692.78 559.79,694.18 559.27,695.21C558.74,696.24 556.94,697.42 556.48,697.87" fill="none" stroke="#e3a090" stroke-width="7.9" stroke-linecap="round"/><path d="M546.66,690.94C547.11,690.48 548.23,688.81 549.36,688.21C550.5,687.62 552.13,687.27 553.47,687.35C554.81,687.43 556.38,687.96 557.4,688.68C558.43,689.4 559.31,690.6 559.62,691.69C559.93,692.78 559.79,694.18 559.27,695.21C558.74,696.24 556.94,697.42 556.48,697.87" fill="none" stroke="#efbcae" stroke-width="1.8" stroke-linecap="round" opacity="0.55"/>
<path d="M589.17,720.91C589.02,721.55 588.98,723.69 588.26,724.76C587.54,725.83 586.17,726.87 584.85,727.35C583.54,727.82 581.73,727.93 580.35,727.62C578.96,727.31 577.45,726.45 576.56,725.47C575.67,724.5 575.06,723.02 575.03,721.77C575,720.53 576.16,718.65 576.38,718.02" fill="none" stroke="#be726e" stroke-width="9.6" stroke-linecap="round"/><path d="M589.17,720.91C589.02,721.55 588.98,723.69 588.26,724.76C587.54,725.83 586.17,726.87 584.85,727.35C583.54,727.82 581.73,727.93 580.35,727.62C578.96,727.31 577.45,726.45 576.56,725.47C575.67,724.5 575.06,723.02 575.03,721.77C575,720.53 576.16,718.65 576.38,718.02" fill="none" stroke="#e3a090" stroke-width="7.9" stroke-linecap="round"/><path d="M589.17,720.91C589.02,721.55 588.98,723.69 588.26,724.76C587.54,725.83 586.17,726.87 584.85,727.35C583.54,727.82 581.73,727.93 580.35,727.62C578.96,727.31 577.45,726.45 576.56,725.47C575.67,724.5 575.06,723.02 575.03,721.77C575,720.53 576.16,718.65 576.38,718.02" fill="none" stroke="#efbcae" stroke-width="1.8" stroke-linecap="round" opacity="0.55"/>
<path d="M585.09,749.25C584.42,749.32 582.32,750.02 581.1,749.7C579.88,749.37 578.51,748.39 577.76,747.29C577,746.2 576.52,744.49 576.58,743.12C576.64,741.76 577.27,740.11 578.11,739.1C578.96,738.08 580.41,737.24 581.65,737.04C582.9,736.85 584.93,737.76 585.58,737.91" fill="none" stroke="#be726e" stroke-width="9.6" stroke-linecap="round"/><path d="M585.09,749.25C584.42,749.32 582.32,750.02 581.1,749.7C579.88,749.37 578.51,748.39 577.76,747.29C577,746.2 576.52,744.49 576.58,743.12C576.64,741.76 577.27,740.11 578.11,739.1C578.96,738.08 580.41,737.24 581.65,737.04C582.9,736.85 584.93,737.76 585.58,737.91" fill="none" stroke="#e3a090" stroke-width="7.9" stroke-linecap="round"/><path d="M585.09,749.25C584.42,749.32 582.32,750.02 581.1,749.7C579.88,749.37 578.51,748.39 577.76,747.29C577,746.2 576.52,744.49 576.58,743.12C576.64,741.76 577.27,740.11 578.11,739.1C578.96,738.08 580.41,737.24 581.65,737.04C582.9,736.85 584.93,737.76 585.58,737.91" fill="none" stroke="#efbcae" stroke-width="1.8" stroke-linecap="round" opacity="0.55"/>
<path d="M559.59,739.96C559.25,739.66 558.01,738.89 557.51,738.18C557.02,737.46 556.69,736.51 556.63,735.65C556.58,734.8 556.78,733.81 557.17,733.04C557.57,732.27 558.26,731.51 559,731.02C559.74,730.54 560.74,730.2 561.63,730.12C562.53,730.05 563.93,730.5 564.39,730.57" fill="none" stroke="#be726e" stroke-width="9.6" stroke-linecap="round"/><path d="M559.59,739.96C559.25,739.66 558.01,738.89 557.51,738.18C557.02,737.46 556.69,736.51 556.63,735.65C556.58,734.8 556.78,733.81 557.17,733.04C557.57,732.27 558.26,731.51 559,731.02C559.74,730.54 560.74,730.2 561.63,730.12C562.53,730.05 563.93,730.5 564.39,730.57" fill="none" stroke="#e3a090" stroke-width="7.9" stroke-linecap="round"/><path d="M559.59,739.96C559.25,739.66 558.01,738.89 557.51,738.18C557.02,737.46 556.69,736.51 556.63,735.65C556.58,734.8 556.78,733.81 557.17,733.04C557.57,732.27 558.26,731.51 559,731.02C559.74,730.54 560.74,730.2 561.63,730.12C562.53,730.05 563.93,730.5 564.39,730.57" fill="none" stroke="#efbcae" stroke-width="1.8" stroke-linecap="round" opacity="0.55"/>
<path d="M594.44,739.72C594.91,739.63 596.35,739.14 597.29,739.19C598.22,739.24 599.27,739.55 600.04,740.01C600.81,740.47 601.53,741.22 601.92,741.96C602.31,742.7 602.48,743.66 602.38,744.47C602.28,745.28 601.86,746.18 601.3,746.83C600.73,747.48 599.36,748.11 598.98,748.37" fill="none" stroke="#be726e" stroke-width="9.6" stroke-linecap="round"/><path d="M594.44,739.72C594.91,739.63 596.35,739.14 597.29,739.19C598.22,739.24 599.27,739.55 600.04,740.01C600.81,740.47 601.53,741.22 601.92,741.96C602.31,742.7 602.48,743.66 602.38,744.47C602.28,745.28 601.86,746.18 601.3,746.83C600.73,747.48 599.36,748.11 598.98,748.37" fill="none" stroke="#e3a090" stroke-width="7.9" stroke-linecap="round"/><path d="M594.44,739.72C594.91,739.63 596.35,739.14 597.29,739.19C598.22,739.24 599.27,739.55 600.04,740.01C600.81,740.47 601.53,741.22 601.92,741.96C602.31,742.7 602.48,743.66 602.38,744.47C602.28,745.28 601.86,746.18 601.3,746.83C600.73,747.48 599.36,748.11 598.98,748.37" fill="none" stroke="#efbcae" stroke-width="1.8" stroke-linecap="round" opacity="0.55"/>
<path d="M629.09,740.56C629.17,741.06 629.73,742.61 629.53,743.57C629.33,744.52 628.7,745.57 627.89,746.3C627.08,747.03 625.84,747.66 624.66,747.95C623.48,748.23 622,748.25 620.81,748C619.62,747.75 618.35,747.16 617.51,746.45C616.66,745.74 616.03,744.21 615.74,743.76" fill="none" stroke="#be726e" stroke-width="9.6" stroke-linecap="round"/><path d="M629.09,740.56C629.17,741.06 629.73,742.61 629.53,743.57C629.33,744.52 628.7,745.57 627.89,746.3C627.08,747.03 625.84,747.66 624.66,747.95C623.48,748.23 622,748.25 620.81,748C619.62,747.75 618.35,747.16 617.51,746.45C616.66,745.74 616.03,744.21 615.74,743.76" fill="none" stroke="#e3a090" stroke-width="7.9" stroke-linecap="round"/><path d="M629.09,740.56C629.17,741.06 629.73,742.61 629.53,743.57C629.33,744.52 628.7,745.57 627.89,746.3C627.08,747.03 625.84,747.66 624.66,747.95C623.48,748.23 622,748.25 620.81,748C619.62,747.75 618.35,747.16 617.51,746.45C616.66,745.74 616.03,744.21 615.74,743.76" fill="none" stroke="#efbcae" stroke-width="1.8" stroke-linecap="round" opacity="0.55"/>
<path d="M572.31,719.96C572.59,720.36 573.71,721.46 573.98,722.31C574.25,723.16 574.23,724.23 573.92,725.07C573.62,725.91 572.95,726.8 572.17,727.37C571.39,727.94 570.27,728.37 569.26,728.49C568.25,728.61 567.04,728.45 566.12,728.08C565.19,727.71 564.12,726.56 563.72,726.26" fill="none" stroke="#be726e" stroke-width="9.6" stroke-linecap="round"/><path d="M572.31,719.96C572.59,720.36 573.71,721.46 573.98,722.31C574.25,723.16 574.23,724.23 573.92,725.07C573.62,725.91 572.95,726.8 572.17,727.37C571.39,727.94 570.27,728.37 569.26,728.49C568.25,728.61 567.04,728.45 566.12,728.08C565.19,727.71 564.12,726.56 563.72,726.26" fill="none" stroke="#e3a090" stroke-width="7.9" stroke-linecap="round"/><path d="M572.31,719.96C572.59,720.36 573.71,721.46 573.98,722.31C574.25,723.16 574.23,724.23 573.92,725.07C573.62,725.91 572.95,726.8 572.17,727.37C571.39,727.94 570.27,728.37 569.26,728.49C568.25,728.61 567.04,728.45 566.12,728.08C565.19,727.71 564.12,726.56 563.72,726.26" fill="none" stroke="#efbcae" stroke-width="1.8" stroke-linecap="round" opacity="0.55"/>
<path d="M625.43,726.65C624.84,726.82 623.03,727.73 621.86,727.68C620.7,727.63 619.26,727.07 618.42,726.35C617.59,725.63 616.93,724.38 616.85,723.35C616.77,722.32 617.23,721 617.95,720.19C618.66,719.37 620,718.65 621.15,718.46C622.3,718.27 624.23,718.96 624.85,719.05" fill="none" stroke="#be726e" stroke-width="9.6" stroke-linecap="round"/><path d="M625.43,726.65C624.84,726.82 623.03,727.73 621.86,727.68C620.7,727.63 619.26,727.07 618.42,726.35C617.59,725.63 616.93,724.38 616.85,723.35C616.77,722.32 617.23,721 617.95,720.19C618.66,719.37 620,718.65 621.15,718.46C622.3,718.27 624.23,718.96 624.85,719.05" fill="none" stroke="#e3a090" stroke-width="7.9" stroke-linecap="round"/><path d="M625.43,726.65C624.84,726.82 623.03,727.73 621.86,727.68C620.7,727.63 619.26,727.07 618.42,726.35C617.59,725.63 616.93,724.38 616.85,723.35C616.77,722.32 617.23,721 617.95,720.19C618.66,719.37 620,718.65 621.15,718.46C622.3,718.27 624.23,718.96 624.85,719.05" fill="none" stroke="#efbcae" stroke-width="1.8" stroke-linecap="round" opacity="0.55"/>
<path d="M560.4,696.12C560.66,696.47 561.64,697.43 561.96,698.21C562.28,699 562.42,699.99 562.32,700.83C562.23,701.68 561.87,702.61 561.38,703.3C560.89,703.98 560.14,704.61 559.39,704.95C558.63,705.3 557.68,705.45 556.86,705.36C556.04,705.28 554.87,704.59 554.47,704.43" fill="none" stroke="#be726e" stroke-width="9.6" stroke-linecap="round"/><path d="M560.4,696.12C560.66,696.47 561.64,697.43 561.96,698.21C562.28,699 562.42,699.99 562.32,700.83C562.23,701.68 561.87,702.61 561.38,703.3C560.89,703.98 560.14,704.61 559.39,704.95C558.63,705.3 557.68,705.45 556.86,705.36C556.04,705.28 554.87,704.59 554.47,704.43" fill="none" stroke="#e3a090" stroke-width="7.9" stroke-linecap="round"/><path d="M560.4,696.12C560.66,696.47 561.64,697.43 561.96,698.21C562.28,699 562.42,699.99 562.32,700.83C562.23,701.68 561.87,702.61 561.38,703.3C560.89,703.98 560.14,704.61 559.39,704.95C558.63,705.3 557.68,705.45 556.86,705.36C556.04,705.28 554.87,704.59 554.47,704.43" fill="none" stroke="#efbcae" stroke-width="1.8" stroke-linecap="round" opacity="0.55"/>
<path d="M551.25,724.76C551.1,724.09 550.21,722.04 550.34,720.74C550.47,719.44 551.13,717.95 552.02,716.96C552.91,715.98 554.36,715.13 555.68,714.82C557,714.51 558.69,714.62 559.96,715.11C561.22,715.59 562.53,716.62 563.27,717.72C564.01,718.81 564.21,721.02 564.39,721.68" fill="none" stroke="#be726e" stroke-width="9.6" stroke-linecap="round"/><path d="M551.25,724.76C551.1,724.09 550.21,722.04 550.34,720.74C550.47,719.44 551.13,717.95 552.02,716.96C552.91,715.98 554.36,715.13 555.68,714.82C557,714.51 558.69,714.62 559.96,715.11C561.22,715.59 562.53,716.62 563.27,717.72C564.01,718.81 564.21,721.02 564.39,721.68" fill="none" stroke="#e3a090" stroke-width="7.9" stroke-linecap="round"/><path d="M551.25,724.76C551.1,724.09 550.21,722.04 550.34,720.74C550.47,719.44 551.13,717.95 552.02,716.96C552.91,715.98 554.36,715.13 555.68,714.82C557,714.51 558.69,714.62 559.96,715.11C561.22,715.59 562.53,716.62 563.27,717.72C564.01,718.81 564.21,721.02 564.39,721.68" fill="none" stroke="#efbcae" stroke-width="1.8" stroke-linecap="round" opacity="0.55"/>
<path d="M614.09,741.24C614.17,741.84 614.65,743.66 614.53,744.81C614.4,745.96 613.95,747.22 613.33,748.14C612.71,749.06 611.76,749.9 610.82,750.35C609.88,750.8 608.69,750.98 607.68,750.83C606.66,750.69 605.55,750.17 604.74,749.47C603.92,748.77 603.12,747.1 602.79,746.62" fill="none" stroke="#be726e" stroke-width="9.6" stroke-linecap="round"/><path d="M614.09,741.24C614.17,741.84 614.65,743.66 614.53,744.81C614.4,745.96 613.95,747.22 613.33,748.14C612.71,749.06 611.76,749.9 610.82,750.35C609.88,750.8 608.69,750.98 607.68,750.83C606.66,750.69 605.55,750.17 604.74,749.47C603.92,748.77 603.12,747.1 602.79,746.62" fill="none" stroke="#e3a090" stroke-width="7.9" stroke-linecap="round"/><path d="M614.09,741.24C614.17,741.84 614.65,743.66 614.53,744.81C614.4,745.96 613.95,747.22 613.33,748.14C612.71,749.06 611.76,749.9 610.82,750.35C609.88,750.8 608.69,750.98 607.68,750.83C606.66,750.69 605.55,750.17 604.74,749.47C603.92,748.77 603.12,747.1 602.79,746.62" fill="none" stroke="#efbcae" stroke-width="1.8" stroke-linecap="round" opacity="0.55"/>
<path d="M628.21,715.11C627.65,714.81 625.65,714.21 624.89,713.32C624.13,712.44 623.6,710.96 623.62,709.79C623.65,708.63 624.25,707.18 625.06,706.33C625.86,705.48 627.28,704.8 628.45,704.7C629.63,704.6 631.14,705.04 632.08,705.75C633.01,706.45 633.74,708.4 634.07,708.93" fill="none" stroke="#be726e" stroke-width="9.6" stroke-linecap="round"/><path d="M628.21,715.11C627.65,714.81 625.65,714.21 624.89,713.32C624.13,712.44 623.6,710.96 623.62,709.79C623.65,708.63 624.25,707.18 625.06,706.33C625.86,705.48 627.28,704.8 628.45,704.7C629.63,704.6 631.14,705.04 632.08,705.75C633.01,706.45 633.74,708.4 634.07,708.93" fill="none" stroke="#e3a090" stroke-width="7.9" stroke-linecap="round"/><path d="M628.21,715.11C627.65,714.81 625.65,714.21 624.89,713.32C624.13,712.44 623.6,710.96 623.62,709.79C623.65,708.63 624.25,707.18 625.06,706.33C625.86,705.48 627.28,704.8 628.45,704.7C629.63,704.6 631.14,705.04 632.08,705.75C633.01,706.45 633.74,708.4 634.07,708.93" fill="none" stroke="#efbcae" stroke-width="1.8" stroke-linecap="round" opacity="0.55"/>
<path d="M622.69,730.63C623.15,730.41 624.44,729.56 625.42,729.32C626.41,729.07 627.6,729.02 628.61,729.16C629.63,729.31 630.71,729.7 631.52,730.21C632.33,730.72 633.06,731.47 633.47,732.21C633.89,732.96 634.08,733.89 634.01,734.71C633.93,735.52 633.17,736.7 633,737.1" fill="none" stroke="#be726e" stroke-width="9.6" stroke-linecap="round"/><path d="M622.69,730.63C623.15,730.41 624.44,729.56 625.42,729.32C626.41,729.07 627.6,729.02 628.61,729.16C629.63,729.31 630.71,729.7 631.52,730.21C632.33,730.72 633.06,731.47 633.47,732.21C633.89,732.96 634.08,733.89 634.01,734.71C633.93,735.52 633.17,736.7 633,737.1" fill="none" stroke="#e3a090" stroke-width="7.9" stroke-linecap="round"/><path d="M622.69,730.63C623.15,730.41 624.44,729.56 625.42,729.32C626.41,729.07 627.6,729.02 628.61,729.16C629.63,729.31 630.71,729.7 631.52,730.21C632.33,730.72 633.06,731.47 633.47,732.21C633.89,732.96 634.08,733.89 634.01,734.71C633.93,735.52 633.17,736.7 633,737.1" fill="none" stroke="#efbcae" stroke-width="1.8" stroke-linecap="round" opacity="0.55"/>
<path d="M618.59,689.01C619.43,689.12 622.25,689.04 623.62,689.67C624.99,690.3 626.32,691.61 626.81,692.79C627.29,693.97 627.18,695.64 626.53,696.78C625.89,697.91 624.38,699.1 622.93,699.61C621.48,700.12 619.36,700.21 617.84,699.84C616.33,699.46 614.51,697.77 613.85,697.35" fill="none" stroke="#be726e" stroke-width="9.6" stroke-linecap="round"/><path d="M618.59,689.01C619.43,689.12 622.25,689.04 623.62,689.67C624.99,690.3 626.32,691.61 626.81,692.79C627.29,693.97 627.18,695.64 626.53,696.78C625.89,697.91 624.38,699.1 622.93,699.61C621.48,700.12 619.36,700.21 617.84,699.84C616.33,699.46 614.51,697.77 613.85,697.35" fill="none" stroke="#e3a090" stroke-width="7.9" stroke-linecap="round"/><path d="M618.59,689.01C619.43,689.12 622.25,689.04 623.62,689.67C624.99,690.3 626.32,691.61 626.81,692.79C627.29,693.97 627.18,695.64 626.53,696.78C625.89,697.91 624.38,699.1 622.93,699.61C621.48,700.12 619.36,700.21 617.84,699.84C616.33,699.46 614.51,697.77 613.85,697.35" fill="none" stroke="#efbcae" stroke-width="1.8" stroke-linecap="round" opacity="0.55"/>
<path d="M576.43,696.61C576.66,697.08 577.62,698.43 577.85,699.41C578.07,700.39 578.05,701.53 577.78,702.51C577.51,703.48 576.95,704.49 576.24,705.25C575.54,706 574.55,706.67 573.56,707.04C572.57,707.42 571.36,707.59 570.3,707.51C569.24,707.43 567.69,706.71 567.17,706.55" fill="none" stroke="#be726e" stroke-width="9.6" stroke-linecap="round"/><path d="M576.43,696.61C576.66,697.08 577.62,698.43 577.85,699.41C578.07,700.39 578.05,701.53 577.78,702.51C577.51,703.48 576.95,704.49 576.24,705.25C575.54,706 574.55,706.67 573.56,707.04C572.57,707.42 571.36,707.59 570.3,707.51C569.24,707.43 567.69,706.71 567.17,706.55" fill="none" stroke="#e3a090" stroke-width="7.9" stroke-linecap="round"/><path d="M576.43,696.61C576.66,697.08 577.62,698.43 577.85,699.41C578.07,700.39 578.05,701.53 577.78,702.51C577.51,703.48 576.95,704.49 576.24,705.25C575.54,706 574.55,706.67 573.56,707.04C572.57,707.42 571.36,707.59 570.3,707.51C569.24,707.43 567.69,706.71 567.17,706.55" fill="none" stroke="#efbcae" stroke-width="1.8" stroke-linecap="round" opacity="0.55"/>
<path d="M566,745 C568.6,749 570.6,752 570.4,756 C570.2,759 568.6,759.6 568,757" fill="none" stroke="#a25a68" stroke-width="2.6" stroke-linecap="round"/>
<path d="M566,745 C568.6,749 570.6,752 570.4,756 C570.2,759 568.6,759.6 568,757" fill="none" stroke="#c57c86" stroke-width="1.4" stroke-linecap="round"/>
<path d="M588.6,751 C590,748 602,747.6 603.6,751 C605,756 603.4,762 601.4,766 C603,770 601,774 599.4,777 C598.8,780 597.6,782.4 596.4,782.4 C595,782.4 594,780 593.6,777 C591.6,774 590.6,770 591.6,766 C589,762 587.6,756 588.6,751 Z" fill="#c57c86" stroke="#a25a68" stroke-width="0.9"/>
<g fill="#c57c86" stroke="#a25a68" stroke-width="0.9"><ellipse cx="640.4" cy="674" rx="4.6" ry="7.0" transform="rotate(95.46 640.4 674)"/><ellipse cx="639.77" cy="680.57" rx="4.6" ry="7.0" transform="rotate(95.22 639.77 680.57)"/><ellipse cx="639.2" cy="687.14" rx="4.6" ry="7.0" transform="rotate(94.21 639.2 687.14)"/><ellipse cx="638.8" cy="693.73" rx="4.6" ry="7.0" transform="rotate(92.64 638.8 693.73)"/><ellipse cx="638.59" cy="700.33" rx="4.6" ry="7.0" transform="rotate(90.57 638.59 700.33)"/><ellipse cx="638.67" cy="706.93" rx="4.6" ry="7.0" transform="rotate(87.48 638.67 706.93)"/><ellipse cx="639.17" cy="713.51" rx="4.6" ry="7.0" transform="rotate(85.95 639.17 713.51)"/><ellipse cx="639.6" cy="720.09" rx="4.6" ry="7.0" transform="rotate(87.4 639.6 720.09)"/><ellipse cx="639.77" cy="726.69" rx="4.6" ry="7.0" transform="rotate(90.49 639.77 726.69)"/><ellipse cx="639.49" cy="733.28" rx="4.6" ry="7.0" transform="rotate(97.41 639.49 733.28)"/><ellipse cx="638.08" cy="739.71" rx="4.6" ry="7.0" transform="rotate(110.5 638.08 739.71)"/><ellipse cx="634.93" cy="745.48" rx="4.6" ry="7.0" transform="rotate(127.2 634.93 745.48)"/><ellipse cx="630.21" cy="750.07" rx="4.6" ry="7.0" transform="rotate(143.09 630.21 750.07)"/><ellipse cx="624.49" cy="753.32" rx="4.6" ry="7.0" transform="rotate(157.89 624.49 753.32)"/><ellipse cx="618.12" cy="754.98" rx="4.6" ry="7.0" transform="rotate(174.03 618.12 754.98)"/><ellipse cx="611.56" cy="754.67" rx="4.6" ry="7.0" transform="rotate(-167.89 611.56 754.67)"/><ellipse cx="605.46" cy="752.26" rx="4.6" ry="7.0" transform="rotate(-158.5 605.46 752.26)"/></g><path d="M640.4,674L640.31,674.96L640.19,676.19L640.05,677.66L639.89,679.3L639.73,681.06L639.56,682.9L639.39,684.77L639.24,686.61L639.11,688.37L639,690L638.91,691.54L638.83,693.06L638.76,694.57L638.7,696.07L638.65,697.56L638.61,699.05L638.59,700.53L638.57,702.02L638.58,703.5L638.6,705L638.65,706.5L638.73,708.02L638.83,709.53L638.96,711.05L639.09,712.56L639.22,714.07L639.34,715.57L639.45,717.06L639.54,718.54L639.6,720L639.64,721.46L639.69,722.93L639.73,724.4L639.76,725.86L639.77,727.31L639.77,728.74L639.73,730.13L639.66,731.47L639.56,732.77L639.4,734L639.21,735.17L639,736.29L638.76,737.37L638.49,738.4L638.19,739.4L637.84,740.36L637.46,741.3L637.03,742.22L636.54,743.12L636,744L635.4,744.88L634.73,745.74L634,746.59L633.23,747.41L632.41,748.21L631.56,748.98L630.69,749.7L629.8,750.39L628.9,751.02L628,751.6L627.08,752.13L626.11,752.62L625.12,753.07L624.1,753.47L623.06,753.84L622.02,754.16L620.99,754.44L619.97,754.67L618.97,754.86L618,755L617.05,755.09L616.1,755.13L615.16,755.12L614.23,755.06L613.31,754.96L612.41,754.83L611.52,754.66L610.66,754.46L609.81,754.24L609,754L608.19,753.7L607.36,753.33L606.53,752.89L605.72,752.42L604.94,751.94L604.2,751.46L603.52,751L602.92,750.59L602.41,750.25L602,750" fill="none" stroke="#c57c86" stroke-width="10.2" stroke-linecap="round" stroke-linejoin="round"/><path d="M640.4,674L640.31,674.96L640.19,676.19L640.05,677.66L639.89,679.3L639.73,681.06L639.56,682.9L639.39,684.77L639.24,686.61L639.11,688.37L639,690L638.91,691.54L638.83,693.06L638.76,694.57L638.7,696.07L638.65,697.56L638.61,699.05L638.59,700.53L638.57,702.02L638.58,703.5L638.6,705L638.65,706.5L638.73,708.02L638.83,709.53L638.96,711.05L639.09,712.56L639.22,714.07L639.34,715.57L639.45,717.06L639.54,718.54L639.6,720L639.64,721.46L639.69,722.93L639.73,724.4L639.76,725.86L639.77,727.31L639.77,728.74L639.73,730.13L639.66,731.47L639.56,732.77L639.4,734L639.21,735.17L639,736.29L638.76,737.37L638.49,738.4L638.19,739.4L637.84,740.36L637.46,741.3L637.03,742.22L636.54,743.12L636,744L635.4,744.88L634.73,745.74L634,746.59L633.23,747.41L632.41,748.21L631.56,748.98L630.69,749.7L629.8,750.39L628.9,751.02L628,751.6L627.08,752.13L626.11,752.62L625.12,753.07L624.1,753.47L623.06,753.84L622.02,754.16L620.99,754.44L619.97,754.67L618.97,754.86L618,755L617.05,755.09L616.1,755.13L615.16,755.12L614.23,755.06L613.31,754.96L612.41,754.83L611.52,754.66L610.66,754.46L609.81,754.24L609,754L608.19,753.7L607.36,753.33L606.53,752.89L605.72,752.42L604.94,751.94L604.2,751.46L603.52,751L602.92,750.59L602.41,750.25L602,750" fill="none" stroke="#d3929a" stroke-width="1.6" stroke-linecap="round" stroke-linejoin="round" opacity="0.8"/>
<path d="M541,730 C539,737 540.6,745 547,749 C554,752.6 562.6,750 565,743 C566.6,737 562,731 556,729.6 Z" fill="#c57c86" stroke="#a25a68" stroke-width="0.9"/>
<g fill="#c57c86" stroke="#a25a68" stroke-width="0.9"><ellipse cx="549" cy="738" rx="4.6" ry="7.0" transform="rotate(-108.83 549 738)"/><ellipse cx="546.87" cy="731.75" rx="4.6" ry="7.0" transform="rotate(-104.42 546.87 731.75)"/><ellipse cx="545.73" cy="725.27" rx="4.6" ry="7.0" transform="rotate(-95.5 545.73 725.27)"/><ellipse cx="545.61" cy="718.67" rx="4.6" ry="7.0" transform="rotate(-90.68 545.61 718.67)"/><ellipse cx="545.57" cy="712.07" rx="4.6" ry="7.0" transform="rotate(-90.18 545.57 712.07)"/><ellipse cx="545.57" cy="705.47" rx="4.6" ry="7.0" transform="rotate(-89.84 545.57 705.47)"/><ellipse cx="545.61" cy="698.87" rx="4.6" ry="7.0" transform="rotate(-89.5 545.61 698.87)"/><ellipse cx="545.68" cy="692.27" rx="4.6" ry="7.0" transform="rotate(-88.62 545.68 692.27)"/><ellipse cx="545.93" cy="685.68" rx="4.6" ry="7.0" transform="rotate(-87.89 545.93 685.68)"/></g><path d="M549,738L548.81,737.42L548.55,736.69L548.24,735.83L547.89,734.86L547.52,733.81L547.16,732.7L546.8,731.54L546.48,730.35L546.21,729.17L546,728L545.85,726.83L545.75,725.62L545.68,724.38L545.63,723.11L545.61,721.81L545.61,720.49L545.61,719.14L545.61,717.78L545.61,716.39L545.6,715L545.58,713.57L545.57,712.08L545.56,710.55L545.56,709L545.56,707.44L545.57,705.88L545.57,704.34L545.58,702.84L545.59,701.39L545.6,700L545.61,698.66L545.62,697.34L545.63,696.05L545.65,694.79L545.66,693.56L545.68,692.37L545.7,691.21L545.73,690.1L545.76,689.02L545.8,688L545.85,687L545.9,686.02L545.97,685.05L546.04,684.13L546.11,683.25L546.18,682.43L546.25,681.69L546.31,681.02L546.36,680.46L546.4,680" fill="none" stroke="#c57c86" stroke-width="10.2" stroke-linecap="round" stroke-linejoin="round"/><path d="M549,738L548.81,737.42L548.55,736.69L548.24,735.83L547.89,734.86L547.52,733.81L547.16,732.7L546.8,731.54L546.48,730.35L546.21,729.17L546,728L545.85,726.83L545.75,725.62L545.68,724.38L545.63,723.11L545.61,721.81L545.61,720.49L545.61,719.14L545.61,717.78L545.61,716.39L545.6,715L545.58,713.57L545.57,712.08L545.56,710.55L545.56,709L545.56,707.44L545.57,705.88L545.57,704.34L545.58,702.84L545.59,701.39L545.6,700L545.61,698.66L545.62,697.34L545.63,696.05L545.65,694.79L545.66,693.56L545.68,692.37L545.7,691.21L545.73,690.1L545.76,689.02L545.8,688L545.85,687L545.9,686.02L545.97,685.05L546.04,684.13L546.11,683.25L546.18,682.43L546.25,681.69L546.31,681.02L546.36,680.46L546.4,680" fill="none" stroke="#d3929a" stroke-width="1.6" stroke-linecap="round" stroke-linejoin="round" opacity="0.8"/>
<g fill="#c57c86" stroke="#a25a68" stroke-width="0.9"><ellipse cx="546" cy="678.6" rx="4.6" ry="7.0" transform="rotate(21.07 546 678.6)"/><ellipse cx="552.16" cy="680.97" rx="4.6" ry="7.0" transform="rotate(20.3 552.16 680.97)"/><ellipse cx="558.38" cy="683.18" rx="4.6" ry="7.0" transform="rotate(19.13 558.38 683.18)"/><ellipse cx="564.63" cy="685.3" rx="4.6" ry="7.0" transform="rotate(18.12 564.63 685.3)"/><ellipse cx="570.92" cy="687.28" rx="4.6" ry="7.0" transform="rotate(17.44 570.92 687.28)"/><ellipse cx="577.22" cy="689.25" rx="4.6" ry="7.0" transform="rotate(15.47 577.22 689.25)"/><ellipse cx="583.63" cy="690.8" rx="4.6" ry="7.0" transform="rotate(9.43 583.63 690.8)"/><ellipse cx="590.2" cy="691.41" rx="4.6" ry="7.0" transform="rotate(1.49 590.2 691.41)"/><ellipse cx="596.79" cy="691.14" rx="4.6" ry="7.0" transform="rotate(-7.37 596.79 691.14)"/><ellipse cx="603.22" cy="689.72" rx="4.6" ry="7.0" transform="rotate(-16.92 603.22 689.72)"/><ellipse cx="609.37" cy="687.32" rx="4.6" ry="7.0" transform="rotate(-24.47 609.37 687.32)"/><ellipse cx="615.21" cy="684.27" rx="4.6" ry="7.0" transform="rotate(-31.88 615.21 684.27)"/><ellipse cx="620.53" cy="680.37" rx="4.6" ry="7.0" transform="rotate(-38.27 620.53 680.37)"/><ellipse cx="625.56" cy="676.1" rx="4.6" ry="7.0" transform="rotate(-38.22 625.56 676.1)"/><ellipse cx="630.9" cy="672.21" rx="4.6" ry="7.0" transform="rotate(-31.23 630.9 672.21)"/><ellipse cx="636.74" cy="669.32" rx="4.6" ry="7.0" transform="rotate(-26.29 636.74 669.32)"/></g><path d="M546,678.6L546.51,678.8L547.13,679.04L547.85,679.32L548.66,679.64L549.56,679.99L550.54,680.36L551.58,680.76L552.67,681.16L553.82,681.58L555,682L556.26,682.44L557.62,682.91L559.06,683.41L560.57,683.93L562.12,684.46L563.71,685L565.31,685.52L566.9,686.04L568.47,686.53L570,687L571.5,687.46L573,687.93L574.5,688.41L576,688.88L577.5,689.34L579,689.76L580.5,690.15L582,690.5L583.5,690.78L585,691L586.5,691.16L588,691.29L589.5,691.39L591,691.44L592.5,691.44L594,691.39L595.5,691.28L597,691.12L598.5,690.89L600,690.6L601.51,690.23L603.05,689.78L604.59,689.27L606.14,688.69L607.69,688.06L609.22,687.39L610.72,686.68L612.19,685.94L613.62,685.18L615,684.4L616.34,683.57L617.64,682.66L618.91,681.7L620.16,680.69L621.38,679.66L622.56,678.64L623.71,677.64L624.84,676.69L625.94,675.8L627,675L628.04,674.25L629.07,673.51L630.07,672.79L631.04,672.11L631.98,671.47L632.88,670.9L633.73,670.39L634.54,669.96L635.3,669.63L636,669.4L636.65,669.31L637.24,669.38L637.8,669.56L638.3,669.82L638.76,670.15L639.18,670.5L639.55,670.86L639.88,671.18L640.16,671.43L640.4,671.6" fill="none" stroke="#c57c86" stroke-width="10.2" stroke-linecap="round" stroke-linejoin="round"/><path d="M546,678.6L546.51,678.8L547.13,679.04L547.85,679.32L548.66,679.64L549.56,679.99L550.54,680.36L551.58,680.76L552.67,681.16L553.82,681.58L555,682L556.26,682.44L557.62,682.91L559.06,683.41L560.57,683.93L562.12,684.46L563.71,685L565.31,685.52L566.9,686.04L568.47,686.53L570,687L571.5,687.46L573,687.93L574.5,688.41L576,688.88L577.5,689.34L579,689.76L580.5,690.15L582,690.5L583.5,690.78L585,691L586.5,691.16L588,691.29L589.5,691.39L591,691.44L592.5,691.44L594,691.39L595.5,691.28L597,691.12L598.5,690.89L600,690.6L601.51,690.23L603.05,689.78L604.59,689.27L606.14,688.69L607.69,688.06L609.22,687.39L610.72,686.68L612.19,685.94L613.62,685.18L615,684.4L616.34,683.57L617.64,682.66L618.91,681.7L620.16,680.69L621.38,679.66L622.56,678.64L623.71,677.64L624.84,676.69L625.94,675.8L627,675L628.04,674.25L629.07,673.51L630.07,672.79L631.04,672.11L631.98,671.47L632.88,670.9L633.73,670.39L634.54,669.96L635.3,669.63L636,669.4L636.65,669.31L637.24,669.38L637.8,669.56L638.3,669.82L638.76,670.15L639.18,670.5L639.55,670.86L639.88,671.18L640.16,671.43L640.4,671.6" fill="none" stroke="#d3929a" stroke-width="1.6" stroke-linecap="round" stroke-linejoin="round" opacity="0.8"/>
<!-- circle -->
<path d="M610.2,659.5 L884.5,558.2 M610.2,659.5 L902.6,744.4" stroke="#111" stroke-width="2.6" stroke-dasharray="2.7 3.4" fill="none"/>
<ellipse cx="951.45" cy="648.05" rx="119.55" ry="106.15" fill="#fee9f6" stroke="#0c0c0c" stroke-width="2.6"/>
<path d="M876.5,657.5C876.12,656.66 874.26,654.32 874.21,652.49C874.16,650.65 876.27,648.42 876.19,646.47C876.12,644.52 874.16,641.73 873.75,640.79 M883.39,657.5C883.7,656.61 885.2,654.1 885.25,652.14C885.29,650.17 883.57,647.79 883.63,645.7C883.7,643.62 885.29,640.64 885.62,639.62 M890.69,657.5C890.36,656.66 888.73,654.31 888.68,652.47C888.64,650.62 890.49,648.38 890.43,646.43C890.36,644.47 888.64,641.67 888.28,640.72 M897.34,657.5C896.97,656.57 895.16,653.98 895.11,651.95C895.06,649.91 897.12,647.44 897.04,645.28C896.97,643.12 895.06,640.04 894.67,638.99 M903.41,657.5C902.98,656.6 900.89,654.1 900.83,652.13C900.77,650.16 903.15,647.77 903.07,645.68C902.98,643.59 900.77,640.61 900.31,639.6 M910.55,657.5C910.86,656.6 912.36,654.08 912.4,652.1C912.45,650.11 910.73,647.71 910.79,645.61C910.86,643.51 912.45,640.51 912.78,639.49 M917.41,657.5C917.71,656.65 919.2,654.29 919.24,652.43C919.28,650.57 917.59,648.32 917.65,646.34C917.71,644.37 919.28,641.55 919.6,640.6 M924.06,657.5C924.49,656.59 926.59,654.05 926.65,652.05C926.71,650.06 924.32,647.63 924.41,645.52C924.49,643.4 926.71,640.37 927.17,639.34 M931.52,657.5C931.94,656.64 933.98,654.23 934.04,652.34C934.1,650.45 931.77,648.16 931.86,646.16C931.94,644.15 934.1,641.29 934.54,640.32 M939,657.5C938.69,656.57 937.16,653.96 937.12,651.91C937.07,649.86 938.81,647.37 938.75,645.2C938.69,643.03 937.07,639.92 936.74,638.86 M945.19,657.5C944.83,656.56 943.05,653.91 943,651.83C942.95,649.75 944.97,647.23 944.9,645.03C944.83,642.82 942.95,639.67 942.56,638.6 M951.54,657.5C951.18,656.62 949.44,654.17 949.39,652.24C949.34,650.32 951.32,647.98 951.25,645.94C951.18,643.89 949.34,640.97 948.96,639.98 M958.39,657.5C957.95,656.61 955.83,654.13 955.78,652.17C955.72,650.22 958.13,647.85 958.04,645.78C957.95,643.71 955.72,640.75 955.25,639.75 M965.86,657.5C965.41,656.57 963.23,653.97 963.17,651.93C963.11,649.89 965.59,647.41 965.5,645.24C965.41,643.08 963.11,639.98 962.63,638.93 M971.95,657.5C971.51,656.57 969.35,653.97 969.29,651.93C969.23,649.88 971.69,647.4 971.6,645.24C971.51,643.07 969.23,639.97 968.75,638.92 M978.78,657.5C979.11,656.59 980.72,654.05 980.77,652.06C980.81,650.06 978.98,647.64 979.04,645.53C979.11,643.41 980.81,640.39 981.17,639.36 M985.61,657.5C985.92,656.66 987.43,654.3 987.47,652.44C987.51,650.59 985.8,648.34 985.86,646.38C985.92,644.41 987.51,641.6 987.84,640.65 M993.19,657.5C993.61,656.69 995.66,654.41 995.71,652.62C995.77,650.83 993.44,648.66 993.53,646.76C993.61,644.87 995.77,642.16 996.22,641.23 M999.26,657.5C999.68,656.66 1001.7,654.29 1001.76,652.44C1001.81,650.58 999.51,648.33 999.6,646.36C999.68,644.39 1001.81,641.57 1002.25,640.62 M1005.14,657.5C1005.45,656.61 1006.94,654.11 1006.98,652.15C1007.03,650.18 1005.33,647.8 1005.39,645.72C1005.45,643.64 1007.03,640.67 1007.35,639.66 M1011.54,657.5C1011.09,656.57 1008.92,653.96 1008.86,651.91C1008.8,649.86 1011.27,647.37 1011.18,645.2C1011.09,643.02 1008.8,639.91 1008.32,638.86 M1019.14,657.5C1018.83,656.65 1017.31,654.28 1017.27,652.42C1017.23,650.56 1018.95,648.3 1018.89,646.33C1018.83,644.35 1017.23,641.53 1016.89,640.57 M1024.99,657.5C1024.63,656.67 1022.87,654.35 1022.83,652.52C1022.78,650.7 1024.78,648.48 1024.7,646.55C1024.63,644.61 1022.78,641.85 1022.39,640.91 M1031.07,657.5C1030.64,656.69 1028.55,654.44 1028.49,652.66C1028.44,650.89 1030.82,648.74 1030.73,646.86C1030.64,644.97 1028.44,642.29 1027.98,641.37" fill="none" stroke="#a97a6a" stroke-width="1.3" stroke-linecap="round"/>
<path d="M877,656.6 C884,655 908,655 915.6,656.6 C918,658 918.4,662 918,668 C917,684 917,702 918.6,714 C919,718 918,720.4 915,720.8 C905,722 887,722 878.6,720.6 C875.6,720 874.8,717 875,713 C876,698 876,676 875,662 C874.8,659 875.4,657.2 877,656.6 Z" fill="#dfd0c8" stroke="#a87a6c" stroke-width="1.3" stroke-linejoin="round"/>
<path d="M921,656.6 C928,655 941,655 947.6,656.8 C949.6,658 950,661 951,666 C954,680 960,694 963.6,708 C964.6,713 964.6,718.6 961,720.4 C951,722 931,722 922,720.6 C919.4,720 918.6,717 918.8,713 C917.6,698 917.6,680 918.6,664 C918.8,660 919.4,657.4 921,656.6 Z" fill="#dfd0c8" stroke="#a87a6c" stroke-width="1.3" stroke-linejoin="round"/>
<path d="M951,656.4 C962,654.8 984,654.8 995,656.4 C997.4,657.4 997.6,660 996.6,664 C993,678 988,694 986.6,708 C986.2,713 986.4,718 984,720.4 C978,721.6 970,721.6 965.6,720.4 C963,718 964,712 962.6,706 C959.6,692 953.6,678 950.4,664 C949.6,660 949.4,657.4 951,656.4 Z" fill="#dfd0c8" stroke="#a87a6c" stroke-width="1.3" stroke-linejoin="round"/>
<path d="M999,656.6 C1008,655 1026,655 1034,656.8 C1036.4,657.8 1037,661 1036.8,665 C1036,682 1036,700 1037,713 C1037.2,717 1036.4,720 1033.4,720.6 C1024,722 1000,722 990.6,720.6 C987.6,719 987.6,714 988,709 C989.6,694 994,678 997.4,664 C998,660 997.6,657.6 999,656.6 Z" fill="#dfd0c8" stroke="#a87a6c" stroke-width="1.3" stroke-linejoin="round"/>
<ellipse cx="899" cy="707.4" rx="11" ry="7" fill="#c2a29a"/>
<ellipse cx="935.6" cy="702.4" rx="11.4" ry="7.2" fill="#c2a29a"/>
<ellipse cx="970.6" cy="670.6" rx="11.6" ry="7" fill="#c2a29a"/>
<ellipse cx="1012.6" cy="706.4" rx="10.6" ry="6.6" fill="#c2a29a"/>
<g transform="translate(921.5,598.4) rotate(135) scale(0.58)">
<path d="M-6.3,50 V84.3 M6.3,50 V84.3" stroke="#1c2c86" stroke-width="1.9" fill="none"/>
<g transform="translate(6.6,-4.2) rotate(5 -10.2 -1.2)">
<g transform="translate(-20.3,5.5) rotate(-40) scale(-1,1)">
<rect x="-4.3" y="-17.2" width="8.6" height="17.2" rx="1.7" fill="#12845a" stroke="#0c6a44" stroke-width="0.9"/>
<path d="M-4.3,-19.2 Q-4.3,-17.7 -2.8,-17.7 H2.8 Q4.3,-17.7 4.3,-19.2 V-35 L3.01,-32.8 L1.29,-33.8 L-0.43,-32.6 L-2.37,-33.4 L-4.3,-34.6 Z" fill="#44b690" stroke="#0c6a44" stroke-width="0.8"/>
</g>
<path d="M-16.5,1 L-13.5,5" stroke="#27509e" stroke-width="0.8"/>
<g transform="translate(-10.2,-1.2) rotate(-38) scale(-1,1)">
<rect x="-4.3" y="-16.8" width="8.6" height="16.8" rx="1.7" fill="#3f76c8" stroke="#27509e" stroke-width="0.9"/>
<path d="M-4.3,-18.8 Q-4.3,-17.3 -2.8,-17.3 H2.8 Q4.3,-17.3 4.3,-18.8 V-34.2 L3.01,-32 L1.29,-33 L-0.43,-31.8 L-2.37,-32.6 L-4.3,-33.8 Z" fill="#72aaec" stroke="#27509e" stroke-width="0.8"/>
</g>
</g>
<g transform="translate(20.3,5.5) rotate(40) scale(1,1)">
<rect x="-4.3" y="-17.2" width="8.6" height="17.2" rx="1.7" fill="#12845a" stroke="#0c6a44" stroke-width="0.9"/>
<path d="M-4.3,-19.2 Q-4.3,-17.7 -2.8,-17.7 H2.8 Q4.3,-17.7 4.3,-19.2 V-35 L3.01,-32.8 L1.29,-33.8 L-0.43,-32.6 L-2.37,-33.4 L-4.3,-34.6 Z" fill="#44b690" stroke="#0c6a44" stroke-width="0.8"/>
</g>
<path d="M16.5,1 L13.5,5" stroke="#27509e" stroke-width="0.8"/>
<g transform="translate(10.2,-1.2) rotate(38) scale(1,1)">
<rect x="-4.3" y="-16.8" width="8.6" height="16.8" rx="1.7" fill="#3f76c8" stroke="#27509e" stroke-width="0.9"/>
<path d="M-4.3,-18.8 Q-4.3,-17.3 -2.8,-17.3 H2.8 Q4.3,-17.3 4.3,-18.8 V-34.2 L3.01,-32 L1.29,-33 L-0.43,-31.8 L-2.37,-32.6 L-4.3,-33.8 Z" fill="#72aaec" stroke="#27509e" stroke-width="0.8"/>
</g>
<rect x="-11.1" y="0.6" width="9.4" height="16" rx="1.7" fill="#3f76c8" stroke="#27509e" stroke-width="0.95"/>
<rect x="-11.1" y="17.3" width="9.4" height="16.9" rx="1.7" fill="#3f76c8" stroke="#27509e" stroke-width="0.95"/>
<rect x="-11.1" y="34.9" width="9.4" height="16.4" rx="1.7" fill="#3f76c8" stroke="#27509e" stroke-width="0.95"/>
<rect x="1.7" y="0.6" width="9.4" height="16" rx="1.7" fill="#3f76c8" stroke="#27509e" stroke-width="0.95"/>
<rect x="1.7" y="17.3" width="9.4" height="16.9" rx="1.7" fill="#3f76c8" stroke="#27509e" stroke-width="0.95"/>
<rect x="1.7" y="34.9" width="9.4" height="16.4" rx="1.7" fill="#3f76c8" stroke="#27509e" stroke-width="0.95"/>
<ellipse cx="0" cy="17" rx="1.7" ry="1.2" fill="#f4fbfa" stroke="#27509e" stroke-width="0.5"/>
</g>
<path d="M936.6,614.6L937.26,614.68L938.11,614.79L939.11,614.92L940.24,615.06L941.49,615.21L942.81,615.35L944.19,615.49L945.6,615.6L947.1,615.71L948.73,615.84L950.45,615.98L952.24,616.1L954.05,616.2L955.86,616.26L957.62,616.26L959.3,616.2L960.94,616.07L962.6,615.88L964.24,615.64L965.86,615.36L967.44,615.05L968.95,614.71L970.37,614.36L971.7,614L972.96,613.59L974.18,613.11L975.34,612.59L976.42,612.06L977.41,611.55L978.29,611.08L979.02,610.69L979.6,610.4" fill="none" stroke="#4f9a40" stroke-width="12.4" stroke-linecap="round" stroke-linejoin="round"/>
<path d="M936.6,614.6L937.26,614.68L938.11,614.79L939.11,614.92L940.24,615.06L941.49,615.21L942.81,615.35L944.19,615.49L945.6,615.6L947.1,615.71L948.73,615.84L950.45,615.98L952.24,616.1L954.05,616.2L955.86,616.26L957.62,616.26L959.3,616.2L960.94,616.07L962.6,615.88L964.24,615.64L965.86,615.36L967.44,615.05L968.95,614.71L970.37,614.36L971.7,614L972.96,613.59L974.18,613.11L975.34,612.59L976.42,612.06L977.41,611.55L978.29,611.08L979.02,610.69L979.6,610.4" fill="none" stroke="#84c464" stroke-width="10.8" stroke-linecap="round" stroke-linejoin="round"/>
<path d="M938,611.6 C946,610 958,611 968,609.6" fill="none" stroke="#a4d888" stroke-width="1.6" stroke-linecap="round" opacity="0.8"/>
<g fill="none" stroke="#4f9a40" stroke-width="0.5" opacity="0.8"><circle cx="974.66" cy="613.95" r="0.78"/><circle cx="958.84" cy="617" r="0.86"/><circle cx="960.49" cy="616.86" r="1.06"/><circle cx="958.3" cy="615.81" r="0.93"/><circle cx="946.98" cy="614.69" r="1.09"/><circle cx="958.89" cy="616.47" r="0.51"/><circle cx="954.44" cy="616.6" r="0.51"/><circle cx="962.86" cy="616.87" r="0.54"/><circle cx="963.35" cy="615.93" r="0.91"/><circle cx="951.81" cy="617.22" r="0.94"/><circle cx="937.93" cy="612.62" r="0.91"/><circle cx="977.46" cy="612.74" r="0.77"/><circle cx="961.89" cy="615.15" r="0.72"/><circle cx="950.13" cy="615.26" r="0.86"/><circle cx="949.62" cy="615.27" r="0.96"/><circle cx="938.13" cy="615.49" r="0.94"/><circle cx="950.02" cy="614.43" r="0.98"/><circle cx="947.03" cy="614.06" r="0.76"/><circle cx="966.32" cy="613.77" r="0.69"/><circle cx="951.02" cy="617.9" r="0.76"/><circle cx="972.93" cy="613.09" r="0.7"/><circle cx="964.31" cy="618.24" r="0.77"/><circle cx="946.45" cy="613.65" r="0.82"/><circle cx="945.01" cy="617.39" r="1"/><circle cx="944.71" cy="614.41" r="0.98"/><circle cx="963.96" cy="617.81" r="0.71"/></g>
<path d="M984.6,608.6C984.28,606.4 982.55,599.22 982.7,595.4C982.85,591.58 983.9,588 985.5,585.7C987.1,583.4 990.78,582.9 992.3,581.6C993.82,580.3 994.48,578.73 994.6,577.9C994.72,577.07 993.27,576.82 993,576.6" fill="none" stroke="#3f7c3c" stroke-width="0.95" stroke-linecap="round"/>
<circle cx="993" cy="576.6" r="1" fill="#2f6a30"/>
<path d="M985.6,607.7C986.95,604.95 990.97,595.08 993.7,591.2C996.43,587.32 999.02,586 1002,584.4C1004.98,582.8 1010,582.07 1011.6,581.6" fill="none" stroke="#3f7c3c" stroke-width="0.95" stroke-linecap="round"/>
<circle cx="1011.6" cy="581.6" r="1" fill="#2f6a30"/>
<path d="M986,608.4C987.75,606.23 993.38,598.72 996.5,595.4C999.62,592.08 1001.95,590.12 1004.7,588.5C1007.45,586.88 1011.62,586.17 1013,585.7" fill="none" stroke="#3f7c3c" stroke-width="0.95" stroke-linecap="round"/>
<circle cx="1013" cy="585.7" r="1" fill="#2f6a30"/>
<path d="M986,609.4C987.97,608.2 995.13,605 997.8,602.2C1000.47,599.4 1000.38,593.97 1002,592.6C1003.62,591.23 1006.83,592.4 1007.5,594C1008.17,595.6 1005.32,600.72 1006,602.2C1006.68,603.68 1010.67,602.78 1011.6,602.9" fill="none" stroke="#3f7c3c" stroke-width="0.95" stroke-linecap="round"/>
<circle cx="1011.6" cy="602.9" r="1" fill="#2f6a30"/>
<path d="M985.6,610.6C987.87,610.12 996.02,607.72 999.2,607.7C1002.38,607.68 1004.7,608.88 1004.7,610.5C1004.7,612.12 1001.48,616.37 999.2,617.4C996.92,618.43 992.37,616.82 991,616.7" fill="none" stroke="#3f7c3c" stroke-width="0.95" stroke-linecap="round"/>
<circle cx="991" cy="616.7" r="1" fill="#2f6a30"/>
</svg>
<div class="t b i" id="t1" style="left:936.5px;top:111.5px;font-size:25px;letter-spacing:1.0px;">Helicobacter pylori</div>
<div class="t b" id="t2" style="left:942.5px;top:134.6px;font-size:25px;letter-spacing:0.43px;">UreB recombinant</div>
<div class="t b" id="t3" style="left:1006px;top:157.8px;font-size:25px;letter-spacing:0.05px;">protein</div>
<div class="t b" id="t4" style="left:564.5px;top:316.8px;font-size:22px;letter-spacing:0.55px;">Egg yolk</div>
<div class="t" id="t5" style="left:403.3px;top:403.4px;font-size:23.4px;letter-spacing:0.5px;transform:scaleX(1.1);">IgY</div>
<div class="t" id="t6" style="left:359.2px;top:424.6px;font-size:24.5px;letter-spacing:0.27px;transform:scaleX(1.06);">purification</div>
<div class="t b" id="t7" style="left:37.3px;top:520.5px;font-size:23px;letter-spacing:0.95px;">Anti <span class="i">Helicobacter pylori</span></div>
<div class="t b" id="t8" style="left:147.3px;top:542.9px;font-size:23px;letter-spacing:0.3px;">IgY</div>
<div class="t i" id="t9" style="left:328.3px;top:609.2px;font-size:24px;letter-spacing:0.2px;transform:scaleX(1.06);">H. pylori</div>
<div class="t" id="t10" style="left:290.6px;top:629.6px;font-size:24.5px;letter-spacing:0.42px;transform:scaleX(1.06);">gastritis patient</div>
<div class="t" id="t11" style="left:903.4px;top:723.6px;font-size:20.2px;letter-spacing:0.36px;transform:scaleX(1.12);">Epithelium</div>

</body></html>
